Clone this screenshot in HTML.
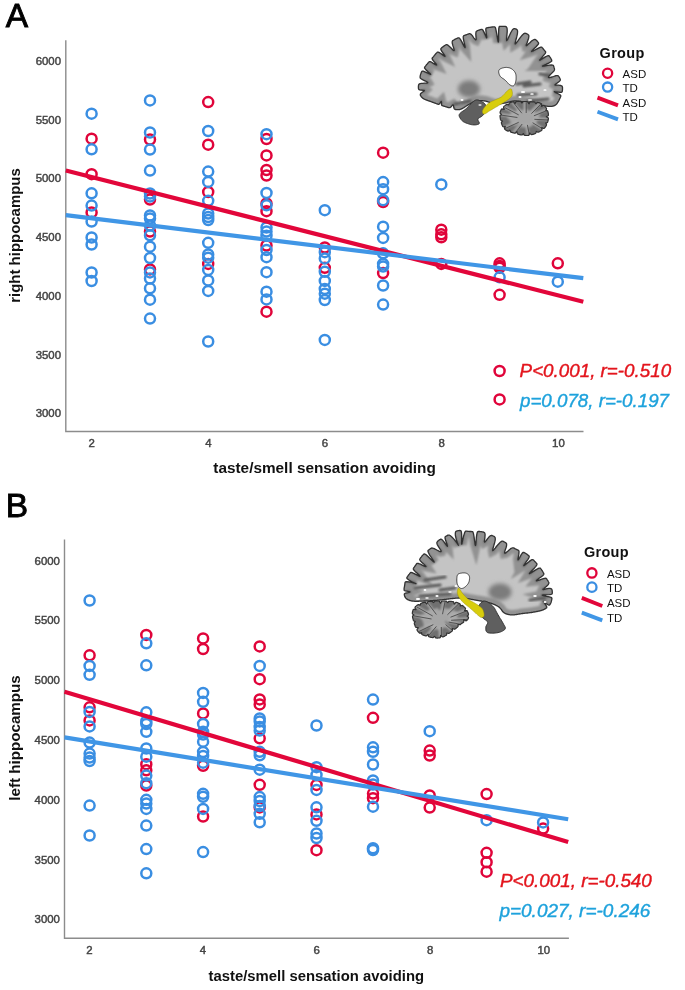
<!DOCTYPE html>
<html><head><meta charset="utf-8"><style>
html,body{margin:0;padding:0;background:#fff;}
svg{display:block;filter:blur(0.35px);}
text{font-family:"Liberation Sans",sans-serif;}
.tk{font-size:11.4px;fill:#444;stroke:#444;stroke-width:0.45px;}
.lab{font-size:15px;font-weight:bold;fill:#111;}
.st{font-size:19px;font-style:italic;stroke-width:0.4px;}
.lg{font-size:14px;font-weight:bold;fill:#111;letter-spacing:0.3px;}
.li{font-size:11.5px;fill:#111;}
.big{font-size:33.5px;fill:#000;stroke:#000;stroke-width:0.9px;}
</style></head><body>
<svg width="685" height="990" viewBox="0 0 685 990">
<text x="5.8" y="27.1" class="big">A</text>
<text x="5.8" y="516.6" class="big">B</text>
<defs><clipPath id="ccA"><path d="M422.1 97.6L421.8 97.3L421.6 97.0L421.3 96.7L421.1 96.4L420.8 96.0L420.6 95.7L420.4 95.4L420.3 95.0L420.3 94.6L420.4 94.1L420.7 93.5L421.4 92.9L422.3 92.2L423.3 91.5L424.1 90.9L424.4 90.6L424.0 90.4L423.0 90.3L421.8 90.2L420.6 90.1L419.7 89.9L419.1 89.6L418.7 89.2L418.6 88.9L418.5 88.5L418.4 88.1L418.4 87.7L418.4 87.3L418.4 86.9L418.4 86.5L418.4 86.1L418.5 85.7L418.5 85.3L418.6 84.9L418.8 84.5L419.0 84.2L419.5 83.8L420.2 83.6L421.3 83.4L422.8 83.3L424.4 83.2L426.0 83.2L427.2 83.0L427.7 82.7L427.4 82.2L426.4 81.5L424.9 80.8L423.4 80.1L422.1 79.4L421.1 78.8L420.5 78.3L420.2 77.9L420.1 77.4L420.1 77.0L420.1 76.6L420.2 76.2L420.2 75.8L420.3 75.4L420.4 75.1L420.5 74.7L420.6 74.3L420.7 73.9L420.9 73.5L421.0 73.1L421.2 72.8L421.3 72.4L421.5 72.0L421.7 71.7L421.9 71.4L422.3 71.1L423.3 71.2L424.9 71.8L427.3 72.9L429.6 74.0L430.7 74.4L429.9 73.5L428.0 71.8L426.1 70.0L425.0 68.7L424.5 67.9L424.6 67.4L424.7 67.0L425.0 66.7L425.2 66.4L425.5 66.1L425.7 65.7L426.0 65.4L426.2 65.1L426.5 64.8L426.7 64.5L427.0 64.2L427.3 63.9L427.5 63.6L427.8 63.3L428.0 63.0L428.3 62.7L428.6 62.4L428.8 62.1L429.1 61.8L429.5 61.6L430.2 61.7L431.5 62.2L433.4 63.4L435.5 64.6L436.6 65.0L436.1 64.0L434.5 62.1L433.0 60.4L432.3 59.2L432.1 58.5L432.2 58.1L432.4 57.8L432.7 57.5L433.0 57.2L433.2 56.9L433.5 56.6L433.7 56.3L434.0 55.9L434.2 55.6L434.5 55.3L434.7 55.0L435.0 54.7L435.3 54.4L435.5 54.1L435.8 53.8L436.1 53.5L436.3 53.2L436.6 52.9L436.9 52.6L437.1 52.3L437.5 52.1L438.0 52.1L438.9 52.4L440.4 53.3L442.4 54.6L444.2 55.9L445.0 56.3L444.6 55.4L443.4 53.6L442.0 51.7L441.1 50.2L440.8 49.3L440.9 48.7L441.1 48.4L441.4 48.1L441.7 47.8L442.0 47.6L442.3 47.3L442.6 47.1L442.9 46.8L443.3 46.6L443.6 46.3L443.9 46.1L444.2 45.9L444.5 45.6L444.9 45.4L445.2 45.2L445.5 45.0L445.9 44.8L446.3 44.7L446.8 44.7L447.4 44.9L448.2 45.4L449.2 46.2L450.3 47.3L451.6 48.5L452.7 49.7L453.6 50.4L454.1 50.6L454.2 50.1L453.9 48.9L453.5 47.4L452.9 45.7L452.5 44.2L452.2 43.0L452.2 42.1L452.3 41.4L452.5 41.0L452.7 40.6L453.1 40.4L453.4 40.2L453.7 40.0L454.1 39.8L454.4 39.6L454.8 39.4L455.2 39.2L455.5 39.0L455.9 38.9L456.2 38.7L456.6 38.5L457.0 38.3L457.3 38.2L457.7 38.0L458.1 37.9L458.5 37.8L458.9 37.8L459.5 38.2L460.4 39.4L461.6 41.4L463.0 44.1L464.3 46.6L465.1 47.5L465.0 46.3L464.4 43.6L463.7 40.6L463.3 38.3L463.2 36.9L463.4 36.1L463.7 35.8L464.0 35.6L464.4 35.4L464.8 35.3L465.2 35.2L465.5 35.0L465.9 34.9L466.3 34.8L466.7 34.6L467.0 34.5L467.4 34.3L467.8 34.2L468.2 34.1L468.6 33.9L468.9 33.8L469.3 33.7L469.7 33.7L470.2 33.8L470.7 34.1L471.4 34.6L472.1 35.4L472.9 36.5L473.8 37.8L474.7 38.9L475.4 39.6L475.9 39.8L476.1 39.4L476.1 38.3L476.0 36.9L475.9 35.4L475.8 34.1L475.9 33.0L476.0 32.1L476.2 31.6L476.5 31.2L476.8 31.0L477.2 30.8L477.6 30.6L477.9 30.5L478.3 30.3L478.7 30.2L479.1 30.1L479.5 30.0L479.8 29.8L480.2 29.7L480.6 29.6L481.0 29.5L481.4 29.4L481.8 29.3L482.2 29.4L482.8 29.9L483.6 31.4L484.8 33.9L486.0 36.6L486.7 37.8L486.6 36.4L486.2 33.5L485.9 30.7L485.8 29.1L486.1 28.3L486.4 28.0L486.8 27.9L487.2 27.8L487.6 27.7L488.0 27.6L488.3 27.6L488.7 27.5L489.1 27.4L489.5 27.4L489.9 27.3L490.3 27.3L490.7 27.2L491.1 27.1L491.5 27.1L491.9 27.0L492.3 27.0L492.7 26.9L493.1 26.9L493.5 26.9L493.9 26.8L494.3 26.8L494.7 26.9L495.2 27.3L495.7 28.6L496.3 31.5L497.1 35.9L497.8 40.2L498.3 42.0L498.5 40.1L498.5 35.8L498.6 31.3L498.8 28.4L499.1 27.0L499.5 26.5L499.9 26.4L500.3 26.3L500.7 26.3L501.1 26.3L501.5 26.3L501.9 26.3L502.3 26.3L502.7 26.3L503.1 26.3L503.5 26.3L503.9 26.3L504.3 26.3L504.7 26.4L505.1 26.4L505.5 26.5L505.9 26.6L506.2 26.8L506.6 27.2L506.9 27.8L507.1 28.7L507.2 30.1L507.2 31.9L507.0 34.1L506.8 36.4L506.6 38.5L506.6 40.0L506.7 40.5L507.1 40.1L507.9 38.8L508.8 36.9L509.8 34.8L510.7 32.8L511.6 31.2L512.3 30.0L513.0 29.3L513.5 28.9L514.0 28.7L514.4 28.7L514.8 28.7L515.2 28.8L515.6 28.9L516.0 29.0L516.3 29.2L516.7 29.4L517.0 29.7L517.3 30.1L517.5 30.7L517.6 31.6L517.5 32.8L517.3 34.3L516.9 36.2L516.4 38.3L515.8 40.3L515.4 42.1L515.2 43.3L515.2 43.9L515.7 43.6L516.5 42.6L517.7 41.2L518.9 39.4L520.2 37.7L521.4 36.2L522.4 35.0L523.3 34.1L524.0 33.6L524.5 33.3L525.0 33.2L525.5 33.3L525.8 33.4L526.2 33.5L526.6 33.7L526.9 33.8L527.3 34.0L527.6 34.2L528.0 34.5L528.3 34.7L528.6 35.1L528.8 35.5L528.9 36.2L528.8 37.0L528.6 38.2L528.2 39.6L527.6 41.2L527.1 42.8L526.5 44.3L526.2 45.3L526.3 45.7L526.7 45.6L527.5 44.9L528.6 43.8L529.9 42.7L531.1 41.5L532.2 40.6L533.2 40.0L534.0 39.6L534.6 39.5L535.1 39.5L535.5 39.6L535.9 39.9L536.2 40.1L536.5 40.4L536.8 40.7L537.0 41.0L537.3 41.3L537.6 41.6L537.8 41.9L538.1 42.2L538.3 42.5L538.5 42.8L538.6 43.3L538.4 44.0L537.6 45.0L536.1 46.7L534.0 48.7L532.2 50.6L531.6 51.5L532.6 51.2L534.9 50.0L537.5 48.6L539.5 47.6L540.8 47.1L541.5 47.1L541.9 47.3L542.2 47.6L542.4 47.9L542.7 48.2L542.9 48.5L543.2 48.8L543.4 49.2L543.7 49.5L543.9 49.8L544.2 50.1L544.5 50.4L544.7 50.7L545.0 51.0L545.2 51.3L545.5 51.6L545.7 52.0L545.6 52.6L545.1 53.6L543.8 55.2L542.0 57.3L540.3 59.3L539.7 60.2L540.7 59.8L542.9 58.4L545.3 56.9L547.1 56.0L548.2 55.6L548.7 55.7L549.1 55.9L549.4 56.2L549.6 56.5L549.8 56.8L550.1 57.2L550.3 57.5L550.5 57.9L550.7 58.2L550.9 58.5L551.1 58.9L551.3 59.2L551.5 59.6L551.6 60.0L551.7 60.4L551.8 60.8L551.5 61.3L550.6 62.0L548.7 63.1L546.0 64.4L543.5 65.5L542.5 66.1L543.7 66.1L546.4 65.7L549.4 65.2L551.5 65.0L552.7 65.1L553.2 65.3L553.5 65.7L553.6 66.1L553.7 66.4L553.8 66.8L554.0 67.2L554.1 67.6L554.2 68.0L554.3 68.3L554.4 68.7L554.5 69.1L554.5 69.6L554.4 70.0L554.1 70.6L553.6 71.4L552.7 72.3L551.6 73.4L550.4 74.6L549.3 75.8L548.6 76.8L548.5 77.4L549.1 77.6L550.3 77.4L551.8 77.0L553.5 76.5L554.9 76.0L556.1 75.7L557.0 75.6L557.7 75.7L558.1 75.8L558.5 76.1L558.8 76.4L559.0 76.7L559.2 77.1L559.4 77.4L559.6 77.8L559.8 78.1L560.0 78.5L560.1 78.8L560.3 79.2L560.3 79.6L560.3 80.1L560.1 80.6L559.6 81.1L558.9 81.8L557.9 82.5L556.9 83.3L555.9 84.0L555.2 84.5L555.0 84.9L555.3 85.1L556.2 85.1L557.4 85.2L558.7 85.2L559.9 85.3L560.8 85.5L561.5 85.8L562.0 86.1L562.2 86.5L562.4 86.9L562.5 87.3L562.5 87.7L562.5 88.1L562.5 88.5L562.5 88.9L562.5 89.3L562.5 89.7L562.4 90.1L562.4 90.5L562.3 90.9L562.3 91.2L562.2 91.6L562.0 92.0L561.5 92.3L560.3 92.4L558.0 92.1L555.5 91.8L554.3 91.7L555.3 92.3L557.6 93.5L559.6 94.5L560.6 95.3L560.8 95.8L560.8 96.2L560.6 96.6L560.5 97.0L560.3 97.3L560.2 97.7L560.0 98.1L559.9 98.4L559.7 98.8L559.5 99.2L559.3 99.5L559.2 99.9L559.0 100.2L558.8 100.6L558.6 101.0L558.4 101.3L558.2 101.7L558.0 102.0L557.8 102.3L557.6 102.7L557.4 103.0L557.2 103.3L556.9 103.7L556.7 104.0L556.4 104.3L556.1 104.5L555.8 104.8L555.5 105.0L555.1 105.3L554.8 105.4L554.4 105.6L554.1 105.8L553.7 105.9L553.3 106.0L552.9 106.1L552.5 106.2L552.1 106.3L551.7 106.3L551.3 106.3L550.9 106.4L550.5 106.4L550.1 106.4L549.7 106.4L549.3 106.4L548.9 106.3L548.5 106.3L548.1 106.3L547.7 106.3L547.3 106.2L546.9 106.2L546.5 106.2L546.1 106.1L545.7 106.1L545.3 106.0L544.9 106.0L544.5 105.9L544.1 105.9L543.7 105.8L543.3 105.8L543.0 105.7L542.6 105.6L542.2 105.6L541.8 105.5L541.4 105.4L541.0 105.3L540.6 105.3L540.2 105.2L539.8 105.1L539.4 105.0L539.0 104.9L538.6 104.8L538.2 104.7L537.9 104.7L537.5 104.6L537.1 104.5L536.7 104.4L536.3 104.3L535.9 104.2L535.5 104.1L535.1 104.0L534.7 103.9L534.3 103.9L533.9 103.8L533.6 103.7L533.2 103.6L532.8 103.5L532.4 103.4L532.0 103.4L531.6 103.3L531.2 103.2L530.8 103.1L530.4 103.1L530.0 103.0L529.6 102.9L529.2 102.9L528.8 102.8L528.4 102.7L528.0 102.7L527.7 102.6L527.3 102.5L526.9 102.5L526.5 102.4L526.1 102.3L525.7 102.3L525.3 102.2L524.9 102.1L524.5 102.1L524.1 102.0L523.7 101.9L523.3 101.9L522.9 101.8L522.5 101.7L522.1 101.7L521.7 101.6L521.3 101.6L520.9 101.5L520.5 101.5L520.1 101.4L519.7 101.4L519.3 101.3L518.9 101.3L518.6 101.2L518.2 101.2L517.8 101.1L517.4 101.1L517.0 101.1L516.6 101.1L516.2 101.0L515.8 101.0L515.4 101.0L515.0 101.0L514.6 101.0L514.2 101.0L513.8 101.0L513.4 101.1L513.0 101.1L512.6 101.2L512.2 101.2L511.8 101.3L511.4 101.4L511.0 101.5L510.6 101.6L510.2 101.7L509.8 101.8L509.4 101.9L509.1 102.0L508.7 102.1L508.3 102.2L507.9 102.3L507.5 102.4L507.1 102.5L506.7 102.6L506.4 102.7L506.0 102.8L505.6 102.9L505.2 103.0L504.8 103.0L504.4 103.1L504.0 103.2L503.6 103.2L503.2 103.3L502.8 103.4L502.4 103.4L502.0 103.5L501.6 103.6L501.2 103.6L500.8 103.7L500.4 103.7L500.0 103.8L499.6 103.9L499.2 103.9L498.8 103.9L498.4 104.0L498.0 104.0L497.6 104.0L497.2 104.1L496.8 104.1L496.4 104.1L496.0 104.1L495.6 104.0L495.2 104.0L494.8 104.0L494.5 103.9L494.1 103.9L493.7 103.8L493.3 103.7L492.9 103.6L492.5 103.5L492.1 103.3L491.7 103.2L491.4 103.1L491.0 103.0L490.6 102.8L490.2 102.7L489.9 102.5L489.5 102.4L489.1 102.2L488.7 102.1L488.4 102.0L488.0 101.8L487.6 101.7L487.2 101.6L486.9 101.4L486.5 101.3L486.1 101.2L485.7 101.1L485.3 101.1L484.9 101.0L484.5 100.9L484.1 100.9L483.7 100.8L483.3 100.8L482.9 100.7L482.5 100.7L482.1 100.7L481.7 100.6L481.3 100.6L480.9 100.6L480.5 100.6L480.1 100.6L479.7 100.6L479.3 100.6L478.9 100.6L478.5 100.6L478.1 100.7L477.7 100.7L477.3 100.8L476.9 100.8L476.5 100.9L476.1 101.0L475.8 101.1L475.4 101.2L475.0 101.3L474.6 101.4L474.2 101.6L473.9 101.7L473.5 101.9L473.1 102.1L472.8 102.2L472.4 102.4L472.1 102.6L471.7 102.8L471.4 103.0L471.0 103.2L470.7 103.4L470.4 103.6L470.0 103.8L469.7 104.0L469.3 104.2L469.0 104.4L468.6 104.6L468.2 104.8L467.9 105.0L467.5 105.2L467.2 105.4L466.9 105.6L466.5 105.8L466.2 106.0L465.9 106.2L465.5 106.5L465.2 106.7L464.9 106.9L464.5 107.1L464.2 107.4L463.9 107.6L463.5 107.8L463.2 108.0L462.8 108.2L462.5 108.4L462.1 108.6L461.8 108.8L461.4 108.9L461.0 109.1L460.7 109.2L460.3 109.3L459.9 109.5L459.5 109.6L459.1 109.6L458.7 109.7L458.3 109.7L457.9 109.7L457.5 109.7L457.1 109.7L456.7 109.7L456.3 109.6L455.9 109.6L455.5 109.5L455.1 109.4L454.8 109.2L454.4 109.0L454.1 108.5L453.9 107.8L453.7 106.9L453.6 106.0L453.4 105.3L453.1 104.9L452.7 105.1L452.1 105.6L451.5 106.3L450.9 107.0L450.3 107.4L449.8 107.7L449.4 107.7L449.0 107.7L448.6 107.6L448.2 107.5L447.8 107.4L447.4 107.3L447.1 107.1L446.7 107.0L446.3 106.9L445.9 106.8L445.5 106.7L445.1 106.5L444.8 106.4L444.4 106.3L444.0 106.2L443.6 106.1L443.2 106.0L442.8 105.8L442.5 105.7L442.1 105.6L441.8 105.3L441.5 104.8L441.5 103.6L441.5 102.3L441.3 101.5L440.8 102.0L440.0 103.1L439.3 104.0L438.7 104.3L438.3 104.3L437.9 104.2L437.5 104.1L437.2 103.9L436.8 103.8L436.4 103.7L436.0 103.5L435.7 103.4L435.3 103.2L434.9 103.1L434.5 103.0L434.2 102.8L433.8 102.7L433.4 102.5L433.0 102.4L432.7 102.3L432.3 102.1L431.9 102.0L431.5 101.8L431.2 101.7L430.8 101.5L430.4 101.4L430.0 101.3L429.6 101.2L429.3 101.0L428.9 100.9L428.5 100.8L428.1 100.6L427.7 100.5L427.4 100.4L427.0 100.2L426.6 100.1L426.2 100.0L425.9 99.8L425.5 99.7L425.1 99.5L424.8 99.3L424.4 99.2L424.1 99.0L423.7 98.8L423.4 98.6L423.0 98.4L422.7 98.1L422.4 97.9Z"/></clipPath><clipPath id="cbA"><path d="M501.4 114.3L501.1 113.9L500.5 113.5L500.1 113.1L500.1 112.7L500.1 112.3L500.2 111.9L500.3 111.5L500.4 111.2L500.6 110.8L500.8 110.4L500.9 110.1L501.2 109.7L501.4 109.4L501.6 109.1L502.1 108.9L502.9 109.1L503.8 109.4L504.2 109.3L504.0 108.5L503.6 107.7L503.6 107.1L503.7 106.7L504.0 106.4L504.3 106.1L504.6 105.9L504.9 105.6L505.2 105.4L505.6 105.1L505.9 104.9L506.2 104.7L506.5 104.4L506.9 104.3L507.4 104.3L508.0 104.6L508.6 104.9L508.9 104.7L509.0 104.0L509.1 103.4L509.4 103.0L509.7 102.8L510.1 102.6L510.5 102.5L510.8 102.3L511.2 102.2L511.6 102.1L512.0 102.0L512.4 101.9L512.8 101.8L513.2 101.7L513.6 101.8L514.1 102.2L514.5 103.0L515.0 103.6L515.3 103.3L515.6 102.4L516.0 101.7L516.4 101.4L516.7 101.3L517.1 101.3L517.5 101.3L517.9 101.3L518.3 101.3L518.7 101.3L519.1 101.3L519.5 101.3L519.9 101.3L520.3 101.4L520.7 101.5L521.1 101.9L521.5 102.6L521.9 102.9L522.3 102.5L522.7 101.9L523.1 101.6L523.6 101.5L524.0 101.5L524.4 101.5L524.8 101.5L525.2 101.5L525.6 101.5L526.0 101.5L526.4 101.5L526.8 101.6L527.2 101.6L527.6 101.7L527.9 102.0L528.3 102.7L528.7 103.6L529.1 103.8L529.5 103.1L529.9 102.2L530.3 101.8L530.8 101.7L531.2 101.7L531.6 101.8L532.0 101.8L532.4 101.8L532.8 101.8L533.2 101.9L533.6 101.9L534.0 101.9L534.3 102.0L534.7 102.1L535.1 102.4L535.4 103.0L535.8 103.6L536.1 103.6L536.6 103.0L537.1 102.6L537.5 102.4L537.9 102.5L538.3 102.5L538.7 102.6L539.1 102.7L539.5 102.8L539.9 103.0L540.2 103.1L540.6 103.2L541.0 103.4L541.3 103.6L541.6 103.9L541.7 104.5L541.6 105.5L541.5 106.2L542.0 106.1L542.8 105.5L543.5 105.3L544.0 105.4L544.3 105.6L544.6 105.9L544.9 106.1L545.1 106.4L545.4 106.8L545.6 107.1L545.9 107.4L546.1 107.7L546.3 108.1L546.5 108.4L546.5 108.8L546.4 109.4L546.0 110.0L545.9 110.4L546.4 110.6L547.1 110.7L547.6 111.0L547.8 111.3L547.9 111.7L548.0 112.1L548.1 112.5L548.2 112.9L548.3 113.3L548.3 113.7L548.4 114.1L548.4 114.5L548.5 114.9L548.4 115.3L548.1 115.7L547.4 116.1L546.6 116.5L546.4 116.8L547.2 117.2L548.0 117.6L548.3 118.0L548.4 118.5L548.4 118.9L548.3 119.3L548.2 119.6L548.2 120.0L548.1 120.4L548.0 120.8L547.9 121.2L547.8 121.6L547.7 122.0L547.5 122.3L547.1 122.6L546.4 122.8L545.8 123.0L545.8 123.4L546.2 123.9L546.5 124.5L546.5 125.0L546.4 125.3L546.2 125.7L546.0 126.0L545.8 126.4L545.6 126.7L545.3 127.0L545.1 127.4L544.8 127.7L544.6 128.0L544.3 128.2L543.9 128.4L543.2 128.3L542.4 127.8L541.8 127.6L541.7 128.1L542.0 129.1L542.0 129.8L541.8 130.2L541.5 130.5L541.1 130.7L540.8 130.9L540.5 131.1L540.1 131.3L539.8 131.5L539.4 131.7L539.0 131.9L538.7 132.0L538.3 132.2L537.9 132.2L537.3 132.0L536.7 131.6L536.3 131.5L536.1 132.1L536.0 132.8L535.7 133.2L535.4 133.5L535.0 133.6L534.6 133.8L534.3 133.9L533.9 134.1L533.5 134.2L533.1 134.3L532.7 134.4L532.4 134.5L532.0 134.6L531.6 134.7L531.1 134.4L530.5 133.8L530.0 133.1L529.6 133.1L529.4 133.9L529.2 134.8L528.8 135.2L528.5 135.4L528.1 135.4L527.7 135.5L527.3 135.5L526.9 135.5L526.5 135.5L526.1 135.5L525.7 135.5L525.3 135.5L524.9 135.4L524.5 135.3L524.1 135.0L523.8 134.4L523.5 133.8L523.1 133.9L522.6 134.5L522.1 134.9L521.7 135.0L521.3 135.0L520.9 134.9L520.5 134.8L520.1 134.7L519.7 134.6L519.3 134.6L518.9 134.5L518.6 134.4L518.2 134.3L517.8 134.1L517.5 133.8L517.2 133.2L517.1 132.2L516.9 131.6L516.4 131.9L515.7 132.7L515.2 133.1L514.7 133.2L514.3 133.1L513.9 133.0L513.6 132.9L513.2 132.8L512.8 132.7L512.4 132.6L512.0 132.5L511.6 132.4L511.3 132.2L510.9 132.1L510.5 131.8L510.3 131.3L510.1 130.6L509.8 130.2L509.3 130.5L508.7 131.0L508.3 131.1L507.8 131.1L507.5 130.9L507.1 130.8L506.8 130.6L506.4 130.4L506.1 130.2L505.7 129.9L505.4 129.7L505.1 129.5L504.8 129.2L504.6 128.9L504.5 128.3L504.9 127.5L505.3 126.8L505.2 126.5L504.3 126.7L503.5 126.8L502.9 126.6L502.7 126.3L502.5 126.0L502.3 125.6L502.2 125.2L502.0 124.8L501.9 124.5L501.7 124.1L501.6 123.7L501.5 123.3L501.4 123.0L501.4 122.5L501.6 122.1L502.0 121.5L502.4 121.1L502.1 120.7L501.4 120.5L500.9 120.2L500.6 119.8L500.5 119.5L500.4 119.1L500.4 118.7L500.3 118.3L500.2 117.9L500.2 117.5L500.1 117.1L500.1 116.7L500.0 116.3L500.0 115.9L500.1 115.5L500.5 115.1L501.1 114.7Z"/></clipPath><filter id="blA" x="-5%" y="-5%" width="110%" height="110%"><feGaussianBlur stdDeviation="0.6"/></filter><filter id="cxA" x="-5%" y="-5%" width="110%" height="110%"><feGaussianBlur stdDeviation="1.1"/></filter><filter id="bbA" x="-50%" y="-50%" width="200%" height="200%"><feGaussianBlur stdDeviation="2.2"/></filter></defs>
<g filter="url(#blA)">
<path d="M422.1 97.6L421.8 97.3L421.6 97.0L421.3 96.7L421.1 96.4L420.8 96.0L420.6 95.7L420.4 95.4L420.3 95.0L420.3 94.6L420.4 94.1L420.7 93.5L421.4 92.9L422.3 92.2L423.3 91.5L424.1 90.9L424.4 90.6L424.0 90.4L423.0 90.3L421.8 90.2L420.6 90.1L419.7 89.9L419.1 89.6L418.7 89.2L418.6 88.9L418.5 88.5L418.4 88.1L418.4 87.7L418.4 87.3L418.4 86.9L418.4 86.5L418.4 86.1L418.5 85.7L418.5 85.3L418.6 84.9L418.8 84.5L419.0 84.2L419.5 83.8L420.2 83.6L421.3 83.4L422.8 83.3L424.4 83.2L426.0 83.2L427.2 83.0L427.7 82.7L427.4 82.2L426.4 81.5L424.9 80.8L423.4 80.1L422.1 79.4L421.1 78.8L420.5 78.3L420.2 77.9L420.1 77.4L420.1 77.0L420.1 76.6L420.2 76.2L420.2 75.8L420.3 75.4L420.4 75.1L420.5 74.7L420.6 74.3L420.7 73.9L420.9 73.5L421.0 73.1L421.2 72.8L421.3 72.4L421.5 72.0L421.7 71.7L421.9 71.4L422.3 71.1L423.3 71.2L424.9 71.8L427.3 72.9L429.6 74.0L430.7 74.4L429.9 73.5L428.0 71.8L426.1 70.0L425.0 68.7L424.5 67.9L424.6 67.4L424.7 67.0L425.0 66.7L425.2 66.4L425.5 66.1L425.7 65.7L426.0 65.4L426.2 65.1L426.5 64.8L426.7 64.5L427.0 64.2L427.3 63.9L427.5 63.6L427.8 63.3L428.0 63.0L428.3 62.7L428.6 62.4L428.8 62.1L429.1 61.8L429.5 61.6L430.2 61.7L431.5 62.2L433.4 63.4L435.5 64.6L436.6 65.0L436.1 64.0L434.5 62.1L433.0 60.4L432.3 59.2L432.1 58.5L432.2 58.1L432.4 57.8L432.7 57.5L433.0 57.2L433.2 56.9L433.5 56.6L433.7 56.3L434.0 55.9L434.2 55.6L434.5 55.3L434.7 55.0L435.0 54.7L435.3 54.4L435.5 54.1L435.8 53.8L436.1 53.5L436.3 53.2L436.6 52.9L436.9 52.6L437.1 52.3L437.5 52.1L438.0 52.1L438.9 52.4L440.4 53.3L442.4 54.6L444.2 55.9L445.0 56.3L444.6 55.4L443.4 53.6L442.0 51.7L441.1 50.2L440.8 49.3L440.9 48.7L441.1 48.4L441.4 48.1L441.7 47.8L442.0 47.6L442.3 47.3L442.6 47.1L442.9 46.8L443.3 46.6L443.6 46.3L443.9 46.1L444.2 45.9L444.5 45.6L444.9 45.4L445.2 45.2L445.5 45.0L445.9 44.8L446.3 44.7L446.8 44.7L447.4 44.9L448.2 45.4L449.2 46.2L450.3 47.3L451.6 48.5L452.7 49.7L453.6 50.4L454.1 50.6L454.2 50.1L453.9 48.9L453.5 47.4L452.9 45.7L452.5 44.2L452.2 43.0L452.2 42.1L452.3 41.4L452.5 41.0L452.7 40.6L453.1 40.4L453.4 40.2L453.7 40.0L454.1 39.8L454.4 39.6L454.8 39.4L455.2 39.2L455.5 39.0L455.9 38.9L456.2 38.7L456.6 38.5L457.0 38.3L457.3 38.2L457.7 38.0L458.1 37.9L458.5 37.8L458.9 37.8L459.5 38.2L460.4 39.4L461.6 41.4L463.0 44.1L464.3 46.6L465.1 47.5L465.0 46.3L464.4 43.6L463.7 40.6L463.3 38.3L463.2 36.9L463.4 36.1L463.7 35.8L464.0 35.6L464.4 35.4L464.8 35.3L465.2 35.2L465.5 35.0L465.9 34.9L466.3 34.8L466.7 34.6L467.0 34.5L467.4 34.3L467.8 34.2L468.2 34.1L468.6 33.9L468.9 33.8L469.3 33.7L469.7 33.7L470.2 33.8L470.7 34.1L471.4 34.6L472.1 35.4L472.9 36.5L473.8 37.8L474.7 38.9L475.4 39.6L475.9 39.8L476.1 39.4L476.1 38.3L476.0 36.9L475.9 35.4L475.8 34.1L475.9 33.0L476.0 32.1L476.2 31.6L476.5 31.2L476.8 31.0L477.2 30.8L477.6 30.6L477.9 30.5L478.3 30.3L478.7 30.2L479.1 30.1L479.5 30.0L479.8 29.8L480.2 29.7L480.6 29.6L481.0 29.5L481.4 29.4L481.8 29.3L482.2 29.4L482.8 29.9L483.6 31.4L484.8 33.9L486.0 36.6L486.7 37.8L486.6 36.4L486.2 33.5L485.9 30.7L485.8 29.1L486.1 28.3L486.4 28.0L486.8 27.9L487.2 27.8L487.6 27.7L488.0 27.6L488.3 27.6L488.7 27.5L489.1 27.4L489.5 27.4L489.9 27.3L490.3 27.3L490.7 27.2L491.1 27.1L491.5 27.1L491.9 27.0L492.3 27.0L492.7 26.9L493.1 26.9L493.5 26.9L493.9 26.8L494.3 26.8L494.7 26.9L495.2 27.3L495.7 28.6L496.3 31.5L497.1 35.9L497.8 40.2L498.3 42.0L498.5 40.1L498.5 35.8L498.6 31.3L498.8 28.4L499.1 27.0L499.5 26.5L499.9 26.4L500.3 26.3L500.7 26.3L501.1 26.3L501.5 26.3L501.9 26.3L502.3 26.3L502.7 26.3L503.1 26.3L503.5 26.3L503.9 26.3L504.3 26.3L504.7 26.4L505.1 26.4L505.5 26.5L505.9 26.6L506.2 26.8L506.6 27.2L506.9 27.8L507.1 28.7L507.2 30.1L507.2 31.9L507.0 34.1L506.8 36.4L506.6 38.5L506.6 40.0L506.7 40.5L507.1 40.1L507.9 38.8L508.8 36.9L509.8 34.8L510.7 32.8L511.6 31.2L512.3 30.0L513.0 29.3L513.5 28.9L514.0 28.7L514.4 28.7L514.8 28.7L515.2 28.8L515.6 28.9L516.0 29.0L516.3 29.2L516.7 29.4L517.0 29.7L517.3 30.1L517.5 30.7L517.6 31.6L517.5 32.8L517.3 34.3L516.9 36.2L516.4 38.3L515.8 40.3L515.4 42.1L515.2 43.3L515.2 43.9L515.7 43.6L516.5 42.6L517.7 41.2L518.9 39.4L520.2 37.7L521.4 36.2L522.4 35.0L523.3 34.1L524.0 33.6L524.5 33.3L525.0 33.2L525.5 33.3L525.8 33.4L526.2 33.5L526.6 33.7L526.9 33.8L527.3 34.0L527.6 34.2L528.0 34.5L528.3 34.7L528.6 35.1L528.8 35.5L528.9 36.2L528.8 37.0L528.6 38.2L528.2 39.6L527.6 41.2L527.1 42.8L526.5 44.3L526.2 45.3L526.3 45.7L526.7 45.6L527.5 44.9L528.6 43.8L529.9 42.7L531.1 41.5L532.2 40.6L533.2 40.0L534.0 39.6L534.6 39.5L535.1 39.5L535.5 39.6L535.9 39.9L536.2 40.1L536.5 40.4L536.8 40.7L537.0 41.0L537.3 41.3L537.6 41.6L537.8 41.9L538.1 42.2L538.3 42.5L538.5 42.8L538.6 43.3L538.4 44.0L537.6 45.0L536.1 46.7L534.0 48.7L532.2 50.6L531.6 51.5L532.6 51.2L534.9 50.0L537.5 48.6L539.5 47.6L540.8 47.1L541.5 47.1L541.9 47.3L542.2 47.6L542.4 47.9L542.7 48.2L542.9 48.5L543.2 48.8L543.4 49.2L543.7 49.5L543.9 49.8L544.2 50.1L544.5 50.4L544.7 50.7L545.0 51.0L545.2 51.3L545.5 51.6L545.7 52.0L545.6 52.6L545.1 53.6L543.8 55.2L542.0 57.3L540.3 59.3L539.7 60.2L540.7 59.8L542.9 58.4L545.3 56.9L547.1 56.0L548.2 55.6L548.7 55.7L549.1 55.9L549.4 56.2L549.6 56.5L549.8 56.8L550.1 57.2L550.3 57.5L550.5 57.9L550.7 58.2L550.9 58.5L551.1 58.9L551.3 59.2L551.5 59.6L551.6 60.0L551.7 60.4L551.8 60.8L551.5 61.3L550.6 62.0L548.7 63.1L546.0 64.4L543.5 65.5L542.5 66.1L543.7 66.1L546.4 65.7L549.4 65.2L551.5 65.0L552.7 65.1L553.2 65.3L553.5 65.7L553.6 66.1L553.7 66.4L553.8 66.8L554.0 67.2L554.1 67.6L554.2 68.0L554.3 68.3L554.4 68.7L554.5 69.1L554.5 69.6L554.4 70.0L554.1 70.6L553.6 71.4L552.7 72.3L551.6 73.4L550.4 74.6L549.3 75.8L548.6 76.8L548.5 77.4L549.1 77.6L550.3 77.4L551.8 77.0L553.5 76.5L554.9 76.0L556.1 75.7L557.0 75.6L557.7 75.7L558.1 75.8L558.5 76.1L558.8 76.4L559.0 76.7L559.2 77.1L559.4 77.4L559.6 77.8L559.8 78.1L560.0 78.5L560.1 78.8L560.3 79.2L560.3 79.6L560.3 80.1L560.1 80.6L559.6 81.1L558.9 81.8L557.9 82.5L556.9 83.3L555.9 84.0L555.2 84.5L555.0 84.9L555.3 85.1L556.2 85.1L557.4 85.2L558.7 85.2L559.9 85.3L560.8 85.5L561.5 85.8L562.0 86.1L562.2 86.5L562.4 86.9L562.5 87.3L562.5 87.7L562.5 88.1L562.5 88.5L562.5 88.9L562.5 89.3L562.5 89.7L562.4 90.1L562.4 90.5L562.3 90.9L562.3 91.2L562.2 91.6L562.0 92.0L561.5 92.3L560.3 92.4L558.0 92.1L555.5 91.8L554.3 91.7L555.3 92.3L557.6 93.5L559.6 94.5L560.6 95.3L560.8 95.8L560.8 96.2L560.6 96.6L560.5 97.0L560.3 97.3L560.2 97.7L560.0 98.1L559.9 98.4L559.7 98.8L559.5 99.2L559.3 99.5L559.2 99.9L559.0 100.2L558.8 100.6L558.6 101.0L558.4 101.3L558.2 101.7L558.0 102.0L557.8 102.3L557.6 102.7L557.4 103.0L557.2 103.3L556.9 103.7L556.7 104.0L556.4 104.3L556.1 104.5L555.8 104.8L555.5 105.0L555.1 105.3L554.8 105.4L554.4 105.6L554.1 105.8L553.7 105.9L553.3 106.0L552.9 106.1L552.5 106.2L552.1 106.3L551.7 106.3L551.3 106.3L550.9 106.4L550.5 106.4L550.1 106.4L549.7 106.4L549.3 106.4L548.9 106.3L548.5 106.3L548.1 106.3L547.7 106.3L547.3 106.2L546.9 106.2L546.5 106.2L546.1 106.1L545.7 106.1L545.3 106.0L544.9 106.0L544.5 105.9L544.1 105.9L543.7 105.8L543.3 105.8L543.0 105.7L542.6 105.6L542.2 105.6L541.8 105.5L541.4 105.4L541.0 105.3L540.6 105.3L540.2 105.2L539.8 105.1L539.4 105.0L539.0 104.9L538.6 104.8L538.2 104.7L537.9 104.7L537.5 104.6L537.1 104.5L536.7 104.4L536.3 104.3L535.9 104.2L535.5 104.1L535.1 104.0L534.7 103.9L534.3 103.9L533.9 103.8L533.6 103.7L533.2 103.6L532.8 103.5L532.4 103.4L532.0 103.4L531.6 103.3L531.2 103.2L530.8 103.1L530.4 103.1L530.0 103.0L529.6 102.9L529.2 102.9L528.8 102.8L528.4 102.7L528.0 102.7L527.7 102.6L527.3 102.5L526.9 102.5L526.5 102.4L526.1 102.3L525.7 102.3L525.3 102.2L524.9 102.1L524.5 102.1L524.1 102.0L523.7 101.9L523.3 101.9L522.9 101.8L522.5 101.7L522.1 101.7L521.7 101.6L521.3 101.6L520.9 101.5L520.5 101.5L520.1 101.4L519.7 101.4L519.3 101.3L518.9 101.3L518.6 101.2L518.2 101.2L517.8 101.1L517.4 101.1L517.0 101.1L516.6 101.1L516.2 101.0L515.8 101.0L515.4 101.0L515.0 101.0L514.6 101.0L514.2 101.0L513.8 101.0L513.4 101.1L513.0 101.1L512.6 101.2L512.2 101.2L511.8 101.3L511.4 101.4L511.0 101.5L510.6 101.6L510.2 101.7L509.8 101.8L509.4 101.9L509.1 102.0L508.7 102.1L508.3 102.2L507.9 102.3L507.5 102.4L507.1 102.5L506.7 102.6L506.4 102.7L506.0 102.8L505.6 102.9L505.2 103.0L504.8 103.0L504.4 103.1L504.0 103.2L503.6 103.2L503.2 103.3L502.8 103.4L502.4 103.4L502.0 103.5L501.6 103.6L501.2 103.6L500.8 103.7L500.4 103.7L500.0 103.8L499.6 103.9L499.2 103.9L498.8 103.9L498.4 104.0L498.0 104.0L497.6 104.0L497.2 104.1L496.8 104.1L496.4 104.1L496.0 104.1L495.6 104.0L495.2 104.0L494.8 104.0L494.5 103.9L494.1 103.9L493.7 103.8L493.3 103.7L492.9 103.6L492.5 103.5L492.1 103.3L491.7 103.2L491.4 103.1L491.0 103.0L490.6 102.8L490.2 102.7L489.9 102.5L489.5 102.4L489.1 102.2L488.7 102.1L488.4 102.0L488.0 101.8L487.6 101.7L487.2 101.6L486.9 101.4L486.5 101.3L486.1 101.2L485.7 101.1L485.3 101.1L484.9 101.0L484.5 100.9L484.1 100.9L483.7 100.8L483.3 100.8L482.9 100.7L482.5 100.7L482.1 100.7L481.7 100.6L481.3 100.6L480.9 100.6L480.5 100.6L480.1 100.6L479.7 100.6L479.3 100.6L478.9 100.6L478.5 100.6L478.1 100.7L477.7 100.7L477.3 100.8L476.9 100.8L476.5 100.9L476.1 101.0L475.8 101.1L475.4 101.2L475.0 101.3L474.6 101.4L474.2 101.6L473.9 101.7L473.5 101.9L473.1 102.1L472.8 102.2L472.4 102.4L472.1 102.6L471.7 102.8L471.4 103.0L471.0 103.2L470.7 103.4L470.4 103.6L470.0 103.8L469.7 104.0L469.3 104.2L469.0 104.4L468.6 104.6L468.2 104.8L467.9 105.0L467.5 105.2L467.2 105.4L466.9 105.6L466.5 105.8L466.2 106.0L465.9 106.2L465.5 106.5L465.2 106.7L464.9 106.9L464.5 107.1L464.2 107.4L463.9 107.6L463.5 107.8L463.2 108.0L462.8 108.2L462.5 108.4L462.1 108.6L461.8 108.8L461.4 108.9L461.0 109.1L460.7 109.2L460.3 109.3L459.9 109.5L459.5 109.6L459.1 109.6L458.7 109.7L458.3 109.7L457.9 109.7L457.5 109.7L457.1 109.7L456.7 109.7L456.3 109.6L455.9 109.6L455.5 109.5L455.1 109.4L454.8 109.2L454.4 109.0L454.1 108.5L453.9 107.8L453.7 106.9L453.6 106.0L453.4 105.3L453.1 104.9L452.7 105.1L452.1 105.6L451.5 106.3L450.9 107.0L450.3 107.4L449.8 107.7L449.4 107.7L449.0 107.7L448.6 107.6L448.2 107.5L447.8 107.4L447.4 107.3L447.1 107.1L446.7 107.0L446.3 106.9L445.9 106.8L445.5 106.7L445.1 106.5L444.8 106.4L444.4 106.3L444.0 106.2L443.6 106.1L443.2 106.0L442.8 105.8L442.5 105.7L442.1 105.6L441.8 105.3L441.5 104.8L441.5 103.6L441.5 102.3L441.3 101.5L440.8 102.0L440.0 103.1L439.3 104.0L438.7 104.3L438.3 104.3L437.9 104.2L437.5 104.1L437.2 103.9L436.8 103.8L436.4 103.7L436.0 103.5L435.7 103.4L435.3 103.2L434.9 103.1L434.5 103.0L434.2 102.8L433.8 102.7L433.4 102.5L433.0 102.4L432.7 102.3L432.3 102.1L431.9 102.0L431.5 101.8L431.2 101.7L430.8 101.5L430.4 101.4L430.0 101.3L429.6 101.2L429.3 101.0L428.9 100.9L428.5 100.8L428.1 100.6L427.7 100.5L427.4 100.4L427.0 100.2L426.6 100.1L426.2 100.0L425.9 99.8L425.5 99.7L425.1 99.5L424.8 99.3L424.4 99.2L424.1 99.0L423.7 98.8L423.4 98.6L423.0 98.4L422.7 98.1L422.4 97.9Z" fill="#c4c4c4"/>
<g clip-path="url(#ccA)">
<g filter="url(#cxA)"><path d="M422.1 97.6L421.8 97.3L421.6 97.0L421.3 96.7L421.1 96.4L420.8 96.0L420.6 95.7L420.4 95.4L420.3 95.0L420.3 94.6L420.4 94.1L420.7 93.5L421.4 92.9L422.3 92.2L423.3 91.5L424.1 90.9L424.4 90.6L424.0 90.4L423.0 90.3L421.8 90.2L420.6 90.1L419.7 89.9L419.1 89.6L418.7 89.2L418.6 88.9L418.5 88.5L418.4 88.1L418.4 87.7L418.4 87.3L418.4 86.9L418.4 86.5L418.4 86.1L418.5 85.7L418.5 85.3L418.6 84.9L418.8 84.5L419.0 84.2L419.5 83.8L420.2 83.6L421.3 83.4L422.8 83.3L424.4 83.2L426.0 83.2L427.2 83.0L427.7 82.7L427.4 82.2L426.4 81.5L424.9 80.8L423.4 80.1L422.1 79.4L421.1 78.8L420.5 78.3L420.2 77.9L420.1 77.4L420.1 77.0L420.1 76.6L420.2 76.2L420.2 75.8L420.3 75.4L420.4 75.1L420.5 74.7L420.6 74.3L420.7 73.9L420.9 73.5L421.0 73.1L421.2 72.8L421.3 72.4L421.5 72.0L421.7 71.7L421.9 71.4L422.3 71.1L423.3 71.2L424.9 71.8L427.3 72.9L429.6 74.0L430.7 74.4L429.9 73.5L428.0 71.8L426.1 70.0L425.0 68.7L424.5 67.9L424.6 67.4L424.7 67.0L425.0 66.7L425.2 66.4L425.5 66.1L425.7 65.7L426.0 65.4L426.2 65.1L426.5 64.8L426.7 64.5L427.0 64.2L427.3 63.9L427.5 63.6L427.8 63.3L428.0 63.0L428.3 62.7L428.6 62.4L428.8 62.1L429.1 61.8L429.5 61.6L430.2 61.7L431.5 62.2L433.4 63.4L435.5 64.6L436.6 65.0L436.1 64.0L434.5 62.1L433.0 60.4L432.3 59.2L432.1 58.5L432.2 58.1L432.4 57.8L432.7 57.5L433.0 57.2L433.2 56.9L433.5 56.6L433.7 56.3L434.0 55.9L434.2 55.6L434.5 55.3L434.7 55.0L435.0 54.7L435.3 54.4L435.5 54.1L435.8 53.8L436.1 53.5L436.3 53.2L436.6 52.9L436.9 52.6L437.1 52.3L437.5 52.1L438.0 52.1L438.9 52.4L440.4 53.3L442.4 54.6L444.2 55.9L445.0 56.3L444.6 55.4L443.4 53.6L442.0 51.7L441.1 50.2L440.8 49.3L440.9 48.7L441.1 48.4L441.4 48.1L441.7 47.8L442.0 47.6L442.3 47.3L442.6 47.1L442.9 46.8L443.3 46.6L443.6 46.3L443.9 46.1L444.2 45.9L444.5 45.6L444.9 45.4L445.2 45.2L445.5 45.0L445.9 44.8L446.3 44.7L446.8 44.7L447.4 44.9L448.2 45.4L449.2 46.2L450.3 47.3L451.6 48.5L452.7 49.7L453.6 50.4L454.1 50.6L454.2 50.1L453.9 48.9L453.5 47.4L452.9 45.7L452.5 44.2L452.2 43.0L452.2 42.1L452.3 41.4L452.5 41.0L452.7 40.6L453.1 40.4L453.4 40.2L453.7 40.0L454.1 39.8L454.4 39.6L454.8 39.4L455.2 39.2L455.5 39.0L455.9 38.9L456.2 38.7L456.6 38.5L457.0 38.3L457.3 38.2L457.7 38.0L458.1 37.9L458.5 37.8L458.9 37.8L459.5 38.2L460.4 39.4L461.6 41.4L463.0 44.1L464.3 46.6L465.1 47.5L465.0 46.3L464.4 43.6L463.7 40.6L463.3 38.3L463.2 36.9L463.4 36.1L463.7 35.8L464.0 35.6L464.4 35.4L464.8 35.3L465.2 35.2L465.5 35.0L465.9 34.9L466.3 34.8L466.7 34.6L467.0 34.5L467.4 34.3L467.8 34.2L468.2 34.1L468.6 33.9L468.9 33.8L469.3 33.7L469.7 33.7L470.2 33.8L470.7 34.1L471.4 34.6L472.1 35.4L472.9 36.5L473.8 37.8L474.7 38.9L475.4 39.6L475.9 39.8L476.1 39.4L476.1 38.3L476.0 36.9L475.9 35.4L475.8 34.1L475.9 33.0L476.0 32.1L476.2 31.6L476.5 31.2L476.8 31.0L477.2 30.8L477.6 30.6L477.9 30.5L478.3 30.3L478.7 30.2L479.1 30.1L479.5 30.0L479.8 29.8L480.2 29.7L480.6 29.6L481.0 29.5L481.4 29.4L481.8 29.3L482.2 29.4L482.8 29.9L483.6 31.4L484.8 33.9L486.0 36.6L486.7 37.8L486.6 36.4L486.2 33.5L485.9 30.7L485.8 29.1L486.1 28.3L486.4 28.0L486.8 27.9L487.2 27.8L487.6 27.7L488.0 27.6L488.3 27.6L488.7 27.5L489.1 27.4L489.5 27.4L489.9 27.3L490.3 27.3L490.7 27.2L491.1 27.1L491.5 27.1L491.9 27.0L492.3 27.0L492.7 26.9L493.1 26.9L493.5 26.9L493.9 26.8L494.3 26.8L494.7 26.9L495.2 27.3L495.7 28.6L496.3 31.5L497.1 35.9L497.8 40.2L498.3 42.0L498.5 40.1L498.5 35.8L498.6 31.3L498.8 28.4L499.1 27.0L499.5 26.5L499.9 26.4L500.3 26.3L500.7 26.3L501.1 26.3L501.5 26.3L501.9 26.3L502.3 26.3L502.7 26.3L503.1 26.3L503.5 26.3L503.9 26.3L504.3 26.3L504.7 26.4L505.1 26.4L505.5 26.5L505.9 26.6L506.2 26.8L506.6 27.2L506.9 27.8L507.1 28.7L507.2 30.1L507.2 31.9L507.0 34.1L506.8 36.4L506.6 38.5L506.6 40.0L506.7 40.5L507.1 40.1L507.9 38.8L508.8 36.9L509.8 34.8L510.7 32.8L511.6 31.2L512.3 30.0L513.0 29.3L513.5 28.9L514.0 28.7L514.4 28.7L514.8 28.7L515.2 28.8L515.6 28.9L516.0 29.0L516.3 29.2L516.7 29.4L517.0 29.7L517.3 30.1L517.5 30.7L517.6 31.6L517.5 32.8L517.3 34.3L516.9 36.2L516.4 38.3L515.8 40.3L515.4 42.1L515.2 43.3L515.2 43.9L515.7 43.6L516.5 42.6L517.7 41.2L518.9 39.4L520.2 37.7L521.4 36.2L522.4 35.0L523.3 34.1L524.0 33.6L524.5 33.3L525.0 33.2L525.5 33.3L525.8 33.4L526.2 33.5L526.6 33.7L526.9 33.8L527.3 34.0L527.6 34.2L528.0 34.5L528.3 34.7L528.6 35.1L528.8 35.5L528.9 36.2L528.8 37.0L528.6 38.2L528.2 39.6L527.6 41.2L527.1 42.8L526.5 44.3L526.2 45.3L526.3 45.7L526.7 45.6L527.5 44.9L528.6 43.8L529.9 42.7L531.1 41.5L532.2 40.6L533.2 40.0L534.0 39.6L534.6 39.5L535.1 39.5L535.5 39.6L535.9 39.9L536.2 40.1L536.5 40.4L536.8 40.7L537.0 41.0L537.3 41.3L537.6 41.6L537.8 41.9L538.1 42.2L538.3 42.5L538.5 42.8L538.6 43.3L538.4 44.0L537.6 45.0L536.1 46.7L534.0 48.7L532.2 50.6L531.6 51.5L532.6 51.2L534.9 50.0L537.5 48.6L539.5 47.6L540.8 47.1L541.5 47.1L541.9 47.3L542.2 47.6L542.4 47.9L542.7 48.2L542.9 48.5L543.2 48.8L543.4 49.2L543.7 49.5L543.9 49.8L544.2 50.1L544.5 50.4L544.7 50.7L545.0 51.0L545.2 51.3L545.5 51.6L545.7 52.0L545.6 52.6L545.1 53.6L543.8 55.2L542.0 57.3L540.3 59.3L539.7 60.2L540.7 59.8L542.9 58.4L545.3 56.9L547.1 56.0L548.2 55.6L548.7 55.7L549.1 55.9L549.4 56.2L549.6 56.5L549.8 56.8L550.1 57.2L550.3 57.5L550.5 57.9L550.7 58.2L550.9 58.5L551.1 58.9L551.3 59.2L551.5 59.6L551.6 60.0L551.7 60.4L551.8 60.8L551.5 61.3L550.6 62.0L548.7 63.1L546.0 64.4L543.5 65.5L542.5 66.1L543.7 66.1L546.4 65.7L549.4 65.2L551.5 65.0L552.7 65.1L553.2 65.3L553.5 65.7L553.6 66.1L553.7 66.4L553.8 66.8L554.0 67.2L554.1 67.6L554.2 68.0L554.3 68.3L554.4 68.7L554.5 69.1L554.5 69.6L554.4 70.0L554.1 70.6L553.6 71.4L552.7 72.3L551.6 73.4L550.4 74.6L549.3 75.8L548.6 76.8L548.5 77.4L549.1 77.6L550.3 77.4L551.8 77.0L553.5 76.5L554.9 76.0L556.1 75.7L557.0 75.6L557.7 75.7L558.1 75.8L558.5 76.1L558.8 76.4L559.0 76.7L559.2 77.1L559.4 77.4L559.6 77.8L559.8 78.1L560.0 78.5L560.1 78.8L560.3 79.2L560.3 79.6L560.3 80.1L560.1 80.6L559.6 81.1L558.9 81.8L557.9 82.5L556.9 83.3L555.9 84.0L555.2 84.5L555.0 84.9L555.3 85.1L556.2 85.1L557.4 85.2L558.7 85.2L559.9 85.3L560.8 85.5L561.5 85.8L562.0 86.1L562.2 86.5L562.4 86.9L562.5 87.3L562.5 87.7L562.5 88.1L562.5 88.5L562.5 88.9L562.5 89.3L562.5 89.7L562.4 90.1L562.4 90.5L562.3 90.9L562.3 91.2L562.2 91.6L562.0 92.0L561.5 92.3L560.3 92.4L558.0 92.1L555.5 91.8L554.3 91.7L555.3 92.3L557.6 93.5L559.6 94.5L560.6 95.3L560.8 95.8L560.8 96.2L560.6 96.6L560.5 97.0L560.3 97.3L560.2 97.7L560.0 98.1L559.9 98.4L559.7 98.8L559.5 99.2L559.3 99.5L559.2 99.9L559.0 100.2L558.8 100.6L558.6 101.0L558.4 101.3L558.2 101.7L558.0 102.0L557.8 102.3L557.6 102.7L557.4 103.0L557.2 103.3L556.9 103.7L556.7 104.0L556.4 104.3L556.1 104.5L555.8 104.8L555.5 105.0L555.1 105.3L554.8 105.4L554.4 105.6L554.1 105.8L553.7 105.9L553.3 106.0L552.9 106.1L552.5 106.2L552.1 106.3L551.7 106.3L551.3 106.3L550.9 106.4L550.5 106.4L550.1 106.4L549.7 106.4L549.3 106.4L548.9 106.3L548.5 106.3L548.1 106.3L547.7 106.3L547.3 106.2L546.9 106.2L546.5 106.2L546.1 106.1L545.7 106.1L545.3 106.0L544.9 106.0L544.5 105.9L544.1 105.9L543.7 105.8L543.3 105.8L543.0 105.7L542.6 105.6L542.2 105.6L541.8 105.5L541.4 105.4L541.0 105.3L540.6 105.3L540.2 105.2L539.8 105.1L539.4 105.0L539.0 104.9L538.6 104.8L538.2 104.7L537.9 104.7L537.5 104.6L537.1 104.5L536.7 104.4L536.3 104.3L535.9 104.2L535.5 104.1L535.1 104.0L534.7 103.9L534.3 103.9L533.9 103.8L533.6 103.7L533.2 103.6L532.8 103.5L532.4 103.4L532.0 103.4L531.6 103.3L531.2 103.2L530.8 103.1L530.4 103.1L530.0 103.0L529.6 102.9L529.2 102.9L528.8 102.8L528.4 102.7L528.0 102.7L527.7 102.6L527.3 102.5L526.9 102.5L526.5 102.4L526.1 102.3L525.7 102.3L525.3 102.2L524.9 102.1L524.5 102.1L524.1 102.0L523.7 101.9L523.3 101.9L522.9 101.8L522.5 101.7L522.1 101.7L521.7 101.6L521.3 101.6L520.9 101.5L520.5 101.5L520.1 101.4L519.7 101.4L519.3 101.3L518.9 101.3L518.6 101.2L518.2 101.2L517.8 101.1L517.4 101.1L517.0 101.1L516.6 101.1L516.2 101.0L515.8 101.0L515.4 101.0L515.0 101.0L514.6 101.0L514.2 101.0L513.8 101.0L513.4 101.1L513.0 101.1L512.6 101.2L512.2 101.2L511.8 101.3L511.4 101.4L511.0 101.5L510.6 101.6L510.2 101.7L509.8 101.8L509.4 101.9L509.1 102.0L508.7 102.1L508.3 102.2L507.9 102.3L507.5 102.4L507.1 102.5L506.7 102.6L506.4 102.7L506.0 102.8L505.6 102.9L505.2 103.0L504.8 103.0L504.4 103.1L504.0 103.2L503.6 103.2L503.2 103.3L502.8 103.4L502.4 103.4L502.0 103.5L501.6 103.6L501.2 103.6L500.8 103.7L500.4 103.7L500.0 103.8L499.6 103.9L499.2 103.9L498.8 103.9L498.4 104.0L498.0 104.0L497.6 104.0L497.2 104.1L496.8 104.1L496.4 104.1L496.0 104.1L495.6 104.0L495.2 104.0L494.8 104.0L494.5 103.9L494.1 103.9L493.7 103.8L493.3 103.7L492.9 103.6L492.5 103.5L492.1 103.3L491.7 103.2L491.4 103.1L491.0 103.0L490.6 102.8L490.2 102.7L489.9 102.5L489.5 102.4L489.1 102.2L488.7 102.1L488.4 102.0L488.0 101.8L487.6 101.7L487.2 101.6L486.9 101.4L486.5 101.3L486.1 101.2L485.7 101.1L485.3 101.1L484.9 101.0L484.5 100.9L484.1 100.9L483.7 100.8L483.3 100.8L482.9 100.7L482.5 100.7L482.1 100.7L481.7 100.6L481.3 100.6L480.9 100.6L480.5 100.6L480.1 100.6L479.7 100.6L479.3 100.6L478.9 100.6L478.5 100.6L478.1 100.7L477.7 100.7L477.3 100.8L476.9 100.8L476.5 100.9L476.1 101.0L475.8 101.1L475.4 101.2L475.0 101.3L474.6 101.4L474.2 101.6L473.9 101.7L473.5 101.9L473.1 102.1L472.8 102.2L472.4 102.4L472.1 102.6L471.7 102.8L471.4 103.0L471.0 103.2L470.7 103.4L470.4 103.6L470.0 103.8L469.7 104.0L469.3 104.2L469.0 104.4L468.6 104.6L468.2 104.8L467.9 105.0L467.5 105.2L467.2 105.4L466.9 105.6L466.5 105.8L466.2 106.0L465.9 106.2L465.5 106.5L465.2 106.7L464.9 106.9L464.5 107.1L464.2 107.4L463.9 107.6L463.5 107.8L463.2 108.0L462.8 108.2L462.5 108.4L462.1 108.6L461.8 108.8L461.4 108.9L461.0 109.1L460.7 109.2L460.3 109.3L459.9 109.5L459.5 109.6L459.1 109.6L458.7 109.7L458.3 109.7L457.9 109.7L457.5 109.7L457.1 109.7L456.7 109.7L456.3 109.6L455.9 109.6L455.5 109.5L455.1 109.4L454.8 109.2L454.4 109.0L454.1 108.5L453.9 107.8L453.7 106.9L453.6 106.0L453.4 105.3L453.1 104.9L452.7 105.1L452.1 105.6L451.5 106.3L450.9 107.0L450.3 107.4L449.8 107.7L449.4 107.7L449.0 107.7L448.6 107.6L448.2 107.5L447.8 107.4L447.4 107.3L447.1 107.1L446.7 107.0L446.3 106.9L445.9 106.8L445.5 106.7L445.1 106.5L444.8 106.4L444.4 106.3L444.0 106.2L443.6 106.1L443.2 106.0L442.8 105.8L442.5 105.7L442.1 105.6L441.8 105.3L441.5 104.8L441.5 103.6L441.5 102.3L441.3 101.5L440.8 102.0L440.0 103.1L439.3 104.0L438.7 104.3L438.3 104.3L437.9 104.2L437.5 104.1L437.2 103.9L436.8 103.8L436.4 103.7L436.0 103.5L435.7 103.4L435.3 103.2L434.9 103.1L434.5 103.0L434.2 102.8L433.8 102.7L433.4 102.5L433.0 102.4L432.7 102.3L432.3 102.1L431.9 102.0L431.5 101.8L431.2 101.7L430.8 101.5L430.4 101.4L430.0 101.3L429.6 101.2L429.3 101.0L428.9 100.9L428.5 100.8L428.1 100.6L427.7 100.5L427.4 100.4L427.0 100.2L426.6 100.1L426.2 100.0L425.9 99.8L425.5 99.7L425.1 99.5L424.8 99.3L424.4 99.2L424.1 99.0L423.7 98.8L423.4 98.6L423.0 98.4L422.7 98.1L422.4 97.9Z" fill="none" stroke="#929292" stroke-width="10"/>
<path d="M419.1 92.0L424.4 90.6M419.3 81.0L427.7 82.7M423.1 69.3L430.7 74.4M430.6 59.9L436.6 65.0M439.0 50.3L445.0 56.3M449.2 42.5L454.1 50.6M461.0 36.7L465.1 47.5M473.0 32.2L475.9 39.8M484.1 28.6L486.7 37.8M497.1 26.5L498.3 42.0M510.2 27.4L506.7 40.5M521.2 31.0L515.2 43.9M532.2 36.8L526.3 45.7M540.3 45.0L531.6 51.5M547.4 53.7L539.7 60.2M552.7 63.0L542.5 66.1M556.4 72.7L548.5 77.4M561.7 82.9L555.0 84.9M561.6 94.0L554.3 91.7M440.2 105.0L441.3 101.5M452.0 108.7L453.1 104.9" fill="none" stroke="#555" stroke-width="2.4" stroke-linecap="round"/></g>
<ellipse cx="469" cy="89" rx="11" ry="8.5" fill="#7c7c7c" filter="url(#bbA)"/>
<path d="M517 84L530 82M524 86L540 84M518 95L536 94M528 101L548 99M470 101L455 104M540 74L552 76" stroke="#5a5a5a" stroke-width="3.2" fill="none" stroke-linecap="round" filter="url(#cxA)"/>
</g>
<path d="M422.1 97.6L421.8 97.3L421.6 97.0L421.3 96.7L421.1 96.4L420.8 96.0L420.6 95.7L420.4 95.4L420.3 95.0L420.3 94.6L420.4 94.1L420.7 93.5L421.4 92.9L422.3 92.2L423.3 91.5L424.1 90.9L424.4 90.6L424.0 90.4L423.0 90.3L421.8 90.2L420.6 90.1L419.7 89.9L419.1 89.6L418.7 89.2L418.6 88.9L418.5 88.5L418.4 88.1L418.4 87.7L418.4 87.3L418.4 86.9L418.4 86.5L418.4 86.1L418.5 85.7L418.5 85.3L418.6 84.9L418.8 84.5L419.0 84.2L419.5 83.8L420.2 83.6L421.3 83.4L422.8 83.3L424.4 83.2L426.0 83.2L427.2 83.0L427.7 82.7L427.4 82.2L426.4 81.5L424.9 80.8L423.4 80.1L422.1 79.4L421.1 78.8L420.5 78.3L420.2 77.9L420.1 77.4L420.1 77.0L420.1 76.6L420.2 76.2L420.2 75.8L420.3 75.4L420.4 75.1L420.5 74.7L420.6 74.3L420.7 73.9L420.9 73.5L421.0 73.1L421.2 72.8L421.3 72.4L421.5 72.0L421.7 71.7L421.9 71.4L422.3 71.1L423.3 71.2L424.9 71.8L427.3 72.9L429.6 74.0L430.7 74.4L429.9 73.5L428.0 71.8L426.1 70.0L425.0 68.7L424.5 67.9L424.6 67.4L424.7 67.0L425.0 66.7L425.2 66.4L425.5 66.1L425.7 65.7L426.0 65.4L426.2 65.1L426.5 64.8L426.7 64.5L427.0 64.2L427.3 63.9L427.5 63.6L427.8 63.3L428.0 63.0L428.3 62.7L428.6 62.4L428.8 62.1L429.1 61.8L429.5 61.6L430.2 61.7L431.5 62.2L433.4 63.4L435.5 64.6L436.6 65.0L436.1 64.0L434.5 62.1L433.0 60.4L432.3 59.2L432.1 58.5L432.2 58.1L432.4 57.8L432.7 57.5L433.0 57.2L433.2 56.9L433.5 56.6L433.7 56.3L434.0 55.9L434.2 55.6L434.5 55.3L434.7 55.0L435.0 54.7L435.3 54.4L435.5 54.1L435.8 53.8L436.1 53.5L436.3 53.2L436.6 52.9L436.9 52.6L437.1 52.3L437.5 52.1L438.0 52.1L438.9 52.4L440.4 53.3L442.4 54.6L444.2 55.9L445.0 56.3L444.6 55.4L443.4 53.6L442.0 51.7L441.1 50.2L440.8 49.3L440.9 48.7L441.1 48.4L441.4 48.1L441.7 47.8L442.0 47.6L442.3 47.3L442.6 47.1L442.9 46.8L443.3 46.6L443.6 46.3L443.9 46.1L444.2 45.9L444.5 45.6L444.9 45.4L445.2 45.2L445.5 45.0L445.9 44.8L446.3 44.7L446.8 44.7L447.4 44.9L448.2 45.4L449.2 46.2L450.3 47.3L451.6 48.5L452.7 49.7L453.6 50.4L454.1 50.6L454.2 50.1L453.9 48.9L453.5 47.4L452.9 45.7L452.5 44.2L452.2 43.0L452.2 42.1L452.3 41.4L452.5 41.0L452.7 40.6L453.1 40.4L453.4 40.2L453.7 40.0L454.1 39.8L454.4 39.6L454.8 39.4L455.2 39.2L455.5 39.0L455.9 38.9L456.2 38.7L456.6 38.5L457.0 38.3L457.3 38.2L457.7 38.0L458.1 37.9L458.5 37.8L458.9 37.8L459.5 38.2L460.4 39.4L461.6 41.4L463.0 44.1L464.3 46.6L465.1 47.5L465.0 46.3L464.4 43.6L463.7 40.6L463.3 38.3L463.2 36.9L463.4 36.1L463.7 35.8L464.0 35.6L464.4 35.4L464.8 35.3L465.2 35.2L465.5 35.0L465.9 34.9L466.3 34.8L466.7 34.6L467.0 34.5L467.4 34.3L467.8 34.2L468.2 34.1L468.6 33.9L468.9 33.8L469.3 33.7L469.7 33.7L470.2 33.8L470.7 34.1L471.4 34.6L472.1 35.4L472.9 36.5L473.8 37.8L474.7 38.9L475.4 39.6L475.9 39.8L476.1 39.4L476.1 38.3L476.0 36.9L475.9 35.4L475.8 34.1L475.9 33.0L476.0 32.1L476.2 31.6L476.5 31.2L476.8 31.0L477.2 30.8L477.6 30.6L477.9 30.5L478.3 30.3L478.7 30.2L479.1 30.1L479.5 30.0L479.8 29.8L480.2 29.7L480.6 29.6L481.0 29.5L481.4 29.4L481.8 29.3L482.2 29.4L482.8 29.9L483.6 31.4L484.8 33.9L486.0 36.6L486.7 37.8L486.6 36.4L486.2 33.5L485.9 30.7L485.8 29.1L486.1 28.3L486.4 28.0L486.8 27.9L487.2 27.8L487.6 27.7L488.0 27.6L488.3 27.6L488.7 27.5L489.1 27.4L489.5 27.4L489.9 27.3L490.3 27.3L490.7 27.2L491.1 27.1L491.5 27.1L491.9 27.0L492.3 27.0L492.7 26.9L493.1 26.9L493.5 26.9L493.9 26.8L494.3 26.8L494.7 26.9L495.2 27.3L495.7 28.6L496.3 31.5L497.1 35.9L497.8 40.2L498.3 42.0L498.5 40.1L498.5 35.8L498.6 31.3L498.8 28.4L499.1 27.0L499.5 26.5L499.9 26.4L500.3 26.3L500.7 26.3L501.1 26.3L501.5 26.3L501.9 26.3L502.3 26.3L502.7 26.3L503.1 26.3L503.5 26.3L503.9 26.3L504.3 26.3L504.7 26.4L505.1 26.4L505.5 26.5L505.9 26.6L506.2 26.8L506.6 27.2L506.9 27.8L507.1 28.7L507.2 30.1L507.2 31.9L507.0 34.1L506.8 36.4L506.6 38.5L506.6 40.0L506.7 40.5L507.1 40.1L507.9 38.8L508.8 36.9L509.8 34.8L510.7 32.8L511.6 31.2L512.3 30.0L513.0 29.3L513.5 28.9L514.0 28.7L514.4 28.7L514.8 28.7L515.2 28.8L515.6 28.9L516.0 29.0L516.3 29.2L516.7 29.4L517.0 29.7L517.3 30.1L517.5 30.7L517.6 31.6L517.5 32.8L517.3 34.3L516.9 36.2L516.4 38.3L515.8 40.3L515.4 42.1L515.2 43.3L515.2 43.9L515.7 43.6L516.5 42.6L517.7 41.2L518.9 39.4L520.2 37.7L521.4 36.2L522.4 35.0L523.3 34.1L524.0 33.6L524.5 33.3L525.0 33.2L525.5 33.3L525.8 33.4L526.2 33.5L526.6 33.7L526.9 33.8L527.3 34.0L527.6 34.2L528.0 34.5L528.3 34.7L528.6 35.1L528.8 35.5L528.9 36.2L528.8 37.0L528.6 38.2L528.2 39.6L527.6 41.2L527.1 42.8L526.5 44.3L526.2 45.3L526.3 45.7L526.7 45.6L527.5 44.9L528.6 43.8L529.9 42.7L531.1 41.5L532.2 40.6L533.2 40.0L534.0 39.6L534.6 39.5L535.1 39.5L535.5 39.6L535.9 39.9L536.2 40.1L536.5 40.4L536.8 40.7L537.0 41.0L537.3 41.3L537.6 41.6L537.8 41.9L538.1 42.2L538.3 42.5L538.5 42.8L538.6 43.3L538.4 44.0L537.6 45.0L536.1 46.7L534.0 48.7L532.2 50.6L531.6 51.5L532.6 51.2L534.9 50.0L537.5 48.6L539.5 47.6L540.8 47.1L541.5 47.1L541.9 47.3L542.2 47.6L542.4 47.9L542.7 48.2L542.9 48.5L543.2 48.8L543.4 49.2L543.7 49.5L543.9 49.8L544.2 50.1L544.5 50.4L544.7 50.7L545.0 51.0L545.2 51.3L545.5 51.6L545.7 52.0L545.6 52.6L545.1 53.6L543.8 55.2L542.0 57.3L540.3 59.3L539.7 60.2L540.7 59.8L542.9 58.4L545.3 56.9L547.1 56.0L548.2 55.6L548.7 55.7L549.1 55.9L549.4 56.2L549.6 56.5L549.8 56.8L550.1 57.2L550.3 57.5L550.5 57.9L550.7 58.2L550.9 58.5L551.1 58.9L551.3 59.2L551.5 59.6L551.6 60.0L551.7 60.4L551.8 60.8L551.5 61.3L550.6 62.0L548.7 63.1L546.0 64.4L543.5 65.5L542.5 66.1L543.7 66.1L546.4 65.7L549.4 65.2L551.5 65.0L552.7 65.1L553.2 65.3L553.5 65.7L553.6 66.1L553.7 66.4L553.8 66.8L554.0 67.2L554.1 67.6L554.2 68.0L554.3 68.3L554.4 68.7L554.5 69.1L554.5 69.6L554.4 70.0L554.1 70.6L553.6 71.4L552.7 72.3L551.6 73.4L550.4 74.6L549.3 75.8L548.6 76.8L548.5 77.4L549.1 77.6L550.3 77.4L551.8 77.0L553.5 76.5L554.9 76.0L556.1 75.7L557.0 75.6L557.7 75.7L558.1 75.8L558.5 76.1L558.8 76.4L559.0 76.7L559.2 77.1L559.4 77.4L559.6 77.8L559.8 78.1L560.0 78.5L560.1 78.8L560.3 79.2L560.3 79.6L560.3 80.1L560.1 80.6L559.6 81.1L558.9 81.8L557.9 82.5L556.9 83.3L555.9 84.0L555.2 84.5L555.0 84.9L555.3 85.1L556.2 85.1L557.4 85.2L558.7 85.2L559.9 85.3L560.8 85.5L561.5 85.8L562.0 86.1L562.2 86.5L562.4 86.9L562.5 87.3L562.5 87.7L562.5 88.1L562.5 88.5L562.5 88.9L562.5 89.3L562.5 89.7L562.4 90.1L562.4 90.5L562.3 90.9L562.3 91.2L562.2 91.6L562.0 92.0L561.5 92.3L560.3 92.4L558.0 92.1L555.5 91.8L554.3 91.7L555.3 92.3L557.6 93.5L559.6 94.5L560.6 95.3L560.8 95.8L560.8 96.2L560.6 96.6L560.5 97.0L560.3 97.3L560.2 97.7L560.0 98.1L559.9 98.4L559.7 98.8L559.5 99.2L559.3 99.5L559.2 99.9L559.0 100.2L558.8 100.6L558.6 101.0L558.4 101.3L558.2 101.7L558.0 102.0L557.8 102.3L557.6 102.7L557.4 103.0L557.2 103.3L556.9 103.7L556.7 104.0L556.4 104.3L556.1 104.5L555.8 104.8L555.5 105.0L555.1 105.3L554.8 105.4L554.4 105.6L554.1 105.8L553.7 105.9L553.3 106.0L552.9 106.1L552.5 106.2L552.1 106.3L551.7 106.3L551.3 106.3L550.9 106.4L550.5 106.4L550.1 106.4L549.7 106.4L549.3 106.4L548.9 106.3L548.5 106.3L548.1 106.3L547.7 106.3L547.3 106.2L546.9 106.2L546.5 106.2L546.1 106.1L545.7 106.1L545.3 106.0L544.9 106.0L544.5 105.9L544.1 105.9L543.7 105.8L543.3 105.8L543.0 105.7L542.6 105.6L542.2 105.6L541.8 105.5L541.4 105.4L541.0 105.3L540.6 105.3L540.2 105.2L539.8 105.1L539.4 105.0L539.0 104.9L538.6 104.8L538.2 104.7L537.9 104.7L537.5 104.6L537.1 104.5L536.7 104.4L536.3 104.3L535.9 104.2L535.5 104.1L535.1 104.0L534.7 103.9L534.3 103.9L533.9 103.8L533.6 103.7L533.2 103.6L532.8 103.5L532.4 103.4L532.0 103.4L531.6 103.3L531.2 103.2L530.8 103.1L530.4 103.1L530.0 103.0L529.6 102.9L529.2 102.9L528.8 102.8L528.4 102.7L528.0 102.7L527.7 102.6L527.3 102.5L526.9 102.5L526.5 102.4L526.1 102.3L525.7 102.3L525.3 102.2L524.9 102.1L524.5 102.1L524.1 102.0L523.7 101.9L523.3 101.9L522.9 101.8L522.5 101.7L522.1 101.7L521.7 101.6L521.3 101.6L520.9 101.5L520.5 101.5L520.1 101.4L519.7 101.4L519.3 101.3L518.9 101.3L518.6 101.2L518.2 101.2L517.8 101.1L517.4 101.1L517.0 101.1L516.6 101.1L516.2 101.0L515.8 101.0L515.4 101.0L515.0 101.0L514.6 101.0L514.2 101.0L513.8 101.0L513.4 101.1L513.0 101.1L512.6 101.2L512.2 101.2L511.8 101.3L511.4 101.4L511.0 101.5L510.6 101.6L510.2 101.7L509.8 101.8L509.4 101.9L509.1 102.0L508.7 102.1L508.3 102.2L507.9 102.3L507.5 102.4L507.1 102.5L506.7 102.6L506.4 102.7L506.0 102.8L505.6 102.9L505.2 103.0L504.8 103.0L504.4 103.1L504.0 103.2L503.6 103.2L503.2 103.3L502.8 103.4L502.4 103.4L502.0 103.5L501.6 103.6L501.2 103.6L500.8 103.7L500.4 103.7L500.0 103.8L499.6 103.9L499.2 103.9L498.8 103.9L498.4 104.0L498.0 104.0L497.6 104.0L497.2 104.1L496.8 104.1L496.4 104.1L496.0 104.1L495.6 104.0L495.2 104.0L494.8 104.0L494.5 103.9L494.1 103.9L493.7 103.8L493.3 103.7L492.9 103.6L492.5 103.5L492.1 103.3L491.7 103.2L491.4 103.1L491.0 103.0L490.6 102.8L490.2 102.7L489.9 102.5L489.5 102.4L489.1 102.2L488.7 102.1L488.4 102.0L488.0 101.8L487.6 101.7L487.2 101.6L486.9 101.4L486.5 101.3L486.1 101.2L485.7 101.1L485.3 101.1L484.9 101.0L484.5 100.9L484.1 100.9L483.7 100.8L483.3 100.8L482.9 100.7L482.5 100.7L482.1 100.7L481.7 100.6L481.3 100.6L480.9 100.6L480.5 100.6L480.1 100.6L479.7 100.6L479.3 100.6L478.9 100.6L478.5 100.6L478.1 100.7L477.7 100.7L477.3 100.8L476.9 100.8L476.5 100.9L476.1 101.0L475.8 101.1L475.4 101.2L475.0 101.3L474.6 101.4L474.2 101.6L473.9 101.7L473.5 101.9L473.1 102.1L472.8 102.2L472.4 102.4L472.1 102.6L471.7 102.8L471.4 103.0L471.0 103.2L470.7 103.4L470.4 103.6L470.0 103.8L469.7 104.0L469.3 104.2L469.0 104.4L468.6 104.6L468.2 104.8L467.9 105.0L467.5 105.2L467.2 105.4L466.9 105.6L466.5 105.8L466.2 106.0L465.9 106.2L465.5 106.5L465.2 106.7L464.9 106.9L464.5 107.1L464.2 107.4L463.9 107.6L463.5 107.8L463.2 108.0L462.8 108.2L462.5 108.4L462.1 108.6L461.8 108.8L461.4 108.9L461.0 109.1L460.7 109.2L460.3 109.3L459.9 109.5L459.5 109.6L459.1 109.6L458.7 109.7L458.3 109.7L457.9 109.7L457.5 109.7L457.1 109.7L456.7 109.7L456.3 109.6L455.9 109.6L455.5 109.5L455.1 109.4L454.8 109.2L454.4 109.0L454.1 108.5L453.9 107.8L453.7 106.9L453.6 106.0L453.4 105.3L453.1 104.9L452.7 105.1L452.1 105.6L451.5 106.3L450.9 107.0L450.3 107.4L449.8 107.7L449.4 107.7L449.0 107.7L448.6 107.6L448.2 107.5L447.8 107.4L447.4 107.3L447.1 107.1L446.7 107.0L446.3 106.9L445.9 106.8L445.5 106.7L445.1 106.5L444.8 106.4L444.4 106.3L444.0 106.2L443.6 106.1L443.2 106.0L442.8 105.8L442.5 105.7L442.1 105.6L441.8 105.3L441.5 104.8L441.5 103.6L441.5 102.3L441.3 101.5L440.8 102.0L440.0 103.1L439.3 104.0L438.7 104.3L438.3 104.3L437.9 104.2L437.5 104.1L437.2 103.9L436.8 103.8L436.4 103.7L436.0 103.5L435.7 103.4L435.3 103.2L434.9 103.1L434.5 103.0L434.2 102.8L433.8 102.7L433.4 102.5L433.0 102.4L432.7 102.3L432.3 102.1L431.9 102.0L431.5 101.8L431.2 101.7L430.8 101.5L430.4 101.4L430.0 101.3L429.6 101.2L429.3 101.0L428.9 100.9L428.5 100.8L428.1 100.6L427.7 100.5L427.4 100.4L427.0 100.2L426.6 100.1L426.2 100.0L425.9 99.8L425.5 99.7L425.1 99.5L424.8 99.3L424.4 99.2L424.1 99.0L423.7 98.8L423.4 98.6L423.0 98.4L422.7 98.1L422.4 97.9Z" fill="none" stroke="#333" stroke-width="1.3" stroke-linejoin="round"/>
<path d="M459.3 114.4L459.1 115.2L459.2 115.9L459.4 116.7L459.8 117.5L460.2 118.2L460.7 119.0L461.2 119.6L461.7 120.2L462.1 120.7L462.6 121.1L463.0 121.5L463.5 121.8L464.1 122.1L464.7 122.4L465.3 122.7L466.0 123.0L466.8 123.3L467.7 123.6L468.6 123.9L469.6 124.2L470.6 124.5L471.6 124.7L472.5 124.8L473.4 124.9L474.2 124.9L475.1 124.9L476.0 124.8L476.8 124.7L477.6 124.5L478.3 124.3L478.8 124.0L479.2 123.7L479.3 123.3L479.3 122.7L479.0 122.1L478.7 121.5L478.3 120.8L478.0 120.2L477.9 119.6L478.0 119.0L478.3 118.5L478.8 118.1L479.4 117.7L480.1 117.3L480.8 116.9L481.5 116.5L482.1 116.0L482.7 115.5L483.2 114.9L483.7 114.3L484.2 113.6L484.7 112.9L485.1 112.2L485.5 111.5L485.8 110.7L486.0 110.0L486.1 109.3L486.2 108.5L486.2 107.7L486.1 106.9L486.0 106.1L485.8 105.4L485.4 104.7L485.0 104.0L484.4 103.4L483.6 102.7L482.7 102.1L481.7 101.5L480.7 101.0L479.7 100.6L478.8 100.2L478.0 100.0L477.3 99.9L476.7 99.9L476.2 99.9L475.7 100.1L475.2 100.3L474.7 100.6L474.1 101.0L473.4 101.5L472.6 102.1L471.8 102.9L471.0 103.8L470.1 104.7L469.1 105.7L468.2 106.7L467.3 107.6L466.4 108.5L465.5 109.3L464.4 110.1L463.3 110.8L462.3 111.5L461.3 112.2L460.4 113.0L459.7 113.7Z" fill="#5e5e5e" stroke="#333" stroke-width="1"/>
<path d="M501.4 114.3L501.1 113.9L500.5 113.5L500.1 113.1L500.1 112.7L500.1 112.3L500.2 111.9L500.3 111.5L500.4 111.2L500.6 110.8L500.8 110.4L500.9 110.1L501.2 109.7L501.4 109.4L501.6 109.1L502.1 108.9L502.9 109.1L503.8 109.4L504.2 109.3L504.0 108.5L503.6 107.7L503.6 107.1L503.7 106.7L504.0 106.4L504.3 106.1L504.6 105.9L504.9 105.6L505.2 105.4L505.6 105.1L505.9 104.9L506.2 104.7L506.5 104.4L506.9 104.3L507.4 104.3L508.0 104.6L508.6 104.9L508.9 104.7L509.0 104.0L509.1 103.4L509.4 103.0L509.7 102.8L510.1 102.6L510.5 102.5L510.8 102.3L511.2 102.2L511.6 102.1L512.0 102.0L512.4 101.9L512.8 101.8L513.2 101.7L513.6 101.8L514.1 102.2L514.5 103.0L515.0 103.6L515.3 103.3L515.6 102.4L516.0 101.7L516.4 101.4L516.7 101.3L517.1 101.3L517.5 101.3L517.9 101.3L518.3 101.3L518.7 101.3L519.1 101.3L519.5 101.3L519.9 101.3L520.3 101.4L520.7 101.5L521.1 101.9L521.5 102.6L521.9 102.9L522.3 102.5L522.7 101.9L523.1 101.6L523.6 101.5L524.0 101.5L524.4 101.5L524.8 101.5L525.2 101.5L525.6 101.5L526.0 101.5L526.4 101.5L526.8 101.6L527.2 101.6L527.6 101.7L527.9 102.0L528.3 102.7L528.7 103.6L529.1 103.8L529.5 103.1L529.9 102.2L530.3 101.8L530.8 101.7L531.2 101.7L531.6 101.8L532.0 101.8L532.4 101.8L532.8 101.8L533.2 101.9L533.6 101.9L534.0 101.9L534.3 102.0L534.7 102.1L535.1 102.4L535.4 103.0L535.8 103.6L536.1 103.6L536.6 103.0L537.1 102.6L537.5 102.4L537.9 102.5L538.3 102.5L538.7 102.6L539.1 102.7L539.5 102.8L539.9 103.0L540.2 103.1L540.6 103.2L541.0 103.4L541.3 103.6L541.6 103.9L541.7 104.5L541.6 105.5L541.5 106.2L542.0 106.1L542.8 105.5L543.5 105.3L544.0 105.4L544.3 105.6L544.6 105.9L544.9 106.1L545.1 106.4L545.4 106.8L545.6 107.1L545.9 107.4L546.1 107.7L546.3 108.1L546.5 108.4L546.5 108.8L546.4 109.4L546.0 110.0L545.9 110.4L546.4 110.6L547.1 110.7L547.6 111.0L547.8 111.3L547.9 111.7L548.0 112.1L548.1 112.5L548.2 112.9L548.3 113.3L548.3 113.7L548.4 114.1L548.4 114.5L548.5 114.9L548.4 115.3L548.1 115.7L547.4 116.1L546.6 116.5L546.4 116.8L547.2 117.2L548.0 117.6L548.3 118.0L548.4 118.5L548.4 118.9L548.3 119.3L548.2 119.6L548.2 120.0L548.1 120.4L548.0 120.8L547.9 121.2L547.8 121.6L547.7 122.0L547.5 122.3L547.1 122.6L546.4 122.8L545.8 123.0L545.8 123.4L546.2 123.9L546.5 124.5L546.5 125.0L546.4 125.3L546.2 125.7L546.0 126.0L545.8 126.4L545.6 126.7L545.3 127.0L545.1 127.4L544.8 127.7L544.6 128.0L544.3 128.2L543.9 128.4L543.2 128.3L542.4 127.8L541.8 127.6L541.7 128.1L542.0 129.1L542.0 129.8L541.8 130.2L541.5 130.5L541.1 130.7L540.8 130.9L540.5 131.1L540.1 131.3L539.8 131.5L539.4 131.7L539.0 131.9L538.7 132.0L538.3 132.2L537.9 132.2L537.3 132.0L536.7 131.6L536.3 131.5L536.1 132.1L536.0 132.8L535.7 133.2L535.4 133.5L535.0 133.6L534.6 133.8L534.3 133.9L533.9 134.1L533.5 134.2L533.1 134.3L532.7 134.4L532.4 134.5L532.0 134.6L531.6 134.7L531.1 134.4L530.5 133.8L530.0 133.1L529.6 133.1L529.4 133.9L529.2 134.8L528.8 135.2L528.5 135.4L528.1 135.4L527.7 135.5L527.3 135.5L526.9 135.5L526.5 135.5L526.1 135.5L525.7 135.5L525.3 135.5L524.9 135.4L524.5 135.3L524.1 135.0L523.8 134.4L523.5 133.8L523.1 133.9L522.6 134.5L522.1 134.9L521.7 135.0L521.3 135.0L520.9 134.9L520.5 134.8L520.1 134.7L519.7 134.6L519.3 134.6L518.9 134.5L518.6 134.4L518.2 134.3L517.8 134.1L517.5 133.8L517.2 133.2L517.1 132.2L516.9 131.6L516.4 131.9L515.7 132.7L515.2 133.1L514.7 133.2L514.3 133.1L513.9 133.0L513.6 132.9L513.2 132.8L512.8 132.7L512.4 132.6L512.0 132.5L511.6 132.4L511.3 132.2L510.9 132.1L510.5 131.8L510.3 131.3L510.1 130.6L509.8 130.2L509.3 130.5L508.7 131.0L508.3 131.1L507.8 131.1L507.5 130.9L507.1 130.8L506.8 130.6L506.4 130.4L506.1 130.2L505.7 129.9L505.4 129.7L505.1 129.5L504.8 129.2L504.6 128.9L504.5 128.3L504.9 127.5L505.3 126.8L505.2 126.5L504.3 126.7L503.5 126.8L502.9 126.6L502.7 126.3L502.5 126.0L502.3 125.6L502.2 125.2L502.0 124.8L501.9 124.5L501.7 124.1L501.6 123.7L501.5 123.3L501.4 123.0L501.4 122.5L501.6 122.1L502.0 121.5L502.4 121.1L502.1 120.7L501.4 120.5L500.9 120.2L500.6 119.8L500.5 119.5L500.4 119.1L500.4 118.7L500.3 118.3L500.2 117.9L500.2 117.5L500.1 117.1L500.1 116.7L500.0 116.3L500.0 115.9L500.1 115.5L500.5 115.1L501.1 114.7Z" fill="#a6a6a6"/>
<g clip-path="url(#cbA)"><g filter="url(#cxA)"><path d="M501.4 114.3L501.1 113.9L500.5 113.5L500.1 113.1L500.1 112.7L500.1 112.3L500.2 111.9L500.3 111.5L500.4 111.2L500.6 110.8L500.8 110.4L500.9 110.1L501.2 109.7L501.4 109.4L501.6 109.1L502.1 108.9L502.9 109.1L503.8 109.4L504.2 109.3L504.0 108.5L503.6 107.7L503.6 107.1L503.7 106.7L504.0 106.4L504.3 106.1L504.6 105.9L504.9 105.6L505.2 105.4L505.6 105.1L505.9 104.9L506.2 104.7L506.5 104.4L506.9 104.3L507.4 104.3L508.0 104.6L508.6 104.9L508.9 104.7L509.0 104.0L509.1 103.4L509.4 103.0L509.7 102.8L510.1 102.6L510.5 102.5L510.8 102.3L511.2 102.2L511.6 102.1L512.0 102.0L512.4 101.9L512.8 101.8L513.2 101.7L513.6 101.8L514.1 102.2L514.5 103.0L515.0 103.6L515.3 103.3L515.6 102.4L516.0 101.7L516.4 101.4L516.7 101.3L517.1 101.3L517.5 101.3L517.9 101.3L518.3 101.3L518.7 101.3L519.1 101.3L519.5 101.3L519.9 101.3L520.3 101.4L520.7 101.5L521.1 101.9L521.5 102.6L521.9 102.9L522.3 102.5L522.7 101.9L523.1 101.6L523.6 101.5L524.0 101.5L524.4 101.5L524.8 101.5L525.2 101.5L525.6 101.5L526.0 101.5L526.4 101.5L526.8 101.6L527.2 101.6L527.6 101.7L527.9 102.0L528.3 102.7L528.7 103.6L529.1 103.8L529.5 103.1L529.9 102.2L530.3 101.8L530.8 101.7L531.2 101.7L531.6 101.8L532.0 101.8L532.4 101.8L532.8 101.8L533.2 101.9L533.6 101.9L534.0 101.9L534.3 102.0L534.7 102.1L535.1 102.4L535.4 103.0L535.8 103.6L536.1 103.6L536.6 103.0L537.1 102.6L537.5 102.4L537.9 102.5L538.3 102.5L538.7 102.6L539.1 102.7L539.5 102.8L539.9 103.0L540.2 103.1L540.6 103.2L541.0 103.4L541.3 103.6L541.6 103.9L541.7 104.5L541.6 105.5L541.5 106.2L542.0 106.1L542.8 105.5L543.5 105.3L544.0 105.4L544.3 105.6L544.6 105.9L544.9 106.1L545.1 106.4L545.4 106.8L545.6 107.1L545.9 107.4L546.1 107.7L546.3 108.1L546.5 108.4L546.5 108.8L546.4 109.4L546.0 110.0L545.9 110.4L546.4 110.6L547.1 110.7L547.6 111.0L547.8 111.3L547.9 111.7L548.0 112.1L548.1 112.5L548.2 112.9L548.3 113.3L548.3 113.7L548.4 114.1L548.4 114.5L548.5 114.9L548.4 115.3L548.1 115.7L547.4 116.1L546.6 116.5L546.4 116.8L547.2 117.2L548.0 117.6L548.3 118.0L548.4 118.5L548.4 118.9L548.3 119.3L548.2 119.6L548.2 120.0L548.1 120.4L548.0 120.8L547.9 121.2L547.8 121.6L547.7 122.0L547.5 122.3L547.1 122.6L546.4 122.8L545.8 123.0L545.8 123.4L546.2 123.9L546.5 124.5L546.5 125.0L546.4 125.3L546.2 125.7L546.0 126.0L545.8 126.4L545.6 126.7L545.3 127.0L545.1 127.4L544.8 127.7L544.6 128.0L544.3 128.2L543.9 128.4L543.2 128.3L542.4 127.8L541.8 127.6L541.7 128.1L542.0 129.1L542.0 129.8L541.8 130.2L541.5 130.5L541.1 130.7L540.8 130.9L540.5 131.1L540.1 131.3L539.8 131.5L539.4 131.7L539.0 131.9L538.7 132.0L538.3 132.2L537.9 132.2L537.3 132.0L536.7 131.6L536.3 131.5L536.1 132.1L536.0 132.8L535.7 133.2L535.4 133.5L535.0 133.6L534.6 133.8L534.3 133.9L533.9 134.1L533.5 134.2L533.1 134.3L532.7 134.4L532.4 134.5L532.0 134.6L531.6 134.7L531.1 134.4L530.5 133.8L530.0 133.1L529.6 133.1L529.4 133.9L529.2 134.8L528.8 135.2L528.5 135.4L528.1 135.4L527.7 135.5L527.3 135.5L526.9 135.5L526.5 135.5L526.1 135.5L525.7 135.5L525.3 135.5L524.9 135.4L524.5 135.3L524.1 135.0L523.8 134.4L523.5 133.8L523.1 133.9L522.6 134.5L522.1 134.9L521.7 135.0L521.3 135.0L520.9 134.9L520.5 134.8L520.1 134.7L519.7 134.6L519.3 134.6L518.9 134.5L518.6 134.4L518.2 134.3L517.8 134.1L517.5 133.8L517.2 133.2L517.1 132.2L516.9 131.6L516.4 131.9L515.7 132.7L515.2 133.1L514.7 133.2L514.3 133.1L513.9 133.0L513.6 132.9L513.2 132.8L512.8 132.7L512.4 132.6L512.0 132.5L511.6 132.4L511.3 132.2L510.9 132.1L510.5 131.8L510.3 131.3L510.1 130.6L509.8 130.2L509.3 130.5L508.7 131.0L508.3 131.1L507.8 131.1L507.5 130.9L507.1 130.8L506.8 130.6L506.4 130.4L506.1 130.2L505.7 129.9L505.4 129.7L505.1 129.5L504.8 129.2L504.6 128.9L504.5 128.3L504.9 127.5L505.3 126.8L505.2 126.5L504.3 126.7L503.5 126.8L502.9 126.6L502.7 126.3L502.5 126.0L502.3 125.6L502.2 125.2L502.0 124.8L501.9 124.5L501.7 124.1L501.6 123.7L501.5 123.3L501.4 123.0L501.4 122.5L501.6 122.1L502.0 121.5L502.4 121.1L502.1 120.7L501.4 120.5L500.9 120.2L500.6 119.8L500.5 119.5L500.4 119.1L500.4 118.7L500.3 118.3L500.2 117.9L500.2 117.5L500.1 117.1L500.1 116.7L500.0 116.3L500.0 115.9L500.1 115.5L500.5 115.1L501.1 114.7Z" fill="none" stroke="#707070" stroke-width="12"/><path d="M516.2 116.7L499.9 114.3M517.5 114.1L503.6 106.8M520.6 112.4L512.3 101.9M525.0 112.2L525.0 101.5M530.2 112.8L540.0 103.0M532.7 115.0L547.0 109.3M533.2 118.5L548.3 119.3M531.4 121.9L543.3 129.2M526.2 124.1L528.4 135.4M521.0 123.2L513.5 132.9M517.5 121.5L503.6 127.9" stroke="#b0b0b0" stroke-width="2.2" fill="none"/></g><path d="M516.2 116.7L499.9 114.3M517.5 114.1L503.6 106.8M520.6 112.4L512.3 101.9M525.0 112.2L525.0 101.5M530.2 112.8L540.0 103.0M532.7 115.0L547.0 109.3M533.2 118.5L548.3 119.3M531.4 121.9L543.3 129.2M526.2 124.1L528.4 135.4M521.0 123.2L513.5 132.9M517.5 121.5L503.6 127.9" stroke="#4a4a4a" stroke-width="0.9" fill="none" transform="translate(1.2,0.8)"/></g>
<path d="M501.4 114.3L501.1 113.9L500.5 113.5L500.1 113.1L500.1 112.7L500.1 112.3L500.2 111.9L500.3 111.5L500.4 111.2L500.6 110.8L500.8 110.4L500.9 110.1L501.2 109.7L501.4 109.4L501.6 109.1L502.1 108.9L502.9 109.1L503.8 109.4L504.2 109.3L504.0 108.5L503.6 107.7L503.6 107.1L503.7 106.7L504.0 106.4L504.3 106.1L504.6 105.9L504.9 105.6L505.2 105.4L505.6 105.1L505.9 104.9L506.2 104.7L506.5 104.4L506.9 104.3L507.4 104.3L508.0 104.6L508.6 104.9L508.9 104.7L509.0 104.0L509.1 103.4L509.4 103.0L509.7 102.8L510.1 102.6L510.5 102.5L510.8 102.3L511.2 102.2L511.6 102.1L512.0 102.0L512.4 101.9L512.8 101.8L513.2 101.7L513.6 101.8L514.1 102.2L514.5 103.0L515.0 103.6L515.3 103.3L515.6 102.4L516.0 101.7L516.4 101.4L516.7 101.3L517.1 101.3L517.5 101.3L517.9 101.3L518.3 101.3L518.7 101.3L519.1 101.3L519.5 101.3L519.9 101.3L520.3 101.4L520.7 101.5L521.1 101.9L521.5 102.6L521.9 102.9L522.3 102.5L522.7 101.9L523.1 101.6L523.6 101.5L524.0 101.5L524.4 101.5L524.8 101.5L525.2 101.5L525.6 101.5L526.0 101.5L526.4 101.5L526.8 101.6L527.2 101.6L527.6 101.7L527.9 102.0L528.3 102.7L528.7 103.6L529.1 103.8L529.5 103.1L529.9 102.2L530.3 101.8L530.8 101.7L531.2 101.7L531.6 101.8L532.0 101.8L532.4 101.8L532.8 101.8L533.2 101.9L533.6 101.9L534.0 101.9L534.3 102.0L534.7 102.1L535.1 102.4L535.4 103.0L535.8 103.6L536.1 103.6L536.6 103.0L537.1 102.6L537.5 102.4L537.9 102.5L538.3 102.5L538.7 102.6L539.1 102.7L539.5 102.8L539.9 103.0L540.2 103.1L540.6 103.2L541.0 103.4L541.3 103.6L541.6 103.9L541.7 104.5L541.6 105.5L541.5 106.2L542.0 106.1L542.8 105.5L543.5 105.3L544.0 105.4L544.3 105.6L544.6 105.9L544.9 106.1L545.1 106.4L545.4 106.8L545.6 107.1L545.9 107.4L546.1 107.7L546.3 108.1L546.5 108.4L546.5 108.8L546.4 109.4L546.0 110.0L545.9 110.4L546.4 110.6L547.1 110.7L547.6 111.0L547.8 111.3L547.9 111.7L548.0 112.1L548.1 112.5L548.2 112.9L548.3 113.3L548.3 113.7L548.4 114.1L548.4 114.5L548.5 114.9L548.4 115.3L548.1 115.7L547.4 116.1L546.6 116.5L546.4 116.8L547.2 117.2L548.0 117.6L548.3 118.0L548.4 118.5L548.4 118.9L548.3 119.3L548.2 119.6L548.2 120.0L548.1 120.4L548.0 120.8L547.9 121.2L547.8 121.6L547.7 122.0L547.5 122.3L547.1 122.6L546.4 122.8L545.8 123.0L545.8 123.4L546.2 123.9L546.5 124.5L546.5 125.0L546.4 125.3L546.2 125.7L546.0 126.0L545.8 126.4L545.6 126.7L545.3 127.0L545.1 127.4L544.8 127.7L544.6 128.0L544.3 128.2L543.9 128.4L543.2 128.3L542.4 127.8L541.8 127.6L541.7 128.1L542.0 129.1L542.0 129.8L541.8 130.2L541.5 130.5L541.1 130.7L540.8 130.9L540.5 131.1L540.1 131.3L539.8 131.5L539.4 131.7L539.0 131.9L538.7 132.0L538.3 132.2L537.9 132.2L537.3 132.0L536.7 131.6L536.3 131.5L536.1 132.1L536.0 132.8L535.7 133.2L535.4 133.5L535.0 133.6L534.6 133.8L534.3 133.9L533.9 134.1L533.5 134.2L533.1 134.3L532.7 134.4L532.4 134.5L532.0 134.6L531.6 134.7L531.1 134.4L530.5 133.8L530.0 133.1L529.6 133.1L529.4 133.9L529.2 134.8L528.8 135.2L528.5 135.4L528.1 135.4L527.7 135.5L527.3 135.5L526.9 135.5L526.5 135.5L526.1 135.5L525.7 135.5L525.3 135.5L524.9 135.4L524.5 135.3L524.1 135.0L523.8 134.4L523.5 133.8L523.1 133.9L522.6 134.5L522.1 134.9L521.7 135.0L521.3 135.0L520.9 134.9L520.5 134.8L520.1 134.7L519.7 134.6L519.3 134.6L518.9 134.5L518.6 134.4L518.2 134.3L517.8 134.1L517.5 133.8L517.2 133.2L517.1 132.2L516.9 131.6L516.4 131.9L515.7 132.7L515.2 133.1L514.7 133.2L514.3 133.1L513.9 133.0L513.6 132.9L513.2 132.8L512.8 132.7L512.4 132.6L512.0 132.5L511.6 132.4L511.3 132.2L510.9 132.1L510.5 131.8L510.3 131.3L510.1 130.6L509.8 130.2L509.3 130.5L508.7 131.0L508.3 131.1L507.8 131.1L507.5 130.9L507.1 130.8L506.8 130.6L506.4 130.4L506.1 130.2L505.7 129.9L505.4 129.7L505.1 129.5L504.8 129.2L504.6 128.9L504.5 128.3L504.9 127.5L505.3 126.8L505.2 126.5L504.3 126.7L503.5 126.8L502.9 126.6L502.7 126.3L502.5 126.0L502.3 125.6L502.2 125.2L502.0 124.8L501.9 124.5L501.7 124.1L501.6 123.7L501.5 123.3L501.4 123.0L501.4 122.5L501.6 122.1L502.0 121.5L502.4 121.1L502.1 120.7L501.4 120.5L500.9 120.2L500.6 119.8L500.5 119.5L500.4 119.1L500.4 118.7L500.3 118.3L500.2 117.9L500.2 117.5L500.1 117.1L500.1 116.7L500.0 116.3L500.0 115.9L500.1 115.5L500.5 115.1L501.1 114.7Z" fill="none" stroke="#333" stroke-width="1.2"/>
<path d="M499.0 70.0L499.4 69.5L500.0 69.0L500.7 68.7L501.6 68.3L502.4 68.0L503.3 67.8L504.2 67.6L505.0 67.5L505.8 67.4L506.5 67.4L507.3 67.5L508.1 67.6L508.9 67.7L509.6 67.9L510.3 68.2L511.0 68.5L511.7 68.9L512.3 69.3L512.9 69.8L513.5 70.4L514.1 71.0L514.6 71.6L515.0 72.3L515.4 73.0L515.7 73.8L515.9 74.6L516.0 75.5L516.1 76.4L516.1 77.4L516.1 78.3L516.1 79.2L516.0 80.0L515.9 80.8L515.7 81.6L515.5 82.4L515.3 83.2L515.0 83.9L514.7 84.6L514.4 85.1L514.0 85.5L513.6 85.8L513.2 85.9L512.7 85.9L512.2 85.9L511.7 85.8L511.1 85.6L510.6 85.3L510.0 85.0L509.4 84.6L508.8 84.0L508.2 83.4L507.6 82.7L506.9 82.0L506.3 81.3L505.6 80.6L505.0 80.0L504.3 79.5L503.7 79.0L502.9 78.5L502.2 78.1L501.6 77.6L501.0 77.1L500.4 76.6L500.0 76.0L499.6 75.3L499.3 74.6L499.0 73.7L498.8 72.9L498.7 72.1L498.7 71.3L498.8 70.6Z" fill="#fff" stroke="#333" stroke-width="0.9"/>
<ellipse cx="523" cy="92" rx="2.2" ry="1.0" fill="#fff"/>
<ellipse cx="532" cy="94" rx="1.8" ry="0.85" fill="#fff"/>
<ellipse cx="530" cy="100" rx="2.4" ry="0.8" fill="#fff"/>
<ellipse cx="520" cy="97" rx="1.6" ry="1.0" fill="#fff"/>
<ellipse cx="462" cy="100" rx="1.5" ry="1.0" fill="#fff"/>
<ellipse cx="480" cy="105" rx="1.7" ry="0.8" fill="#fff"/>
<ellipse cx="545" cy="90" rx="1.6" ry="0.85" fill="#fff"/>
<path d="M482.6 110.5L482.9 109.8L483.4 109.0L483.9 108.1L484.6 107.2L485.3 106.3L486.1 105.4L486.9 104.6L487.7 103.9L488.5 103.3L489.5 102.7L490.4 102.1L491.4 101.6L492.4 101.1L493.4 100.7L494.4 100.2L495.3 99.8L496.1 99.4L497.0 99.0L497.8 98.7L498.6 98.4L499.3 98.0L500.1 97.7L500.8 97.3L501.5 96.8L502.2 96.2L502.9 95.6L503.6 94.9L504.2 94.2L504.9 93.4L505.5 92.8L506.1 92.1L506.6 91.6L507.1 91.1L507.5 90.7L507.9 90.3L508.3 90.0L508.6 89.7L509.0 89.5L509.3 89.3L509.6 89.1L509.9 89.0L510.2 88.9L510.5 88.8L510.8 88.8L511.1 88.9L511.3 89.0L511.5 89.3L511.7 89.6L511.9 90.1L512.0 90.7L512.2 91.4L512.3 92.2L512.4 93.0L512.4 93.8L512.3 94.5L512.2 95.2L512.0 95.8L511.6 96.3L511.2 96.9L510.8 97.4L510.3 97.9L509.7 98.3L509.2 98.8L508.6 99.3L508.0 99.8L507.3 100.2L506.6 100.7L505.9 101.2L505.2 101.6L504.4 102.0L503.7 102.5L503.0 102.9L502.4 103.3L501.8 103.7L501.2 104.0L500.6 104.4L500.0 104.8L499.3 105.1L498.7 105.5L497.9 106.0L497.1 106.5L496.1 107.0L495.1 107.6L494.1 108.2L493.1 108.8L492.1 109.4L491.1 110.0L490.2 110.5L489.3 111.0L488.5 111.6L487.6 112.2L486.8 112.8L486.0 113.3L485.3 113.7L484.6 114.0L484.1 114.1L483.6 114.0L483.2 113.8L482.9 113.4L482.7 112.9L482.5 112.4L482.4 111.8L482.4 111.1Z" fill="#d8cd0c" stroke="#9a9010" stroke-width="0.5"/>
</g>
<defs><clipPath id="ccB"><path d="M405.3 597.5L405.1 597.2L404.9 596.8L404.8 596.4L404.6 596.1L404.5 595.7L404.4 595.3L404.4 594.9L404.3 594.5L404.3 594.1L404.5 593.7L405.2 593.2L406.9 592.8L409.0 592.3L410.0 591.9L409.0 591.6L406.8 591.2L405.2 590.9L404.4 590.5L404.1 590.1L404.1 589.7L404.1 589.3L404.1 588.9L404.1 588.5L404.2 588.1L404.2 587.7L404.3 587.3L404.4 586.9L404.5 586.5L404.5 586.1L404.6 585.7L404.7 585.3L404.7 584.9L404.8 584.6L404.8 584.2L404.9 583.8L404.9 583.4L405.0 583.0L405.0 582.6L405.2 582.2L405.6 581.8L406.6 581.7L408.6 581.8L411.7 582.4L414.6 583.2L415.9 583.7L414.6 583.2L411.9 581.9L409.2 580.3L407.6 579.1L406.9 578.3L406.8 577.8L407.0 577.4L407.2 577.0L407.4 576.7L407.6 576.4L407.8 576.0L408.1 575.7L408.3 575.4L408.5 575.1L408.8 574.8L409.0 574.4L409.3 574.1L409.5 573.8L409.7 573.5L410.0 573.1L410.2 572.8L410.5 572.6L411.0 572.4L412.0 572.6L413.7 573.3L416.3 574.6L418.8 575.9L420.0 576.3L419.3 575.3L417.2 573.3L415.1 571.4L413.8 570.0L413.3 569.1L413.3 568.6L413.5 568.3L413.7 567.9L413.9 567.6L414.1 567.3L414.4 566.9L414.6 566.6L414.8 566.3L415.1 566.0L415.3 565.6L415.5 565.3L415.7 565.0L416.0 564.7L416.2 564.3L416.5 564.0L416.7 563.7L417.0 563.4L417.6 563.3L418.6 563.5L420.4 564.2L422.7 565.3L424.9 566.3L426.0 566.5L425.4 565.6L423.6 563.9L421.7 562.2L420.4 560.9L419.8 560.0L419.7 559.4L419.8 559.0L420.0 558.7L420.3 558.4L420.5 558.0L420.7 557.7L420.9 557.4L421.2 557.1L421.4 556.7L421.7 556.4L421.9 556.1L422.2 555.8L422.4 555.5L422.7 555.2L423.0 554.9L423.3 554.6L423.5 554.3L423.9 554.1L424.3 553.9L424.9 554.1L426.1 554.8L428.0 556.5L430.6 558.9L433.0 561.2L434.1 562.1L433.5 560.8L431.7 558.0L429.7 555.1L428.5 552.8L428.0 551.5L427.9 550.9L428.1 550.5L428.4 550.2L428.7 550.0L429.0 549.7L429.4 549.5L429.7 549.2L430.0 549.0L430.3 548.7L430.6 548.5L431.0 548.3L431.4 548.1L431.9 548.0L432.5 548.1L433.3 548.3L434.3 548.7L435.5 549.3L436.8 550.0L438.2 550.7L439.5 551.3L440.5 551.6L441.0 551.5L441.1 551.0L440.7 550.1L439.9 548.9L439.1 547.6L438.3 546.3L437.6 545.2L437.1 544.2L436.9 543.4L436.9 542.8L436.9 542.4L437.1 542.0L437.4 541.6L437.6 541.3L437.9 541.1L438.2 540.8L438.5 540.6L438.9 540.3L439.2 540.1L439.5 539.8L439.8 539.6L440.2 539.4L440.5 539.2L440.9 539.1L441.5 539.3L442.3 539.9L443.6 541.4L445.2 543.5L446.7 545.5L447.4 546.2L447.3 545.2L446.5 542.8L445.6 540.3L445.1 538.5L445.0 537.4L445.2 536.8L445.4 536.5L445.8 536.3L446.1 536.1L446.5 535.9L446.8 535.8L447.2 535.6L447.5 535.4L447.9 535.2L448.3 535.1L448.8 535.1L449.3 535.2L450.1 535.5L451.0 536.2L452.1 537.2L453.5 538.6L454.9 540.3L456.3 542.1L457.5 543.7L458.2 544.8L458.5 545.2L458.2 544.8L457.6 543.6L457.0 541.7L456.3 539.6L455.8 537.4L455.4 535.5L455.3 534.0L455.4 532.9L455.5 532.1L455.8 531.6L456.1 531.3L456.5 531.1L456.9 531.0L457.2 530.9L457.6 530.8L458.0 530.7L458.4 530.7L458.8 530.6L459.2 530.6L459.6 530.5L460.0 530.5L460.4 530.6L460.8 530.7L461.2 531.3L461.5 532.8L461.7 535.5L461.7 539.2L461.6 542.7L461.7 544.2L462.1 542.8L462.8 539.4L463.7 535.7L464.5 533.1L465.1 531.7L465.6 531.2L466.0 531.1L466.4 531.1L466.8 531.2L467.2 531.2L467.6 531.3L468.0 531.3L468.4 531.4L468.8 531.4L469.2 531.4L469.6 531.5L470.0 531.5L470.4 531.5L470.8 531.5L471.2 531.5L471.6 531.6L472.0 531.6L472.4 531.7L472.8 531.9L473.2 532.7L473.6 534.3L474.1 537.2L474.6 540.9L475.1 544.2L475.5 545.5L475.8 544.1L476.1 540.8L476.4 537.1L476.8 534.3L477.2 532.6L477.6 531.8L478.0 531.6L478.4 531.5L478.8 531.5L479.2 531.5L479.6 531.5L480.0 531.6L480.4 531.6L480.8 531.6L481.2 531.7L481.5 531.7L481.9 531.8L482.3 531.9L482.7 531.9L483.1 532.0L483.5 532.1L483.9 532.3L484.2 532.5L484.6 532.8L484.8 533.3L485.0 533.9L485.1 534.9L485.0 536.2L484.9 537.6L484.7 539.2L484.5 540.6L484.4 541.6L484.6 542.1L485.0 541.9L485.7 541.1L486.6 540.0L487.6 538.7L488.5 537.6L489.3 536.6L490.1 536.0L490.7 535.6L491.2 535.5L491.6 535.4L492.0 535.5L492.4 535.7L492.8 535.8L493.1 536.0L493.5 536.2L493.9 536.3L494.2 536.6L494.5 536.8L494.8 537.1L495.1 537.5L495.2 538.1L495.3 539.0L495.2 540.1L494.9 541.6L494.5 543.3L493.9 545.2L493.4 547.1L492.9 548.8L492.7 550.0L492.8 550.5L493.2 550.3L494.1 549.4L495.2 548.1L496.4 546.5L497.7 545.0L498.9 543.7L499.9 542.6L500.8 541.9L501.5 541.4L502.1 541.2L502.6 541.2L503.0 541.3L503.4 541.4L503.7 541.6L504.1 541.8L504.4 542.0L504.8 542.2L505.1 542.4L505.5 542.6L505.8 542.8L506.1 543.1L506.4 543.5L506.6 543.9L506.6 544.5L506.6 545.3L506.4 546.3L506.1 547.5L505.6 549.0L505.1 550.4L504.7 551.7L504.6 552.7L504.7 553.2L505.3 553.1L506.1 552.6L507.1 551.7L508.3 550.7L509.4 549.7L510.4 548.9L511.3 548.3L512.0 548.0L512.6 547.8L513.1 547.8L513.5 547.9L513.9 548.0L514.2 548.2L514.6 548.4L514.9 548.6L515.3 548.8L515.6 549.0L516.0 549.2L516.3 549.4L516.7 549.5L517.1 549.7L517.4 549.9L517.8 550.0L518.2 550.2L518.5 550.4L518.8 550.7L519.0 551.3L519.0 552.5L518.8 554.4L518.4 556.8L518.0 559.0L518.1 559.9L518.7 559.2L519.8 557.3L520.9 555.2L522.0 553.5L522.7 552.7L523.3 552.4L523.7 552.4L524.1 552.5L524.5 552.7L524.8 552.9L525.2 553.1L525.5 553.3L525.8 553.5L526.2 553.7L526.5 554.0L526.8 554.2L527.2 554.4L527.5 554.7L527.8 554.9L528.1 555.2L528.4 555.4L528.7 555.7L529.0 555.9L529.2 556.3L529.2 556.9L528.8 558.0L527.7 559.8L525.9 562.2L524.4 564.5L523.8 565.6L524.8 565.0L527.0 563.2L529.3 561.4L531.1 560.1L532.1 559.6L532.7 559.6L533.1 559.8L533.4 560.0L533.7 560.3L534.0 560.6L534.3 560.9L534.5 561.2L534.8 561.5L535.1 561.8L535.4 562.1L535.6 562.3L535.9 562.6L536.2 562.9L536.4 563.2L536.7 563.5L536.9 563.9L537.0 564.3L536.7 565.1L535.9 566.3L534.3 568.2L532.0 570.5L530.0 572.6L529.4 573.6L530.5 573.2L532.9 571.6L535.7 569.9L537.8 568.7L539.2 568.1L540.0 568.1L540.4 568.2L540.7 568.5L540.9 568.8L541.2 569.2L541.4 569.5L541.6 569.8L541.8 570.2L542.1 570.5L542.3 570.8L542.5 571.2L542.7 571.5L542.9 571.9L543.1 572.2L543.3 572.6L543.5 572.9L543.6 573.3L543.8 573.7L543.9 574.1L543.7 574.6L542.9 575.5L541.4 576.7L539.1 578.3L537.0 579.9L536.3 580.8L537.4 580.7L539.9 579.8L542.5 578.9L544.4 578.3L545.6 578.2L546.1 578.3L546.4 578.6L546.7 578.9L546.9 579.3L547.1 579.6L547.3 579.9L547.5 580.3L547.8 580.6L548.0 580.9L548.2 581.3L548.4 581.6L548.6 582.0L548.8 582.3L548.9 582.7L548.9 583.2L548.6 583.8L548.2 584.6L547.4 585.5L546.3 586.5L545.1 587.5L544.0 588.4L543.1 589.1L542.9 589.5L543.3 589.5L544.4 589.3L545.8 588.9L547.3 588.6L548.8 588.4L550.0 588.4L550.8 588.6L551.4 588.9L551.7 589.2L551.9 589.6L552.0 589.9L552.1 590.3L552.2 590.7L552.2 591.1L552.2 591.5L552.3 591.9L552.3 592.3L552.3 592.7L552.3 593.1L552.2 593.5L552.0 593.9L551.3 594.3L549.5 594.6L546.6 594.8L543.6 594.9L542.2 595.2L543.5 595.6L546.5 596.3L549.4 596.9L551.0 597.4L551.7 597.9L551.9 598.3L551.9 598.7L551.8 599.1L551.8 599.5L551.7 599.9L551.6 600.3L551.5 600.7L551.4 601.1L551.3 601.5L551.2 601.8L551.1 602.2L551.0 602.6L550.8 603.0L550.6 603.3L550.5 603.7L550.3 604.0L550.0 604.4L549.8 604.7L549.5 605.0L549.1 605.1L548.1 604.8L546.4 603.7L544.4 602.2L543.4 601.4L544.1 602.5L545.5 604.6L546.6 606.3L546.8 607.3L546.7 607.7L546.4 608.0L546.0 608.2L545.7 608.5L545.4 608.7L545.0 608.9L544.7 609.1L544.3 609.2L544.0 609.4L543.6 609.6L543.2 609.8L542.9 609.9L542.5 610.1L542.1 610.2L541.7 610.3L541.3 610.4L541.0 610.6L540.6 610.7L540.2 610.8L539.8 610.9L539.4 611.0L539.0 611.1L538.6 611.1L538.2 611.2L537.9 611.3L537.5 611.4L537.1 611.5L536.7 611.5L536.3 611.6L535.9 611.7L535.5 611.8L535.1 611.8L534.7 611.9L534.3 612.0L533.9 612.0L533.5 612.1L533.1 612.2L532.7 612.3L532.3 612.3L532.0 612.4L531.6 612.5L531.2 612.5L530.8 612.6L530.4 612.6L530.0 612.7L529.6 612.7L529.2 612.8L528.8 612.8L528.4 612.9L528.0 612.9L527.6 613.0L527.2 613.0L526.8 613.0L526.4 613.1L526.0 613.1L525.6 613.2L525.2 613.2L524.8 613.2L524.4 613.3L524.0 613.3L523.6 613.4L523.2 613.4L522.8 613.5L522.4 613.5L522.0 613.6L521.6 613.6L521.2 613.7L520.8 613.8L520.4 613.8L520.0 613.9L519.7 614.0L519.3 614.0L518.9 614.1L518.5 614.2L518.1 614.2L517.7 614.3L517.3 614.4L516.9 614.4L516.5 614.5L516.1 614.6L515.7 614.6L515.3 614.7L514.9 614.7L514.5 614.8L514.1 614.8L513.7 614.8L513.3 614.9L512.9 614.9L512.5 614.9L512.1 614.9L511.7 614.9L511.3 614.9L510.9 614.8L510.5 614.8L510.1 614.8L509.7 614.7L509.3 614.7L508.9 614.6L508.5 614.5L508.2 614.4L507.8 614.4L507.4 614.2L507.0 614.1L506.6 614.0L506.2 613.9L505.9 613.7L505.5 613.6L505.1 613.4L504.8 613.2L504.4 613.0L504.1 612.8L503.8 612.6L503.5 612.3L503.2 612.1L502.9 611.8L502.6 611.5L502.4 611.1L502.1 610.8L501.9 610.5L501.7 610.2L501.5 609.8L501.2 609.5L501.0 609.2L500.8 608.9L500.5 608.6L500.3 608.2L500.0 608.0L499.7 607.7L499.4 607.4L499.1 607.2L498.8 606.9L498.4 606.7L498.1 606.5L497.8 606.3L497.4 606.0L497.1 605.9L496.7 605.7L496.4 605.5L496.0 605.3L495.7 605.1L495.3 604.9L494.9 604.8L494.6 604.6L494.2 604.4L493.8 604.3L493.5 604.2L493.1 604.0L492.7 603.9L492.3 603.7L492.0 603.6L491.6 603.5L491.2 603.4L490.8 603.2L490.4 603.1L490.0 603.0L489.7 602.9L489.3 602.8L488.9 602.7L488.5 602.6L488.1 602.5L487.7 602.4L487.3 602.3L486.9 602.2L486.6 602.1L486.2 602.0L485.8 602.0L485.4 601.9L485.0 601.8L484.6 601.7L484.2 601.6L483.8 601.6L483.4 601.5L483.0 601.4L482.6 601.3L482.2 601.3L481.8 601.2L481.5 601.1L481.1 601.0L480.7 601.0L480.3 600.9L479.9 600.8L479.5 600.8L479.1 600.7L478.7 600.6L478.3 600.6L477.9 600.5L477.5 600.4L477.1 600.4L476.7 600.3L476.3 600.2L475.9 600.2L475.5 600.1L475.1 600.0L474.7 600.0L474.4 599.9L474.0 599.8L473.6 599.7L473.2 599.7L472.8 599.6L472.4 599.5L472.0 599.5L471.6 599.4L471.2 599.3L470.8 599.2L470.4 599.2L470.0 599.1L469.6 599.0L469.2 598.9L468.8 598.9L468.5 598.8L468.1 598.7L467.7 598.7L467.3 598.6L466.9 598.5L466.5 598.5L466.1 598.4L465.7 598.4L465.3 598.3L464.9 598.3L464.5 598.2L464.1 598.2L463.7 598.2L463.3 598.1L462.9 598.1L462.5 598.1L462.1 598.1L461.7 598.0L461.3 598.0L460.9 598.0L460.5 598.0L460.1 598.0L459.7 598.0L459.3 598.0L458.9 598.0L458.5 598.0L458.1 598.0L457.7 598.1L457.3 598.1L456.9 598.1L456.5 598.1L456.1 598.2L455.7 598.2L455.3 598.2L454.9 598.3L454.5 598.3L454.1 598.3L453.7 598.4L453.3 598.4L452.9 598.5L452.5 598.5L452.1 598.6L451.7 598.6L451.3 598.7L450.9 598.7L450.5 598.7L450.1 598.8L449.7 598.8L449.3 598.9L448.9 598.9L448.5 599.0L448.1 599.0L447.8 599.1L447.4 599.1L447.0 599.2L446.6 599.2L446.2 599.3L445.8 599.4L445.4 599.4L445.0 599.4L444.6 599.5L444.2 599.5L443.8 599.6L443.4 599.6L443.0 599.7L442.6 599.7L442.2 599.8L441.8 599.8L441.4 599.9L441.0 599.9L440.6 599.9L440.2 600.0L439.8 600.0L439.4 600.1L439.0 600.1L438.6 600.1L438.2 600.2L437.8 600.2L437.4 600.2L437.0 600.3L436.6 600.3L436.2 600.3L435.8 600.3L435.4 600.4L435.0 600.4L434.6 600.4L434.2 600.5L433.8 600.5L433.4 600.5L433.0 600.6L432.6 600.6L432.2 600.6L431.8 600.6L431.4 600.7L431.0 600.7L430.6 600.7L430.2 600.7L429.8 600.8L429.4 600.8L429.0 600.8L428.6 600.8L428.2 600.9L427.8 600.9L427.4 600.9L427.0 600.9L426.6 600.9L426.2 601.0L425.8 601.0L425.4 601.0L425.0 601.0L424.6 601.0L424.2 601.0L423.8 601.0L423.4 601.1L423.0 601.1L422.6 601.1L422.2 601.1L421.8 601.1L421.4 601.2L421.0 601.2L420.6 601.2L420.2 601.2L419.8 601.2L419.4 601.2L419.0 601.2L418.6 601.3L418.2 601.3L417.8 601.3L417.4 601.3L417.0 601.3L416.6 601.3L416.2 601.3L415.8 601.3L415.4 601.3L415.0 601.3L414.6 601.3L414.2 601.2L413.8 601.2L413.4 601.2L413.0 601.1L412.6 601.1L412.2 601.0L411.9 601.0L411.5 600.9L411.1 600.8L410.7 600.7L410.3 600.6L409.9 600.5L409.5 600.4L409.2 600.2L408.8 600.1L408.4 599.9L408.0 599.8L407.7 599.6L407.4 599.4L407.0 599.2L406.7 598.9L406.4 598.7L406.1 598.4L405.8 598.1L405.6 597.8Z"/></clipPath><clipPath id="cbB"><path d="M413.8 614.9L413.5 614.5L412.8 614.2L412.4 613.8L412.3 613.4L412.3 613.0L412.4 612.6L412.4 612.2L412.5 611.8L412.6 611.4L412.7 611.0L412.8 610.7L412.9 610.3L413.1 609.9L413.3 609.6L413.7 609.3L414.5 609.4L415.4 609.6L415.9 609.5L415.5 608.8L415.1 608.0L415.0 607.4L415.2 607.0L415.4 606.7L415.7 606.4L416.0 606.1L416.3 605.9L416.6 605.6L416.9 605.4L417.3 605.1L417.6 604.9L417.9 604.7L418.3 604.6L418.8 604.6L419.4 604.9L420.0 605.2L420.3 605.1L420.4 604.5L420.6 603.8L420.9 603.4L421.2 603.2L421.6 603.1L422.0 603.0L422.4 602.8L422.7 602.7L423.1 602.6L423.5 602.5L423.9 602.4L424.3 602.3L424.7 602.3L425.1 602.3L425.6 602.7L426.1 603.4L426.6 604.0L427.0 603.7L427.2 602.8L427.5 602.1L427.8 601.7L428.2 601.6L428.6 601.6L429.0 601.5L429.4 601.5L429.8 601.4L430.2 601.4L430.6 601.3L431.0 601.3L431.4 601.3L431.8 601.3L432.2 601.4L432.6 601.7L433.1 602.3L433.5 602.6L433.9 602.3L434.2 601.7L434.6 601.2L435.0 601.1L435.4 601.0L435.8 601.0L436.2 601.0L436.6 601.0L437.0 601.0L437.4 601.0L437.8 601.0L438.2 601.0L438.6 601.0L439.0 601.0L439.4 601.3L439.8 601.9L440.2 602.8L440.6 603.1L441.0 602.5L441.4 601.6L441.8 601.1L442.2 601.0L442.6 601.0L443.0 601.0L443.4 601.0L443.8 601.0L444.2 601.0L444.6 601.0L445.0 601.0L445.4 601.1L445.8 601.1L446.2 601.1L446.6 601.4L447.0 601.9L447.4 602.5L447.8 602.6L448.2 602.1L448.6 601.5L449.0 601.3L449.4 601.3L449.8 601.3L450.2 601.3L450.6 601.3L451.0 601.4L451.4 601.4L451.8 601.5L452.2 601.5L452.6 601.6L453.0 601.6L453.4 601.8L453.7 602.3L453.9 603.2L454.2 604.0L454.6 603.9L455.1 603.1L455.7 602.5L456.1 602.3L456.5 602.4L456.9 602.5L457.3 602.6L457.7 602.8L458.0 602.9L458.4 603.1L458.8 603.2L459.1 603.4L459.5 603.6L459.8 603.8L460.1 604.1L460.3 604.6L460.3 605.3L460.4 605.8L460.9 605.8L461.5 605.5L462.1 605.4L462.5 605.6L462.8 605.8L463.1 606.0L463.5 606.3L463.8 606.6L464.0 606.8L464.3 607.1L464.6 607.4L464.9 607.7L465.2 608.0L465.4 608.3L465.5 608.8L465.2 609.5L464.7 610.3L464.6 610.8L465.3 610.7L466.3 610.6L466.9 610.6L467.2 610.9L467.4 611.3L467.6 611.6L467.7 612.0L467.9 612.4L468.0 612.7L468.1 613.1L468.3 613.5L468.4 613.9L468.4 614.3L468.5 614.7L468.3 615.1L467.8 615.6L467.3 615.9L467.2 616.3L467.7 616.6L468.3 617.0L468.5 617.5L468.5 617.9L468.4 618.3L468.2 618.6L468.0 619.0L467.8 619.3L467.6 619.6L467.3 619.9L467.0 620.2L466.7 620.4L466.4 620.7L466.0 620.8L465.4 620.7L464.7 620.1L463.9 619.7L463.7 620.0L463.7 620.9L463.8 621.8L463.6 622.2L463.3 622.5L462.9 622.7L462.6 622.9L462.2 623.1L461.9 623.4L461.6 623.6L461.3 623.8L460.9 624.1L460.6 624.3L460.3 624.6L459.9 624.7L459.4 624.7L458.7 624.5L458.1 624.5L458.0 624.9L458.1 625.7L458.1 626.3L457.9 626.6L457.6 626.9L457.3 627.2L457.0 627.4L456.7 627.7L456.4 628.0L456.1 628.2L455.7 628.5L455.4 628.7L455.1 629.0L454.8 629.2L454.3 629.2L453.6 629.0L452.8 628.5L452.2 628.4L452.3 629.1L452.4 630.0L452.4 630.7L452.2 631.1L451.9 631.3L451.5 631.5L451.2 631.8L450.9 632.0L450.6 632.2L450.2 632.5L449.9 632.7L449.6 632.9L449.2 633.2L448.9 633.3L448.4 633.4L447.8 633.2L447.2 633.0L446.8 633.1L446.7 633.7L446.7 634.4L446.5 634.9L446.2 635.2L445.9 635.4L445.6 635.6L445.2 635.8L444.9 636.0L444.5 636.2L444.2 636.4L443.8 636.5L443.4 636.7L443.1 636.9L442.7 636.9L442.2 636.7L441.5 636.1L441.0 635.5L440.6 635.6L440.5 636.5L440.3 637.4L440.0 637.8L439.6 637.9L439.2 638.0L438.8 638.0L438.4 638.0L438.0 638.0L437.6 638.1L437.2 638.1L436.8 638.1L436.4 638.0L436.0 638.0L435.7 637.9L435.3 637.5L435.0 636.9L434.6 636.4L434.2 636.6L433.7 637.1L433.3 637.5L432.9 637.6L432.5 637.6L432.1 637.5L431.7 637.5L431.3 637.4L430.9 637.3L430.5 637.2L430.1 637.1L429.7 637.0L429.3 636.9L429.0 636.8L428.6 636.5L428.4 635.8L428.3 634.8L428.0 634.3L427.5 634.7L426.9 635.5L426.3 635.9L425.9 635.9L425.5 635.8L425.1 635.7L424.7 635.6L424.3 635.5L424.0 635.4L423.6 635.2L423.2 635.1L422.8 635.0L422.4 634.8L422.1 634.6L421.8 634.3L421.7 633.7L421.7 633.0L421.4 632.7L420.9 632.9L420.2 633.2L419.7 633.2L419.4 633.0L419.1 632.7L418.8 632.4L418.5 632.1L418.3 631.8L418.0 631.5L417.8 631.2L417.5 630.9L417.3 630.5L417.1 630.2L417.0 629.8L417.1 629.3L417.7 628.5L418.2 627.9L418.1 627.5L417.1 627.5L416.3 627.5L415.8 627.3L415.6 626.9L415.4 626.6L415.2 626.2L415.1 625.8L415.0 625.5L414.8 625.1L414.7 624.7L414.5 624.3L414.4 623.9L414.3 623.6L414.3 623.2L414.4 622.7L414.9 622.1L415.2 621.6L414.9 621.3L414.2 621.1L413.7 620.8L413.4 620.5L413.3 620.1L413.2 619.7L413.1 619.3L413.0 618.9L412.9 618.6L412.8 618.2L412.7 617.8L412.6 617.4L412.6 617.0L412.5 616.6L412.6 616.2L412.9 615.7L413.5 615.3Z"/></clipPath><filter id="blB" x="-5%" y="-5%" width="110%" height="110%"><feGaussianBlur stdDeviation="0.6"/></filter><filter id="cxB" x="-5%" y="-5%" width="110%" height="110%"><feGaussianBlur stdDeviation="1.1"/></filter><filter id="bbB" x="-50%" y="-50%" width="200%" height="200%"><feGaussianBlur stdDeviation="2.2"/></filter></defs>
<g filter="url(#blB)">
<path d="M405.3 597.5L405.1 597.2L404.9 596.8L404.8 596.4L404.6 596.1L404.5 595.7L404.4 595.3L404.4 594.9L404.3 594.5L404.3 594.1L404.5 593.7L405.2 593.2L406.9 592.8L409.0 592.3L410.0 591.9L409.0 591.6L406.8 591.2L405.2 590.9L404.4 590.5L404.1 590.1L404.1 589.7L404.1 589.3L404.1 588.9L404.1 588.5L404.2 588.1L404.2 587.7L404.3 587.3L404.4 586.9L404.5 586.5L404.5 586.1L404.6 585.7L404.7 585.3L404.7 584.9L404.8 584.6L404.8 584.2L404.9 583.8L404.9 583.4L405.0 583.0L405.0 582.6L405.2 582.2L405.6 581.8L406.6 581.7L408.6 581.8L411.7 582.4L414.6 583.2L415.9 583.7L414.6 583.2L411.9 581.9L409.2 580.3L407.6 579.1L406.9 578.3L406.8 577.8L407.0 577.4L407.2 577.0L407.4 576.7L407.6 576.4L407.8 576.0L408.1 575.7L408.3 575.4L408.5 575.1L408.8 574.8L409.0 574.4L409.3 574.1L409.5 573.8L409.7 573.5L410.0 573.1L410.2 572.8L410.5 572.6L411.0 572.4L412.0 572.6L413.7 573.3L416.3 574.6L418.8 575.9L420.0 576.3L419.3 575.3L417.2 573.3L415.1 571.4L413.8 570.0L413.3 569.1L413.3 568.6L413.5 568.3L413.7 567.9L413.9 567.6L414.1 567.3L414.4 566.9L414.6 566.6L414.8 566.3L415.1 566.0L415.3 565.6L415.5 565.3L415.7 565.0L416.0 564.7L416.2 564.3L416.5 564.0L416.7 563.7L417.0 563.4L417.6 563.3L418.6 563.5L420.4 564.2L422.7 565.3L424.9 566.3L426.0 566.5L425.4 565.6L423.6 563.9L421.7 562.2L420.4 560.9L419.8 560.0L419.7 559.4L419.8 559.0L420.0 558.7L420.3 558.4L420.5 558.0L420.7 557.7L420.9 557.4L421.2 557.1L421.4 556.7L421.7 556.4L421.9 556.1L422.2 555.8L422.4 555.5L422.7 555.2L423.0 554.9L423.3 554.6L423.5 554.3L423.9 554.1L424.3 553.9L424.9 554.1L426.1 554.8L428.0 556.5L430.6 558.9L433.0 561.2L434.1 562.1L433.5 560.8L431.7 558.0L429.7 555.1L428.5 552.8L428.0 551.5L427.9 550.9L428.1 550.5L428.4 550.2L428.7 550.0L429.0 549.7L429.4 549.5L429.7 549.2L430.0 549.0L430.3 548.7L430.6 548.5L431.0 548.3L431.4 548.1L431.9 548.0L432.5 548.1L433.3 548.3L434.3 548.7L435.5 549.3L436.8 550.0L438.2 550.7L439.5 551.3L440.5 551.6L441.0 551.5L441.1 551.0L440.7 550.1L439.9 548.9L439.1 547.6L438.3 546.3L437.6 545.2L437.1 544.2L436.9 543.4L436.9 542.8L436.9 542.4L437.1 542.0L437.4 541.6L437.6 541.3L437.9 541.1L438.2 540.8L438.5 540.6L438.9 540.3L439.2 540.1L439.5 539.8L439.8 539.6L440.2 539.4L440.5 539.2L440.9 539.1L441.5 539.3L442.3 539.9L443.6 541.4L445.2 543.5L446.7 545.5L447.4 546.2L447.3 545.2L446.5 542.8L445.6 540.3L445.1 538.5L445.0 537.4L445.2 536.8L445.4 536.5L445.8 536.3L446.1 536.1L446.5 535.9L446.8 535.8L447.2 535.6L447.5 535.4L447.9 535.2L448.3 535.1L448.8 535.1L449.3 535.2L450.1 535.5L451.0 536.2L452.1 537.2L453.5 538.6L454.9 540.3L456.3 542.1L457.5 543.7L458.2 544.8L458.5 545.2L458.2 544.8L457.6 543.6L457.0 541.7L456.3 539.6L455.8 537.4L455.4 535.5L455.3 534.0L455.4 532.9L455.5 532.1L455.8 531.6L456.1 531.3L456.5 531.1L456.9 531.0L457.2 530.9L457.6 530.8L458.0 530.7L458.4 530.7L458.8 530.6L459.2 530.6L459.6 530.5L460.0 530.5L460.4 530.6L460.8 530.7L461.2 531.3L461.5 532.8L461.7 535.5L461.7 539.2L461.6 542.7L461.7 544.2L462.1 542.8L462.8 539.4L463.7 535.7L464.5 533.1L465.1 531.7L465.6 531.2L466.0 531.1L466.4 531.1L466.8 531.2L467.2 531.2L467.6 531.3L468.0 531.3L468.4 531.4L468.8 531.4L469.2 531.4L469.6 531.5L470.0 531.5L470.4 531.5L470.8 531.5L471.2 531.5L471.6 531.6L472.0 531.6L472.4 531.7L472.8 531.9L473.2 532.7L473.6 534.3L474.1 537.2L474.6 540.9L475.1 544.2L475.5 545.5L475.8 544.1L476.1 540.8L476.4 537.1L476.8 534.3L477.2 532.6L477.6 531.8L478.0 531.6L478.4 531.5L478.8 531.5L479.2 531.5L479.6 531.5L480.0 531.6L480.4 531.6L480.8 531.6L481.2 531.7L481.5 531.7L481.9 531.8L482.3 531.9L482.7 531.9L483.1 532.0L483.5 532.1L483.9 532.3L484.2 532.5L484.6 532.8L484.8 533.3L485.0 533.9L485.1 534.9L485.0 536.2L484.9 537.6L484.7 539.2L484.5 540.6L484.4 541.6L484.6 542.1L485.0 541.9L485.7 541.1L486.6 540.0L487.6 538.7L488.5 537.6L489.3 536.6L490.1 536.0L490.7 535.6L491.2 535.5L491.6 535.4L492.0 535.5L492.4 535.7L492.8 535.8L493.1 536.0L493.5 536.2L493.9 536.3L494.2 536.6L494.5 536.8L494.8 537.1L495.1 537.5L495.2 538.1L495.3 539.0L495.2 540.1L494.9 541.6L494.5 543.3L493.9 545.2L493.4 547.1L492.9 548.8L492.7 550.0L492.8 550.5L493.2 550.3L494.1 549.4L495.2 548.1L496.4 546.5L497.7 545.0L498.9 543.7L499.9 542.6L500.8 541.9L501.5 541.4L502.1 541.2L502.6 541.2L503.0 541.3L503.4 541.4L503.7 541.6L504.1 541.8L504.4 542.0L504.8 542.2L505.1 542.4L505.5 542.6L505.8 542.8L506.1 543.1L506.4 543.5L506.6 543.9L506.6 544.5L506.6 545.3L506.4 546.3L506.1 547.5L505.6 549.0L505.1 550.4L504.7 551.7L504.6 552.7L504.7 553.2L505.3 553.1L506.1 552.6L507.1 551.7L508.3 550.7L509.4 549.7L510.4 548.9L511.3 548.3L512.0 548.0L512.6 547.8L513.1 547.8L513.5 547.9L513.9 548.0L514.2 548.2L514.6 548.4L514.9 548.6L515.3 548.8L515.6 549.0L516.0 549.2L516.3 549.4L516.7 549.5L517.1 549.7L517.4 549.9L517.8 550.0L518.2 550.2L518.5 550.4L518.8 550.7L519.0 551.3L519.0 552.5L518.8 554.4L518.4 556.8L518.0 559.0L518.1 559.9L518.7 559.2L519.8 557.3L520.9 555.2L522.0 553.5L522.7 552.7L523.3 552.4L523.7 552.4L524.1 552.5L524.5 552.7L524.8 552.9L525.2 553.1L525.5 553.3L525.8 553.5L526.2 553.7L526.5 554.0L526.8 554.2L527.2 554.4L527.5 554.7L527.8 554.9L528.1 555.2L528.4 555.4L528.7 555.7L529.0 555.9L529.2 556.3L529.2 556.9L528.8 558.0L527.7 559.8L525.9 562.2L524.4 564.5L523.8 565.6L524.8 565.0L527.0 563.2L529.3 561.4L531.1 560.1L532.1 559.6L532.7 559.6L533.1 559.8L533.4 560.0L533.7 560.3L534.0 560.6L534.3 560.9L534.5 561.2L534.8 561.5L535.1 561.8L535.4 562.1L535.6 562.3L535.9 562.6L536.2 562.9L536.4 563.2L536.7 563.5L536.9 563.9L537.0 564.3L536.7 565.1L535.9 566.3L534.3 568.2L532.0 570.5L530.0 572.6L529.4 573.6L530.5 573.2L532.9 571.6L535.7 569.9L537.8 568.7L539.2 568.1L540.0 568.1L540.4 568.2L540.7 568.5L540.9 568.8L541.2 569.2L541.4 569.5L541.6 569.8L541.8 570.2L542.1 570.5L542.3 570.8L542.5 571.2L542.7 571.5L542.9 571.9L543.1 572.2L543.3 572.6L543.5 572.9L543.6 573.3L543.8 573.7L543.9 574.1L543.7 574.6L542.9 575.5L541.4 576.7L539.1 578.3L537.0 579.9L536.3 580.8L537.4 580.7L539.9 579.8L542.5 578.9L544.4 578.3L545.6 578.2L546.1 578.3L546.4 578.6L546.7 578.9L546.9 579.3L547.1 579.6L547.3 579.9L547.5 580.3L547.8 580.6L548.0 580.9L548.2 581.3L548.4 581.6L548.6 582.0L548.8 582.3L548.9 582.7L548.9 583.2L548.6 583.8L548.2 584.6L547.4 585.5L546.3 586.5L545.1 587.5L544.0 588.4L543.1 589.1L542.9 589.5L543.3 589.5L544.4 589.3L545.8 588.9L547.3 588.6L548.8 588.4L550.0 588.4L550.8 588.6L551.4 588.9L551.7 589.2L551.9 589.6L552.0 589.9L552.1 590.3L552.2 590.7L552.2 591.1L552.2 591.5L552.3 591.9L552.3 592.3L552.3 592.7L552.3 593.1L552.2 593.5L552.0 593.9L551.3 594.3L549.5 594.6L546.6 594.8L543.6 594.9L542.2 595.2L543.5 595.6L546.5 596.3L549.4 596.9L551.0 597.4L551.7 597.9L551.9 598.3L551.9 598.7L551.8 599.1L551.8 599.5L551.7 599.9L551.6 600.3L551.5 600.7L551.4 601.1L551.3 601.5L551.2 601.8L551.1 602.2L551.0 602.6L550.8 603.0L550.6 603.3L550.5 603.7L550.3 604.0L550.0 604.4L549.8 604.7L549.5 605.0L549.1 605.1L548.1 604.8L546.4 603.7L544.4 602.2L543.4 601.4L544.1 602.5L545.5 604.6L546.6 606.3L546.8 607.3L546.7 607.7L546.4 608.0L546.0 608.2L545.7 608.5L545.4 608.7L545.0 608.9L544.7 609.1L544.3 609.2L544.0 609.4L543.6 609.6L543.2 609.8L542.9 609.9L542.5 610.1L542.1 610.2L541.7 610.3L541.3 610.4L541.0 610.6L540.6 610.7L540.2 610.8L539.8 610.9L539.4 611.0L539.0 611.1L538.6 611.1L538.2 611.2L537.9 611.3L537.5 611.4L537.1 611.5L536.7 611.5L536.3 611.6L535.9 611.7L535.5 611.8L535.1 611.8L534.7 611.9L534.3 612.0L533.9 612.0L533.5 612.1L533.1 612.2L532.7 612.3L532.3 612.3L532.0 612.4L531.6 612.5L531.2 612.5L530.8 612.6L530.4 612.6L530.0 612.7L529.6 612.7L529.2 612.8L528.8 612.8L528.4 612.9L528.0 612.9L527.6 613.0L527.2 613.0L526.8 613.0L526.4 613.1L526.0 613.1L525.6 613.2L525.2 613.2L524.8 613.2L524.4 613.3L524.0 613.3L523.6 613.4L523.2 613.4L522.8 613.5L522.4 613.5L522.0 613.6L521.6 613.6L521.2 613.7L520.8 613.8L520.4 613.8L520.0 613.9L519.7 614.0L519.3 614.0L518.9 614.1L518.5 614.2L518.1 614.2L517.7 614.3L517.3 614.4L516.9 614.4L516.5 614.5L516.1 614.6L515.7 614.6L515.3 614.7L514.9 614.7L514.5 614.8L514.1 614.8L513.7 614.8L513.3 614.9L512.9 614.9L512.5 614.9L512.1 614.9L511.7 614.9L511.3 614.9L510.9 614.8L510.5 614.8L510.1 614.8L509.7 614.7L509.3 614.7L508.9 614.6L508.5 614.5L508.2 614.4L507.8 614.4L507.4 614.2L507.0 614.1L506.6 614.0L506.2 613.9L505.9 613.7L505.5 613.6L505.1 613.4L504.8 613.2L504.4 613.0L504.1 612.8L503.8 612.6L503.5 612.3L503.2 612.1L502.9 611.8L502.6 611.5L502.4 611.1L502.1 610.8L501.9 610.5L501.7 610.2L501.5 609.8L501.2 609.5L501.0 609.2L500.8 608.9L500.5 608.6L500.3 608.2L500.0 608.0L499.7 607.7L499.4 607.4L499.1 607.2L498.8 606.9L498.4 606.7L498.1 606.5L497.8 606.3L497.4 606.0L497.1 605.9L496.7 605.7L496.4 605.5L496.0 605.3L495.7 605.1L495.3 604.9L494.9 604.8L494.6 604.6L494.2 604.4L493.8 604.3L493.5 604.2L493.1 604.0L492.7 603.9L492.3 603.7L492.0 603.6L491.6 603.5L491.2 603.4L490.8 603.2L490.4 603.1L490.0 603.0L489.7 602.9L489.3 602.8L488.9 602.7L488.5 602.6L488.1 602.5L487.7 602.4L487.3 602.3L486.9 602.2L486.6 602.1L486.2 602.0L485.8 602.0L485.4 601.9L485.0 601.8L484.6 601.7L484.2 601.6L483.8 601.6L483.4 601.5L483.0 601.4L482.6 601.3L482.2 601.3L481.8 601.2L481.5 601.1L481.1 601.0L480.7 601.0L480.3 600.9L479.9 600.8L479.5 600.8L479.1 600.7L478.7 600.6L478.3 600.6L477.9 600.5L477.5 600.4L477.1 600.4L476.7 600.3L476.3 600.2L475.9 600.2L475.5 600.1L475.1 600.0L474.7 600.0L474.4 599.9L474.0 599.8L473.6 599.7L473.2 599.7L472.8 599.6L472.4 599.5L472.0 599.5L471.6 599.4L471.2 599.3L470.8 599.2L470.4 599.2L470.0 599.1L469.6 599.0L469.2 598.9L468.8 598.9L468.5 598.8L468.1 598.7L467.7 598.7L467.3 598.6L466.9 598.5L466.5 598.5L466.1 598.4L465.7 598.4L465.3 598.3L464.9 598.3L464.5 598.2L464.1 598.2L463.7 598.2L463.3 598.1L462.9 598.1L462.5 598.1L462.1 598.1L461.7 598.0L461.3 598.0L460.9 598.0L460.5 598.0L460.1 598.0L459.7 598.0L459.3 598.0L458.9 598.0L458.5 598.0L458.1 598.0L457.7 598.1L457.3 598.1L456.9 598.1L456.5 598.1L456.1 598.2L455.7 598.2L455.3 598.2L454.9 598.3L454.5 598.3L454.1 598.3L453.7 598.4L453.3 598.4L452.9 598.5L452.5 598.5L452.1 598.6L451.7 598.6L451.3 598.7L450.9 598.7L450.5 598.7L450.1 598.8L449.7 598.8L449.3 598.9L448.9 598.9L448.5 599.0L448.1 599.0L447.8 599.1L447.4 599.1L447.0 599.2L446.6 599.2L446.2 599.3L445.8 599.4L445.4 599.4L445.0 599.4L444.6 599.5L444.2 599.5L443.8 599.6L443.4 599.6L443.0 599.7L442.6 599.7L442.2 599.8L441.8 599.8L441.4 599.9L441.0 599.9L440.6 599.9L440.2 600.0L439.8 600.0L439.4 600.1L439.0 600.1L438.6 600.1L438.2 600.2L437.8 600.2L437.4 600.2L437.0 600.3L436.6 600.3L436.2 600.3L435.8 600.3L435.4 600.4L435.0 600.4L434.6 600.4L434.2 600.5L433.8 600.5L433.4 600.5L433.0 600.6L432.6 600.6L432.2 600.6L431.8 600.6L431.4 600.7L431.0 600.7L430.6 600.7L430.2 600.7L429.8 600.8L429.4 600.8L429.0 600.8L428.6 600.8L428.2 600.9L427.8 600.9L427.4 600.9L427.0 600.9L426.6 600.9L426.2 601.0L425.8 601.0L425.4 601.0L425.0 601.0L424.6 601.0L424.2 601.0L423.8 601.0L423.4 601.1L423.0 601.1L422.6 601.1L422.2 601.1L421.8 601.1L421.4 601.2L421.0 601.2L420.6 601.2L420.2 601.2L419.8 601.2L419.4 601.2L419.0 601.2L418.6 601.3L418.2 601.3L417.8 601.3L417.4 601.3L417.0 601.3L416.6 601.3L416.2 601.3L415.8 601.3L415.4 601.3L415.0 601.3L414.6 601.3L414.2 601.2L413.8 601.2L413.4 601.2L413.0 601.1L412.6 601.1L412.2 601.0L411.9 601.0L411.5 600.9L411.1 600.8L410.7 600.7L410.3 600.6L409.9 600.5L409.5 600.4L409.2 600.2L408.8 600.1L408.4 599.9L408.0 599.8L407.7 599.6L407.4 599.4L407.0 599.2L406.7 598.9L406.4 598.7L406.1 598.4L405.8 598.1L405.6 597.8Z" fill="#c4c4c4"/>
<g clip-path="url(#ccB)">
<g filter="url(#cxB)"><path d="M405.3 597.5L405.1 597.2L404.9 596.8L404.8 596.4L404.6 596.1L404.5 595.7L404.4 595.3L404.4 594.9L404.3 594.5L404.3 594.1L404.5 593.7L405.2 593.2L406.9 592.8L409.0 592.3L410.0 591.9L409.0 591.6L406.8 591.2L405.2 590.9L404.4 590.5L404.1 590.1L404.1 589.7L404.1 589.3L404.1 588.9L404.1 588.5L404.2 588.1L404.2 587.7L404.3 587.3L404.4 586.9L404.5 586.5L404.5 586.1L404.6 585.7L404.7 585.3L404.7 584.9L404.8 584.6L404.8 584.2L404.9 583.8L404.9 583.4L405.0 583.0L405.0 582.6L405.2 582.2L405.6 581.8L406.6 581.7L408.6 581.8L411.7 582.4L414.6 583.2L415.9 583.7L414.6 583.2L411.9 581.9L409.2 580.3L407.6 579.1L406.9 578.3L406.8 577.8L407.0 577.4L407.2 577.0L407.4 576.7L407.6 576.4L407.8 576.0L408.1 575.7L408.3 575.4L408.5 575.1L408.8 574.8L409.0 574.4L409.3 574.1L409.5 573.8L409.7 573.5L410.0 573.1L410.2 572.8L410.5 572.6L411.0 572.4L412.0 572.6L413.7 573.3L416.3 574.6L418.8 575.9L420.0 576.3L419.3 575.3L417.2 573.3L415.1 571.4L413.8 570.0L413.3 569.1L413.3 568.6L413.5 568.3L413.7 567.9L413.9 567.6L414.1 567.3L414.4 566.9L414.6 566.6L414.8 566.3L415.1 566.0L415.3 565.6L415.5 565.3L415.7 565.0L416.0 564.7L416.2 564.3L416.5 564.0L416.7 563.7L417.0 563.4L417.6 563.3L418.6 563.5L420.4 564.2L422.7 565.3L424.9 566.3L426.0 566.5L425.4 565.6L423.6 563.9L421.7 562.2L420.4 560.9L419.8 560.0L419.7 559.4L419.8 559.0L420.0 558.7L420.3 558.4L420.5 558.0L420.7 557.7L420.9 557.4L421.2 557.1L421.4 556.7L421.7 556.4L421.9 556.1L422.2 555.8L422.4 555.5L422.7 555.2L423.0 554.9L423.3 554.6L423.5 554.3L423.9 554.1L424.3 553.9L424.9 554.1L426.1 554.8L428.0 556.5L430.6 558.9L433.0 561.2L434.1 562.1L433.5 560.8L431.7 558.0L429.7 555.1L428.5 552.8L428.0 551.5L427.9 550.9L428.1 550.5L428.4 550.2L428.7 550.0L429.0 549.7L429.4 549.5L429.7 549.2L430.0 549.0L430.3 548.7L430.6 548.5L431.0 548.3L431.4 548.1L431.9 548.0L432.5 548.1L433.3 548.3L434.3 548.7L435.5 549.3L436.8 550.0L438.2 550.7L439.5 551.3L440.5 551.6L441.0 551.5L441.1 551.0L440.7 550.1L439.9 548.9L439.1 547.6L438.3 546.3L437.6 545.2L437.1 544.2L436.9 543.4L436.9 542.8L436.9 542.4L437.1 542.0L437.4 541.6L437.6 541.3L437.9 541.1L438.2 540.8L438.5 540.6L438.9 540.3L439.2 540.1L439.5 539.8L439.8 539.6L440.2 539.4L440.5 539.2L440.9 539.1L441.5 539.3L442.3 539.9L443.6 541.4L445.2 543.5L446.7 545.5L447.4 546.2L447.3 545.2L446.5 542.8L445.6 540.3L445.1 538.5L445.0 537.4L445.2 536.8L445.4 536.5L445.8 536.3L446.1 536.1L446.5 535.9L446.8 535.8L447.2 535.6L447.5 535.4L447.9 535.2L448.3 535.1L448.8 535.1L449.3 535.2L450.1 535.5L451.0 536.2L452.1 537.2L453.5 538.6L454.9 540.3L456.3 542.1L457.5 543.7L458.2 544.8L458.5 545.2L458.2 544.8L457.6 543.6L457.0 541.7L456.3 539.6L455.8 537.4L455.4 535.5L455.3 534.0L455.4 532.9L455.5 532.1L455.8 531.6L456.1 531.3L456.5 531.1L456.9 531.0L457.2 530.9L457.6 530.8L458.0 530.7L458.4 530.7L458.8 530.6L459.2 530.6L459.6 530.5L460.0 530.5L460.4 530.6L460.8 530.7L461.2 531.3L461.5 532.8L461.7 535.5L461.7 539.2L461.6 542.7L461.7 544.2L462.1 542.8L462.8 539.4L463.7 535.7L464.5 533.1L465.1 531.7L465.6 531.2L466.0 531.1L466.4 531.1L466.8 531.2L467.2 531.2L467.6 531.3L468.0 531.3L468.4 531.4L468.8 531.4L469.2 531.4L469.6 531.5L470.0 531.5L470.4 531.5L470.8 531.5L471.2 531.5L471.6 531.6L472.0 531.6L472.4 531.7L472.8 531.9L473.2 532.7L473.6 534.3L474.1 537.2L474.6 540.9L475.1 544.2L475.5 545.5L475.8 544.1L476.1 540.8L476.4 537.1L476.8 534.3L477.2 532.6L477.6 531.8L478.0 531.6L478.4 531.5L478.8 531.5L479.2 531.5L479.6 531.5L480.0 531.6L480.4 531.6L480.8 531.6L481.2 531.7L481.5 531.7L481.9 531.8L482.3 531.9L482.7 531.9L483.1 532.0L483.5 532.1L483.9 532.3L484.2 532.5L484.6 532.8L484.8 533.3L485.0 533.9L485.1 534.9L485.0 536.2L484.9 537.6L484.7 539.2L484.5 540.6L484.4 541.6L484.6 542.1L485.0 541.9L485.7 541.1L486.6 540.0L487.6 538.7L488.5 537.6L489.3 536.6L490.1 536.0L490.7 535.6L491.2 535.5L491.6 535.4L492.0 535.5L492.4 535.7L492.8 535.8L493.1 536.0L493.5 536.2L493.9 536.3L494.2 536.6L494.5 536.8L494.8 537.1L495.1 537.5L495.2 538.1L495.3 539.0L495.2 540.1L494.9 541.6L494.5 543.3L493.9 545.2L493.4 547.1L492.9 548.8L492.7 550.0L492.8 550.5L493.2 550.3L494.1 549.4L495.2 548.1L496.4 546.5L497.7 545.0L498.9 543.7L499.9 542.6L500.8 541.9L501.5 541.4L502.1 541.2L502.6 541.2L503.0 541.3L503.4 541.4L503.7 541.6L504.1 541.8L504.4 542.0L504.8 542.2L505.1 542.4L505.5 542.6L505.8 542.8L506.1 543.1L506.4 543.5L506.6 543.9L506.6 544.5L506.6 545.3L506.4 546.3L506.1 547.5L505.6 549.0L505.1 550.4L504.7 551.7L504.6 552.7L504.7 553.2L505.3 553.1L506.1 552.6L507.1 551.7L508.3 550.7L509.4 549.7L510.4 548.9L511.3 548.3L512.0 548.0L512.6 547.8L513.1 547.8L513.5 547.9L513.9 548.0L514.2 548.2L514.6 548.4L514.9 548.6L515.3 548.8L515.6 549.0L516.0 549.2L516.3 549.4L516.7 549.5L517.1 549.7L517.4 549.9L517.8 550.0L518.2 550.2L518.5 550.4L518.8 550.7L519.0 551.3L519.0 552.5L518.8 554.4L518.4 556.8L518.0 559.0L518.1 559.9L518.7 559.2L519.8 557.3L520.9 555.2L522.0 553.5L522.7 552.7L523.3 552.4L523.7 552.4L524.1 552.5L524.5 552.7L524.8 552.9L525.2 553.1L525.5 553.3L525.8 553.5L526.2 553.7L526.5 554.0L526.8 554.2L527.2 554.4L527.5 554.7L527.8 554.9L528.1 555.2L528.4 555.4L528.7 555.7L529.0 555.9L529.2 556.3L529.2 556.9L528.8 558.0L527.7 559.8L525.9 562.2L524.4 564.5L523.8 565.6L524.8 565.0L527.0 563.2L529.3 561.4L531.1 560.1L532.1 559.6L532.7 559.6L533.1 559.8L533.4 560.0L533.7 560.3L534.0 560.6L534.3 560.9L534.5 561.2L534.8 561.5L535.1 561.8L535.4 562.1L535.6 562.3L535.9 562.6L536.2 562.9L536.4 563.2L536.7 563.5L536.9 563.9L537.0 564.3L536.7 565.1L535.9 566.3L534.3 568.2L532.0 570.5L530.0 572.6L529.4 573.6L530.5 573.2L532.9 571.6L535.7 569.9L537.8 568.7L539.2 568.1L540.0 568.1L540.4 568.2L540.7 568.5L540.9 568.8L541.2 569.2L541.4 569.5L541.6 569.8L541.8 570.2L542.1 570.5L542.3 570.8L542.5 571.2L542.7 571.5L542.9 571.9L543.1 572.2L543.3 572.6L543.5 572.9L543.6 573.3L543.8 573.7L543.9 574.1L543.7 574.6L542.9 575.5L541.4 576.7L539.1 578.3L537.0 579.9L536.3 580.8L537.4 580.7L539.9 579.8L542.5 578.9L544.4 578.3L545.6 578.2L546.1 578.3L546.4 578.6L546.7 578.9L546.9 579.3L547.1 579.6L547.3 579.9L547.5 580.3L547.8 580.6L548.0 580.9L548.2 581.3L548.4 581.6L548.6 582.0L548.8 582.3L548.9 582.7L548.9 583.2L548.6 583.8L548.2 584.6L547.4 585.5L546.3 586.5L545.1 587.5L544.0 588.4L543.1 589.1L542.9 589.5L543.3 589.5L544.4 589.3L545.8 588.9L547.3 588.6L548.8 588.4L550.0 588.4L550.8 588.6L551.4 588.9L551.7 589.2L551.9 589.6L552.0 589.9L552.1 590.3L552.2 590.7L552.2 591.1L552.2 591.5L552.3 591.9L552.3 592.3L552.3 592.7L552.3 593.1L552.2 593.5L552.0 593.9L551.3 594.3L549.5 594.6L546.6 594.8L543.6 594.9L542.2 595.2L543.5 595.6L546.5 596.3L549.4 596.9L551.0 597.4L551.7 597.9L551.9 598.3L551.9 598.7L551.8 599.1L551.8 599.5L551.7 599.9L551.6 600.3L551.5 600.7L551.4 601.1L551.3 601.5L551.2 601.8L551.1 602.2L551.0 602.6L550.8 603.0L550.6 603.3L550.5 603.7L550.3 604.0L550.0 604.4L549.8 604.7L549.5 605.0L549.1 605.1L548.1 604.8L546.4 603.7L544.4 602.2L543.4 601.4L544.1 602.5L545.5 604.6L546.6 606.3L546.8 607.3L546.7 607.7L546.4 608.0L546.0 608.2L545.7 608.5L545.4 608.7L545.0 608.9L544.7 609.1L544.3 609.2L544.0 609.4L543.6 609.6L543.2 609.8L542.9 609.9L542.5 610.1L542.1 610.2L541.7 610.3L541.3 610.4L541.0 610.6L540.6 610.7L540.2 610.8L539.8 610.9L539.4 611.0L539.0 611.1L538.6 611.1L538.2 611.2L537.9 611.3L537.5 611.4L537.1 611.5L536.7 611.5L536.3 611.6L535.9 611.7L535.5 611.8L535.1 611.8L534.7 611.9L534.3 612.0L533.9 612.0L533.5 612.1L533.1 612.2L532.7 612.3L532.3 612.3L532.0 612.4L531.6 612.5L531.2 612.5L530.8 612.6L530.4 612.6L530.0 612.7L529.6 612.7L529.2 612.8L528.8 612.8L528.4 612.9L528.0 612.9L527.6 613.0L527.2 613.0L526.8 613.0L526.4 613.1L526.0 613.1L525.6 613.2L525.2 613.2L524.8 613.2L524.4 613.3L524.0 613.3L523.6 613.4L523.2 613.4L522.8 613.5L522.4 613.5L522.0 613.6L521.6 613.6L521.2 613.7L520.8 613.8L520.4 613.8L520.0 613.9L519.7 614.0L519.3 614.0L518.9 614.1L518.5 614.2L518.1 614.2L517.7 614.3L517.3 614.4L516.9 614.4L516.5 614.5L516.1 614.6L515.7 614.6L515.3 614.7L514.9 614.7L514.5 614.8L514.1 614.8L513.7 614.8L513.3 614.9L512.9 614.9L512.5 614.9L512.1 614.9L511.7 614.9L511.3 614.9L510.9 614.8L510.5 614.8L510.1 614.8L509.7 614.7L509.3 614.7L508.9 614.6L508.5 614.5L508.2 614.4L507.8 614.4L507.4 614.2L507.0 614.1L506.6 614.0L506.2 613.9L505.9 613.7L505.5 613.6L505.1 613.4L504.8 613.2L504.4 613.0L504.1 612.8L503.8 612.6L503.5 612.3L503.2 612.1L502.9 611.8L502.6 611.5L502.4 611.1L502.1 610.8L501.9 610.5L501.7 610.2L501.5 609.8L501.2 609.5L501.0 609.2L500.8 608.9L500.5 608.6L500.3 608.2L500.0 608.0L499.7 607.7L499.4 607.4L499.1 607.2L498.8 606.9L498.4 606.7L498.1 606.5L497.8 606.3L497.4 606.0L497.1 605.9L496.7 605.7L496.4 605.5L496.0 605.3L495.7 605.1L495.3 604.9L494.9 604.8L494.6 604.6L494.2 604.4L493.8 604.3L493.5 604.2L493.1 604.0L492.7 603.9L492.3 603.7L492.0 603.6L491.6 603.5L491.2 603.4L490.8 603.2L490.4 603.1L490.0 603.0L489.7 602.9L489.3 602.8L488.9 602.7L488.5 602.6L488.1 602.5L487.7 602.4L487.3 602.3L486.9 602.2L486.6 602.1L486.2 602.0L485.8 602.0L485.4 601.9L485.0 601.8L484.6 601.7L484.2 601.6L483.8 601.6L483.4 601.5L483.0 601.4L482.6 601.3L482.2 601.3L481.8 601.2L481.5 601.1L481.1 601.0L480.7 601.0L480.3 600.9L479.9 600.8L479.5 600.8L479.1 600.7L478.7 600.6L478.3 600.6L477.9 600.5L477.5 600.4L477.1 600.4L476.7 600.3L476.3 600.2L475.9 600.2L475.5 600.1L475.1 600.0L474.7 600.0L474.4 599.9L474.0 599.8L473.6 599.7L473.2 599.7L472.8 599.6L472.4 599.5L472.0 599.5L471.6 599.4L471.2 599.3L470.8 599.2L470.4 599.2L470.0 599.1L469.6 599.0L469.2 598.9L468.8 598.9L468.5 598.8L468.1 598.7L467.7 598.7L467.3 598.6L466.9 598.5L466.5 598.5L466.1 598.4L465.7 598.4L465.3 598.3L464.9 598.3L464.5 598.2L464.1 598.2L463.7 598.2L463.3 598.1L462.9 598.1L462.5 598.1L462.1 598.1L461.7 598.0L461.3 598.0L460.9 598.0L460.5 598.0L460.1 598.0L459.7 598.0L459.3 598.0L458.9 598.0L458.5 598.0L458.1 598.0L457.7 598.1L457.3 598.1L456.9 598.1L456.5 598.1L456.1 598.2L455.7 598.2L455.3 598.2L454.9 598.3L454.5 598.3L454.1 598.3L453.7 598.4L453.3 598.4L452.9 598.5L452.5 598.5L452.1 598.6L451.7 598.6L451.3 598.7L450.9 598.7L450.5 598.7L450.1 598.8L449.7 598.8L449.3 598.9L448.9 598.9L448.5 599.0L448.1 599.0L447.8 599.1L447.4 599.1L447.0 599.2L446.6 599.2L446.2 599.3L445.8 599.4L445.4 599.4L445.0 599.4L444.6 599.5L444.2 599.5L443.8 599.6L443.4 599.6L443.0 599.7L442.6 599.7L442.2 599.8L441.8 599.8L441.4 599.9L441.0 599.9L440.6 599.9L440.2 600.0L439.8 600.0L439.4 600.1L439.0 600.1L438.6 600.1L438.2 600.2L437.8 600.2L437.4 600.2L437.0 600.3L436.6 600.3L436.2 600.3L435.8 600.3L435.4 600.4L435.0 600.4L434.6 600.4L434.2 600.5L433.8 600.5L433.4 600.5L433.0 600.6L432.6 600.6L432.2 600.6L431.8 600.6L431.4 600.7L431.0 600.7L430.6 600.7L430.2 600.7L429.8 600.8L429.4 600.8L429.0 600.8L428.6 600.8L428.2 600.9L427.8 600.9L427.4 600.9L427.0 600.9L426.6 600.9L426.2 601.0L425.8 601.0L425.4 601.0L425.0 601.0L424.6 601.0L424.2 601.0L423.8 601.0L423.4 601.1L423.0 601.1L422.6 601.1L422.2 601.1L421.8 601.1L421.4 601.2L421.0 601.2L420.6 601.2L420.2 601.2L419.8 601.2L419.4 601.2L419.0 601.2L418.6 601.3L418.2 601.3L417.8 601.3L417.4 601.3L417.0 601.3L416.6 601.3L416.2 601.3L415.8 601.3L415.4 601.3L415.0 601.3L414.6 601.3L414.2 601.2L413.8 601.2L413.4 601.2L413.0 601.1L412.6 601.1L412.2 601.0L411.9 601.0L411.5 600.9L411.1 600.8L410.7 600.7L410.3 600.6L409.9 600.5L409.5 600.4L409.2 600.2L408.8 600.1L408.4 599.9L408.0 599.8L407.7 599.6L407.4 599.4L407.0 599.2L406.7 598.9L406.4 598.7L406.1 598.4L405.8 598.1L405.6 597.8Z" fill="none" stroke="#929292" stroke-width="10"/>
<path d="M404.1 592.1L410.0 591.9M405.6 579.8L415.9 583.7M411.8 570.5L420.0 576.3M418.3 561.4L426.0 566.5M425.9 552.2L434.1 562.1M434.0 545.0L441.0 551.5M442.9 537.8L447.4 546.2M451.9 532.6L458.5 545.2M463.2 530.6L461.7 544.2M475.2 531.5L475.5 545.5M488.1 533.7L484.6 542.1M498.9 538.8L492.8 550.5M509.9 545.4L504.7 553.2M521.2 551.3L518.1 559.9M531.1 557.8L523.8 565.6M538.8 566.0L529.4 573.6M545.1 576.1L536.3 580.8M550.9 585.7L542.9 589.5M552.1 595.9L542.2 595.2M548.2 606.5L543.4 601.4" fill="none" stroke="#555" stroke-width="2.4" stroke-linecap="round"/></g>
<ellipse cx="500" cy="592" rx="11.5" ry="8.5" fill="#7c7c7c" filter="url(#bbB)"/>
<path d="M415 588L440 585M420 596L450 594M530 600L545 598M425 580L445 577M440 590L455 588" stroke="#5a5a5a" stroke-width="3.2" fill="none" stroke-linecap="round" filter="url(#cxB)"/>
</g>
<path d="M405.3 597.5L405.1 597.2L404.9 596.8L404.8 596.4L404.6 596.1L404.5 595.7L404.4 595.3L404.4 594.9L404.3 594.5L404.3 594.1L404.5 593.7L405.2 593.2L406.9 592.8L409.0 592.3L410.0 591.9L409.0 591.6L406.8 591.2L405.2 590.9L404.4 590.5L404.1 590.1L404.1 589.7L404.1 589.3L404.1 588.9L404.1 588.5L404.2 588.1L404.2 587.7L404.3 587.3L404.4 586.9L404.5 586.5L404.5 586.1L404.6 585.7L404.7 585.3L404.7 584.9L404.8 584.6L404.8 584.2L404.9 583.8L404.9 583.4L405.0 583.0L405.0 582.6L405.2 582.2L405.6 581.8L406.6 581.7L408.6 581.8L411.7 582.4L414.6 583.2L415.9 583.7L414.6 583.2L411.9 581.9L409.2 580.3L407.6 579.1L406.9 578.3L406.8 577.8L407.0 577.4L407.2 577.0L407.4 576.7L407.6 576.4L407.8 576.0L408.1 575.7L408.3 575.4L408.5 575.1L408.8 574.8L409.0 574.4L409.3 574.1L409.5 573.8L409.7 573.5L410.0 573.1L410.2 572.8L410.5 572.6L411.0 572.4L412.0 572.6L413.7 573.3L416.3 574.6L418.8 575.9L420.0 576.3L419.3 575.3L417.2 573.3L415.1 571.4L413.8 570.0L413.3 569.1L413.3 568.6L413.5 568.3L413.7 567.9L413.9 567.6L414.1 567.3L414.4 566.9L414.6 566.6L414.8 566.3L415.1 566.0L415.3 565.6L415.5 565.3L415.7 565.0L416.0 564.7L416.2 564.3L416.5 564.0L416.7 563.7L417.0 563.4L417.6 563.3L418.6 563.5L420.4 564.2L422.7 565.3L424.9 566.3L426.0 566.5L425.4 565.6L423.6 563.9L421.7 562.2L420.4 560.9L419.8 560.0L419.7 559.4L419.8 559.0L420.0 558.7L420.3 558.4L420.5 558.0L420.7 557.7L420.9 557.4L421.2 557.1L421.4 556.7L421.7 556.4L421.9 556.1L422.2 555.8L422.4 555.5L422.7 555.2L423.0 554.9L423.3 554.6L423.5 554.3L423.9 554.1L424.3 553.9L424.9 554.1L426.1 554.8L428.0 556.5L430.6 558.9L433.0 561.2L434.1 562.1L433.5 560.8L431.7 558.0L429.7 555.1L428.5 552.8L428.0 551.5L427.9 550.9L428.1 550.5L428.4 550.2L428.7 550.0L429.0 549.7L429.4 549.5L429.7 549.2L430.0 549.0L430.3 548.7L430.6 548.5L431.0 548.3L431.4 548.1L431.9 548.0L432.5 548.1L433.3 548.3L434.3 548.7L435.5 549.3L436.8 550.0L438.2 550.7L439.5 551.3L440.5 551.6L441.0 551.5L441.1 551.0L440.7 550.1L439.9 548.9L439.1 547.6L438.3 546.3L437.6 545.2L437.1 544.2L436.9 543.4L436.9 542.8L436.9 542.4L437.1 542.0L437.4 541.6L437.6 541.3L437.9 541.1L438.2 540.8L438.5 540.6L438.9 540.3L439.2 540.1L439.5 539.8L439.8 539.6L440.2 539.4L440.5 539.2L440.9 539.1L441.5 539.3L442.3 539.9L443.6 541.4L445.2 543.5L446.7 545.5L447.4 546.2L447.3 545.2L446.5 542.8L445.6 540.3L445.1 538.5L445.0 537.4L445.2 536.8L445.4 536.5L445.8 536.3L446.1 536.1L446.5 535.9L446.8 535.8L447.2 535.6L447.5 535.4L447.9 535.2L448.3 535.1L448.8 535.1L449.3 535.2L450.1 535.5L451.0 536.2L452.1 537.2L453.5 538.6L454.9 540.3L456.3 542.1L457.5 543.7L458.2 544.8L458.5 545.2L458.2 544.8L457.6 543.6L457.0 541.7L456.3 539.6L455.8 537.4L455.4 535.5L455.3 534.0L455.4 532.9L455.5 532.1L455.8 531.6L456.1 531.3L456.5 531.1L456.9 531.0L457.2 530.9L457.6 530.8L458.0 530.7L458.4 530.7L458.8 530.6L459.2 530.6L459.6 530.5L460.0 530.5L460.4 530.6L460.8 530.7L461.2 531.3L461.5 532.8L461.7 535.5L461.7 539.2L461.6 542.7L461.7 544.2L462.1 542.8L462.8 539.4L463.7 535.7L464.5 533.1L465.1 531.7L465.6 531.2L466.0 531.1L466.4 531.1L466.8 531.2L467.2 531.2L467.6 531.3L468.0 531.3L468.4 531.4L468.8 531.4L469.2 531.4L469.6 531.5L470.0 531.5L470.4 531.5L470.8 531.5L471.2 531.5L471.6 531.6L472.0 531.6L472.4 531.7L472.8 531.9L473.2 532.7L473.6 534.3L474.1 537.2L474.6 540.9L475.1 544.2L475.5 545.5L475.8 544.1L476.1 540.8L476.4 537.1L476.8 534.3L477.2 532.6L477.6 531.8L478.0 531.6L478.4 531.5L478.8 531.5L479.2 531.5L479.6 531.5L480.0 531.6L480.4 531.6L480.8 531.6L481.2 531.7L481.5 531.7L481.9 531.8L482.3 531.9L482.7 531.9L483.1 532.0L483.5 532.1L483.9 532.3L484.2 532.5L484.6 532.8L484.8 533.3L485.0 533.9L485.1 534.9L485.0 536.2L484.9 537.6L484.7 539.2L484.5 540.6L484.4 541.6L484.6 542.1L485.0 541.9L485.7 541.1L486.6 540.0L487.6 538.7L488.5 537.6L489.3 536.6L490.1 536.0L490.7 535.6L491.2 535.5L491.6 535.4L492.0 535.5L492.4 535.7L492.8 535.8L493.1 536.0L493.5 536.2L493.9 536.3L494.2 536.6L494.5 536.8L494.8 537.1L495.1 537.5L495.2 538.1L495.3 539.0L495.2 540.1L494.9 541.6L494.5 543.3L493.9 545.2L493.4 547.1L492.9 548.8L492.7 550.0L492.8 550.5L493.2 550.3L494.1 549.4L495.2 548.1L496.4 546.5L497.7 545.0L498.9 543.7L499.9 542.6L500.8 541.9L501.5 541.4L502.1 541.2L502.6 541.2L503.0 541.3L503.4 541.4L503.7 541.6L504.1 541.8L504.4 542.0L504.8 542.2L505.1 542.4L505.5 542.6L505.8 542.8L506.1 543.1L506.4 543.5L506.6 543.9L506.6 544.5L506.6 545.3L506.4 546.3L506.1 547.5L505.6 549.0L505.1 550.4L504.7 551.7L504.6 552.7L504.7 553.2L505.3 553.1L506.1 552.6L507.1 551.7L508.3 550.7L509.4 549.7L510.4 548.9L511.3 548.3L512.0 548.0L512.6 547.8L513.1 547.8L513.5 547.9L513.9 548.0L514.2 548.2L514.6 548.4L514.9 548.6L515.3 548.8L515.6 549.0L516.0 549.2L516.3 549.4L516.7 549.5L517.1 549.7L517.4 549.9L517.8 550.0L518.2 550.2L518.5 550.4L518.8 550.7L519.0 551.3L519.0 552.5L518.8 554.4L518.4 556.8L518.0 559.0L518.1 559.9L518.7 559.2L519.8 557.3L520.9 555.2L522.0 553.5L522.7 552.7L523.3 552.4L523.7 552.4L524.1 552.5L524.5 552.7L524.8 552.9L525.2 553.1L525.5 553.3L525.8 553.5L526.2 553.7L526.5 554.0L526.8 554.2L527.2 554.4L527.5 554.7L527.8 554.9L528.1 555.2L528.4 555.4L528.7 555.7L529.0 555.9L529.2 556.3L529.2 556.9L528.8 558.0L527.7 559.8L525.9 562.2L524.4 564.5L523.8 565.6L524.8 565.0L527.0 563.2L529.3 561.4L531.1 560.1L532.1 559.6L532.7 559.6L533.1 559.8L533.4 560.0L533.7 560.3L534.0 560.6L534.3 560.9L534.5 561.2L534.8 561.5L535.1 561.8L535.4 562.1L535.6 562.3L535.9 562.6L536.2 562.9L536.4 563.2L536.7 563.5L536.9 563.9L537.0 564.3L536.7 565.1L535.9 566.3L534.3 568.2L532.0 570.5L530.0 572.6L529.4 573.6L530.5 573.2L532.9 571.6L535.7 569.9L537.8 568.7L539.2 568.1L540.0 568.1L540.4 568.2L540.7 568.5L540.9 568.8L541.2 569.2L541.4 569.5L541.6 569.8L541.8 570.2L542.1 570.5L542.3 570.8L542.5 571.2L542.7 571.5L542.9 571.9L543.1 572.2L543.3 572.6L543.5 572.9L543.6 573.3L543.8 573.7L543.9 574.1L543.7 574.6L542.9 575.5L541.4 576.7L539.1 578.3L537.0 579.9L536.3 580.8L537.4 580.7L539.9 579.8L542.5 578.9L544.4 578.3L545.6 578.2L546.1 578.3L546.4 578.6L546.7 578.9L546.9 579.3L547.1 579.6L547.3 579.9L547.5 580.3L547.8 580.6L548.0 580.9L548.2 581.3L548.4 581.6L548.6 582.0L548.8 582.3L548.9 582.7L548.9 583.2L548.6 583.8L548.2 584.6L547.4 585.5L546.3 586.5L545.1 587.5L544.0 588.4L543.1 589.1L542.9 589.5L543.3 589.5L544.4 589.3L545.8 588.9L547.3 588.6L548.8 588.4L550.0 588.4L550.8 588.6L551.4 588.9L551.7 589.2L551.9 589.6L552.0 589.9L552.1 590.3L552.2 590.7L552.2 591.1L552.2 591.5L552.3 591.9L552.3 592.3L552.3 592.7L552.3 593.1L552.2 593.5L552.0 593.9L551.3 594.3L549.5 594.6L546.6 594.8L543.6 594.9L542.2 595.2L543.5 595.6L546.5 596.3L549.4 596.9L551.0 597.4L551.7 597.9L551.9 598.3L551.9 598.7L551.8 599.1L551.8 599.5L551.7 599.9L551.6 600.3L551.5 600.7L551.4 601.1L551.3 601.5L551.2 601.8L551.1 602.2L551.0 602.6L550.8 603.0L550.6 603.3L550.5 603.7L550.3 604.0L550.0 604.4L549.8 604.7L549.5 605.0L549.1 605.1L548.1 604.8L546.4 603.7L544.4 602.2L543.4 601.4L544.1 602.5L545.5 604.6L546.6 606.3L546.8 607.3L546.7 607.7L546.4 608.0L546.0 608.2L545.7 608.5L545.4 608.7L545.0 608.9L544.7 609.1L544.3 609.2L544.0 609.4L543.6 609.6L543.2 609.8L542.9 609.9L542.5 610.1L542.1 610.2L541.7 610.3L541.3 610.4L541.0 610.6L540.6 610.7L540.2 610.8L539.8 610.9L539.4 611.0L539.0 611.1L538.6 611.1L538.2 611.2L537.9 611.3L537.5 611.4L537.1 611.5L536.7 611.5L536.3 611.6L535.9 611.7L535.5 611.8L535.1 611.8L534.7 611.9L534.3 612.0L533.9 612.0L533.5 612.1L533.1 612.2L532.7 612.3L532.3 612.3L532.0 612.4L531.6 612.5L531.2 612.5L530.8 612.6L530.4 612.6L530.0 612.7L529.6 612.7L529.2 612.8L528.8 612.8L528.4 612.9L528.0 612.9L527.6 613.0L527.2 613.0L526.8 613.0L526.4 613.1L526.0 613.1L525.6 613.2L525.2 613.2L524.8 613.2L524.4 613.3L524.0 613.3L523.6 613.4L523.2 613.4L522.8 613.5L522.4 613.5L522.0 613.6L521.6 613.6L521.2 613.7L520.8 613.8L520.4 613.8L520.0 613.9L519.7 614.0L519.3 614.0L518.9 614.1L518.5 614.2L518.1 614.2L517.7 614.3L517.3 614.4L516.9 614.4L516.5 614.5L516.1 614.6L515.7 614.6L515.3 614.7L514.9 614.7L514.5 614.8L514.1 614.8L513.7 614.8L513.3 614.9L512.9 614.9L512.5 614.9L512.1 614.9L511.7 614.9L511.3 614.9L510.9 614.8L510.5 614.8L510.1 614.8L509.7 614.7L509.3 614.7L508.9 614.6L508.5 614.5L508.2 614.4L507.8 614.4L507.4 614.2L507.0 614.1L506.6 614.0L506.2 613.9L505.9 613.7L505.5 613.6L505.1 613.4L504.8 613.2L504.4 613.0L504.1 612.8L503.8 612.6L503.5 612.3L503.2 612.1L502.9 611.8L502.6 611.5L502.4 611.1L502.1 610.8L501.9 610.5L501.7 610.2L501.5 609.8L501.2 609.5L501.0 609.2L500.8 608.9L500.5 608.6L500.3 608.2L500.0 608.0L499.7 607.7L499.4 607.4L499.1 607.2L498.8 606.9L498.4 606.7L498.1 606.5L497.8 606.3L497.4 606.0L497.1 605.9L496.7 605.7L496.4 605.5L496.0 605.3L495.7 605.1L495.3 604.9L494.9 604.8L494.6 604.6L494.2 604.4L493.8 604.3L493.5 604.2L493.1 604.0L492.7 603.9L492.3 603.7L492.0 603.6L491.6 603.5L491.2 603.4L490.8 603.2L490.4 603.1L490.0 603.0L489.7 602.9L489.3 602.8L488.9 602.7L488.5 602.6L488.1 602.5L487.7 602.4L487.3 602.3L486.9 602.2L486.6 602.1L486.2 602.0L485.8 602.0L485.4 601.9L485.0 601.8L484.6 601.7L484.2 601.6L483.8 601.6L483.4 601.5L483.0 601.4L482.6 601.3L482.2 601.3L481.8 601.2L481.5 601.1L481.1 601.0L480.7 601.0L480.3 600.9L479.9 600.8L479.5 600.8L479.1 600.7L478.7 600.6L478.3 600.6L477.9 600.5L477.5 600.4L477.1 600.4L476.7 600.3L476.3 600.2L475.9 600.2L475.5 600.1L475.1 600.0L474.7 600.0L474.4 599.9L474.0 599.8L473.6 599.7L473.2 599.7L472.8 599.6L472.4 599.5L472.0 599.5L471.6 599.4L471.2 599.3L470.8 599.2L470.4 599.2L470.0 599.1L469.6 599.0L469.2 598.9L468.8 598.9L468.5 598.8L468.1 598.7L467.7 598.7L467.3 598.6L466.9 598.5L466.5 598.5L466.1 598.4L465.7 598.4L465.3 598.3L464.9 598.3L464.5 598.2L464.1 598.2L463.7 598.2L463.3 598.1L462.9 598.1L462.5 598.1L462.1 598.1L461.7 598.0L461.3 598.0L460.9 598.0L460.5 598.0L460.1 598.0L459.7 598.0L459.3 598.0L458.9 598.0L458.5 598.0L458.1 598.0L457.7 598.1L457.3 598.1L456.9 598.1L456.5 598.1L456.1 598.2L455.7 598.2L455.3 598.2L454.9 598.3L454.5 598.3L454.1 598.3L453.7 598.4L453.3 598.4L452.9 598.5L452.5 598.5L452.1 598.6L451.7 598.6L451.3 598.7L450.9 598.7L450.5 598.7L450.1 598.8L449.7 598.8L449.3 598.9L448.9 598.9L448.5 599.0L448.1 599.0L447.8 599.1L447.4 599.1L447.0 599.2L446.6 599.2L446.2 599.3L445.8 599.4L445.4 599.4L445.0 599.4L444.6 599.5L444.2 599.5L443.8 599.6L443.4 599.6L443.0 599.7L442.6 599.7L442.2 599.8L441.8 599.8L441.4 599.9L441.0 599.9L440.6 599.9L440.2 600.0L439.8 600.0L439.4 600.1L439.0 600.1L438.6 600.1L438.2 600.2L437.8 600.2L437.4 600.2L437.0 600.3L436.6 600.3L436.2 600.3L435.8 600.3L435.4 600.4L435.0 600.4L434.6 600.4L434.2 600.5L433.8 600.5L433.4 600.5L433.0 600.6L432.6 600.6L432.2 600.6L431.8 600.6L431.4 600.7L431.0 600.7L430.6 600.7L430.2 600.7L429.8 600.8L429.4 600.8L429.0 600.8L428.6 600.8L428.2 600.9L427.8 600.9L427.4 600.9L427.0 600.9L426.6 600.9L426.2 601.0L425.8 601.0L425.4 601.0L425.0 601.0L424.6 601.0L424.2 601.0L423.8 601.0L423.4 601.1L423.0 601.1L422.6 601.1L422.2 601.1L421.8 601.1L421.4 601.2L421.0 601.2L420.6 601.2L420.2 601.2L419.8 601.2L419.4 601.2L419.0 601.2L418.6 601.3L418.2 601.3L417.8 601.3L417.4 601.3L417.0 601.3L416.6 601.3L416.2 601.3L415.8 601.3L415.4 601.3L415.0 601.3L414.6 601.3L414.2 601.2L413.8 601.2L413.4 601.2L413.0 601.1L412.6 601.1L412.2 601.0L411.9 601.0L411.5 600.9L411.1 600.8L410.7 600.7L410.3 600.6L409.9 600.5L409.5 600.4L409.2 600.2L408.8 600.1L408.4 599.9L408.0 599.8L407.7 599.6L407.4 599.4L407.0 599.2L406.7 598.9L406.4 598.7L406.1 598.4L405.8 598.1L405.6 597.8Z" fill="none" stroke="#333" stroke-width="1.3" stroke-linejoin="round"/>
<path d="M484.1 601.0L485.1 601.1L486.2 601.4L487.4 601.9L488.6 602.7L489.7 603.5L490.9 604.4L492.0 605.4L492.9 606.3L493.7 607.2L494.5 608.2L495.1 609.3L495.7 610.4L496.3 611.6L496.9 612.7L497.5 613.9L498.1 615.0L498.8 616.1L499.5 617.3L500.2 618.5L501.0 619.6L501.7 620.8L502.3 621.9L502.9 622.9L503.4 623.8L503.8 624.6L504.3 625.4L504.7 626.1L505.0 626.7L505.3 627.3L505.4 627.9L505.3 628.5L505.1 629.0L504.7 629.6L504.0 630.1L503.3 630.6L502.4 631.1L501.4 631.6L500.3 632.0L499.2 632.3L498.1 632.6L496.9 632.8L495.5 633.0L494.0 633.1L492.5 633.2L491.1 633.1L489.7 633.1L488.5 632.9L487.6 632.6L486.9 632.2L486.5 631.6L486.1 631.0L485.9 630.3L485.8 629.5L485.8 628.7L485.8 628.0L485.8 627.3L485.9 626.6L486.2 626.0L486.5 625.3L486.9 624.6L487.3 624.0L487.6 623.3L487.7 622.6L487.6 622.0L487.2 621.4L486.7 620.8L486.0 620.3L485.2 619.7L484.3 619.2L483.5 618.5L482.7 617.8L482.0 617.0L481.4 616.1L480.7 615.0L479.9 613.8L479.3 612.6L478.7 611.4L478.3 610.2L478.0 609.1L478.0 608.0L478.3 606.9L478.8 605.8L479.4 604.7L480.2 603.6L481.2 602.6L482.1 601.8L483.1 601.3Z" fill="#5e5e5e" stroke="#333" stroke-width="1"/>
<path d="M413.8 614.9L413.5 614.5L412.8 614.2L412.4 613.8L412.3 613.4L412.3 613.0L412.4 612.6L412.4 612.2L412.5 611.8L412.6 611.4L412.7 611.0L412.8 610.7L412.9 610.3L413.1 609.9L413.3 609.6L413.7 609.3L414.5 609.4L415.4 609.6L415.9 609.5L415.5 608.8L415.1 608.0L415.0 607.4L415.2 607.0L415.4 606.7L415.7 606.4L416.0 606.1L416.3 605.9L416.6 605.6L416.9 605.4L417.3 605.1L417.6 604.9L417.9 604.7L418.3 604.6L418.8 604.6L419.4 604.9L420.0 605.2L420.3 605.1L420.4 604.5L420.6 603.8L420.9 603.4L421.2 603.2L421.6 603.1L422.0 603.0L422.4 602.8L422.7 602.7L423.1 602.6L423.5 602.5L423.9 602.4L424.3 602.3L424.7 602.3L425.1 602.3L425.6 602.7L426.1 603.4L426.6 604.0L427.0 603.7L427.2 602.8L427.5 602.1L427.8 601.7L428.2 601.6L428.6 601.6L429.0 601.5L429.4 601.5L429.8 601.4L430.2 601.4L430.6 601.3L431.0 601.3L431.4 601.3L431.8 601.3L432.2 601.4L432.6 601.7L433.1 602.3L433.5 602.6L433.9 602.3L434.2 601.7L434.6 601.2L435.0 601.1L435.4 601.0L435.8 601.0L436.2 601.0L436.6 601.0L437.0 601.0L437.4 601.0L437.8 601.0L438.2 601.0L438.6 601.0L439.0 601.0L439.4 601.3L439.8 601.9L440.2 602.8L440.6 603.1L441.0 602.5L441.4 601.6L441.8 601.1L442.2 601.0L442.6 601.0L443.0 601.0L443.4 601.0L443.8 601.0L444.2 601.0L444.6 601.0L445.0 601.0L445.4 601.1L445.8 601.1L446.2 601.1L446.6 601.4L447.0 601.9L447.4 602.5L447.8 602.6L448.2 602.1L448.6 601.5L449.0 601.3L449.4 601.3L449.8 601.3L450.2 601.3L450.6 601.3L451.0 601.4L451.4 601.4L451.8 601.5L452.2 601.5L452.6 601.6L453.0 601.6L453.4 601.8L453.7 602.3L453.9 603.2L454.2 604.0L454.6 603.9L455.1 603.1L455.7 602.5L456.1 602.3L456.5 602.4L456.9 602.5L457.3 602.6L457.7 602.8L458.0 602.9L458.4 603.1L458.8 603.2L459.1 603.4L459.5 603.6L459.8 603.8L460.1 604.1L460.3 604.6L460.3 605.3L460.4 605.8L460.9 605.8L461.5 605.5L462.1 605.4L462.5 605.6L462.8 605.8L463.1 606.0L463.5 606.3L463.8 606.6L464.0 606.8L464.3 607.1L464.6 607.4L464.9 607.7L465.2 608.0L465.4 608.3L465.5 608.8L465.2 609.5L464.7 610.3L464.6 610.8L465.3 610.7L466.3 610.6L466.9 610.6L467.2 610.9L467.4 611.3L467.6 611.6L467.7 612.0L467.9 612.4L468.0 612.7L468.1 613.1L468.3 613.5L468.4 613.9L468.4 614.3L468.5 614.7L468.3 615.1L467.8 615.6L467.3 615.9L467.2 616.3L467.7 616.6L468.3 617.0L468.5 617.5L468.5 617.9L468.4 618.3L468.2 618.6L468.0 619.0L467.8 619.3L467.6 619.6L467.3 619.9L467.0 620.2L466.7 620.4L466.4 620.7L466.0 620.8L465.4 620.7L464.7 620.1L463.9 619.7L463.7 620.0L463.7 620.9L463.8 621.8L463.6 622.2L463.3 622.5L462.9 622.7L462.6 622.9L462.2 623.1L461.9 623.4L461.6 623.6L461.3 623.8L460.9 624.1L460.6 624.3L460.3 624.6L459.9 624.7L459.4 624.7L458.7 624.5L458.1 624.5L458.0 624.9L458.1 625.7L458.1 626.3L457.9 626.6L457.6 626.9L457.3 627.2L457.0 627.4L456.7 627.7L456.4 628.0L456.1 628.2L455.7 628.5L455.4 628.7L455.1 629.0L454.8 629.2L454.3 629.2L453.6 629.0L452.8 628.5L452.2 628.4L452.3 629.1L452.4 630.0L452.4 630.7L452.2 631.1L451.9 631.3L451.5 631.5L451.2 631.8L450.9 632.0L450.6 632.2L450.2 632.5L449.9 632.7L449.6 632.9L449.2 633.2L448.9 633.3L448.4 633.4L447.8 633.2L447.2 633.0L446.8 633.1L446.7 633.7L446.7 634.4L446.5 634.9L446.2 635.2L445.9 635.4L445.6 635.6L445.2 635.8L444.9 636.0L444.5 636.2L444.2 636.4L443.8 636.5L443.4 636.7L443.1 636.9L442.7 636.9L442.2 636.7L441.5 636.1L441.0 635.5L440.6 635.6L440.5 636.5L440.3 637.4L440.0 637.8L439.6 637.9L439.2 638.0L438.8 638.0L438.4 638.0L438.0 638.0L437.6 638.1L437.2 638.1L436.8 638.1L436.4 638.0L436.0 638.0L435.7 637.9L435.3 637.5L435.0 636.9L434.6 636.4L434.2 636.6L433.7 637.1L433.3 637.5L432.9 637.6L432.5 637.6L432.1 637.5L431.7 637.5L431.3 637.4L430.9 637.3L430.5 637.2L430.1 637.1L429.7 637.0L429.3 636.9L429.0 636.8L428.6 636.5L428.4 635.8L428.3 634.8L428.0 634.3L427.5 634.7L426.9 635.5L426.3 635.9L425.9 635.9L425.5 635.8L425.1 635.7L424.7 635.6L424.3 635.5L424.0 635.4L423.6 635.2L423.2 635.1L422.8 635.0L422.4 634.8L422.1 634.6L421.8 634.3L421.7 633.7L421.7 633.0L421.4 632.7L420.9 632.9L420.2 633.2L419.7 633.2L419.4 633.0L419.1 632.7L418.8 632.4L418.5 632.1L418.3 631.8L418.0 631.5L417.8 631.2L417.5 630.9L417.3 630.5L417.1 630.2L417.0 629.8L417.1 629.3L417.7 628.5L418.2 627.9L418.1 627.5L417.1 627.5L416.3 627.5L415.8 627.3L415.6 626.9L415.4 626.6L415.2 626.2L415.1 625.8L415.0 625.5L414.8 625.1L414.7 624.7L414.5 624.3L414.4 623.9L414.3 623.6L414.3 623.2L414.4 622.7L414.9 622.1L415.2 621.6L414.9 621.3L414.2 621.1L413.7 620.8L413.4 620.5L413.3 620.1L413.2 619.7L413.1 619.3L413.0 618.9L412.9 618.6L412.8 618.2L412.7 617.8L412.6 617.4L412.6 617.0L412.5 616.6L412.6 616.2L412.9 615.7L413.5 615.3Z" fill="#a6a6a6"/>
<g clip-path="url(#cbB)"><g filter="url(#cxB)"><path d="M413.8 614.9L413.5 614.5L412.8 614.2L412.4 613.8L412.3 613.4L412.3 613.0L412.4 612.6L412.4 612.2L412.5 611.8L412.6 611.4L412.7 611.0L412.8 610.7L412.9 610.3L413.1 609.9L413.3 609.6L413.7 609.3L414.5 609.4L415.4 609.6L415.9 609.5L415.5 608.8L415.1 608.0L415.0 607.4L415.2 607.0L415.4 606.7L415.7 606.4L416.0 606.1L416.3 605.9L416.6 605.6L416.9 605.4L417.3 605.1L417.6 604.9L417.9 604.7L418.3 604.6L418.8 604.6L419.4 604.9L420.0 605.2L420.3 605.1L420.4 604.5L420.6 603.8L420.9 603.4L421.2 603.2L421.6 603.1L422.0 603.0L422.4 602.8L422.7 602.7L423.1 602.6L423.5 602.5L423.9 602.4L424.3 602.3L424.7 602.3L425.1 602.3L425.6 602.7L426.1 603.4L426.6 604.0L427.0 603.7L427.2 602.8L427.5 602.1L427.8 601.7L428.2 601.6L428.6 601.6L429.0 601.5L429.4 601.5L429.8 601.4L430.2 601.4L430.6 601.3L431.0 601.3L431.4 601.3L431.8 601.3L432.2 601.4L432.6 601.7L433.1 602.3L433.5 602.6L433.9 602.3L434.2 601.7L434.6 601.2L435.0 601.1L435.4 601.0L435.8 601.0L436.2 601.0L436.6 601.0L437.0 601.0L437.4 601.0L437.8 601.0L438.2 601.0L438.6 601.0L439.0 601.0L439.4 601.3L439.8 601.9L440.2 602.8L440.6 603.1L441.0 602.5L441.4 601.6L441.8 601.1L442.2 601.0L442.6 601.0L443.0 601.0L443.4 601.0L443.8 601.0L444.2 601.0L444.6 601.0L445.0 601.0L445.4 601.1L445.8 601.1L446.2 601.1L446.6 601.4L447.0 601.9L447.4 602.5L447.8 602.6L448.2 602.1L448.6 601.5L449.0 601.3L449.4 601.3L449.8 601.3L450.2 601.3L450.6 601.3L451.0 601.4L451.4 601.4L451.8 601.5L452.2 601.5L452.6 601.6L453.0 601.6L453.4 601.8L453.7 602.3L453.9 603.2L454.2 604.0L454.6 603.9L455.1 603.1L455.7 602.5L456.1 602.3L456.5 602.4L456.9 602.5L457.3 602.6L457.7 602.8L458.0 602.9L458.4 603.1L458.8 603.2L459.1 603.4L459.5 603.6L459.8 603.8L460.1 604.1L460.3 604.6L460.3 605.3L460.4 605.8L460.9 605.8L461.5 605.5L462.1 605.4L462.5 605.6L462.8 605.8L463.1 606.0L463.5 606.3L463.8 606.6L464.0 606.8L464.3 607.1L464.6 607.4L464.9 607.7L465.2 608.0L465.4 608.3L465.5 608.8L465.2 609.5L464.7 610.3L464.6 610.8L465.3 610.7L466.3 610.6L466.9 610.6L467.2 610.9L467.4 611.3L467.6 611.6L467.7 612.0L467.9 612.4L468.0 612.7L468.1 613.1L468.3 613.5L468.4 613.9L468.4 614.3L468.5 614.7L468.3 615.1L467.8 615.6L467.3 615.9L467.2 616.3L467.7 616.6L468.3 617.0L468.5 617.5L468.5 617.9L468.4 618.3L468.2 618.6L468.0 619.0L467.8 619.3L467.6 619.6L467.3 619.9L467.0 620.2L466.7 620.4L466.4 620.7L466.0 620.8L465.4 620.7L464.7 620.1L463.9 619.7L463.7 620.0L463.7 620.9L463.8 621.8L463.6 622.2L463.3 622.5L462.9 622.7L462.6 622.9L462.2 623.1L461.9 623.4L461.6 623.6L461.3 623.8L460.9 624.1L460.6 624.3L460.3 624.6L459.9 624.7L459.4 624.7L458.7 624.5L458.1 624.5L458.0 624.9L458.1 625.7L458.1 626.3L457.9 626.6L457.6 626.9L457.3 627.2L457.0 627.4L456.7 627.7L456.4 628.0L456.1 628.2L455.7 628.5L455.4 628.7L455.1 629.0L454.8 629.2L454.3 629.2L453.6 629.0L452.8 628.5L452.2 628.4L452.3 629.1L452.4 630.0L452.4 630.7L452.2 631.1L451.9 631.3L451.5 631.5L451.2 631.8L450.9 632.0L450.6 632.2L450.2 632.5L449.9 632.7L449.6 632.9L449.2 633.2L448.9 633.3L448.4 633.4L447.8 633.2L447.2 633.0L446.8 633.1L446.7 633.7L446.7 634.4L446.5 634.9L446.2 635.2L445.9 635.4L445.6 635.6L445.2 635.8L444.9 636.0L444.5 636.2L444.2 636.4L443.8 636.5L443.4 636.7L443.1 636.9L442.7 636.9L442.2 636.7L441.5 636.1L441.0 635.5L440.6 635.6L440.5 636.5L440.3 637.4L440.0 637.8L439.6 637.9L439.2 638.0L438.8 638.0L438.4 638.0L438.0 638.0L437.6 638.1L437.2 638.1L436.8 638.1L436.4 638.0L436.0 638.0L435.7 637.9L435.3 637.5L435.0 636.9L434.6 636.4L434.2 636.6L433.7 637.1L433.3 637.5L432.9 637.6L432.5 637.6L432.1 637.5L431.7 637.5L431.3 637.4L430.9 637.3L430.5 637.2L430.1 637.1L429.7 637.0L429.3 636.9L429.0 636.8L428.6 636.5L428.4 635.8L428.3 634.8L428.0 634.3L427.5 634.7L426.9 635.5L426.3 635.9L425.9 635.9L425.5 635.8L425.1 635.7L424.7 635.6L424.3 635.5L424.0 635.4L423.6 635.2L423.2 635.1L422.8 635.0L422.4 634.8L422.1 634.6L421.8 634.3L421.7 633.7L421.7 633.0L421.4 632.7L420.9 632.9L420.2 633.2L419.7 633.2L419.4 633.0L419.1 632.7L418.8 632.4L418.5 632.1L418.3 631.8L418.0 631.5L417.8 631.2L417.5 630.9L417.3 630.5L417.1 630.2L417.0 629.8L417.1 629.3L417.7 628.5L418.2 627.9L418.1 627.5L417.1 627.5L416.3 627.5L415.8 627.3L415.6 626.9L415.4 626.6L415.2 626.2L415.1 625.8L415.0 625.5L414.8 625.1L414.7 624.7L414.5 624.3L414.4 623.9L414.3 623.6L414.3 623.2L414.4 622.7L414.9 622.1L415.2 621.6L414.9 621.3L414.2 621.1L413.7 620.8L413.4 620.5L413.3 620.1L413.2 619.7L413.1 619.3L413.0 618.9L412.9 618.6L412.8 618.2L412.7 617.8L412.6 617.4L412.6 617.0L412.5 616.6L412.6 616.2L412.9 615.7L413.5 615.3Z" fill="none" stroke="#707070" stroke-width="12"/><path d="M430.3 618.2L412.3 615.0M431.5 615.2L415.8 606.3M435.2 613.7L426.3 601.9M441.3 613.4L443.8 601.0M446.2 614.0L457.8 602.8M449.3 616.4L466.6 609.8M449.9 619.5L468.3 618.5M447.5 621.3L461.3 623.8M444.4 623.8L452.6 630.8M440.1 626.2L440.3 637.8M435.2 625.6L426.3 636.1M432.1 623.8L417.5 630.8" stroke="#b0b0b0" stroke-width="2.2" fill="none"/></g><path d="M430.3 618.2L412.3 615.0M431.5 615.2L415.8 606.3M435.2 613.7L426.3 601.9M441.3 613.4L443.8 601.0M446.2 614.0L457.8 602.8M449.3 616.4L466.6 609.8M449.9 619.5L468.3 618.5M447.5 621.3L461.3 623.8M444.4 623.8L452.6 630.8M440.1 626.2L440.3 637.8M435.2 625.6L426.3 636.1M432.1 623.8L417.5 630.8" stroke="#4a4a4a" stroke-width="0.9" fill="none" transform="translate(1.2,0.8)"/></g>
<path d="M413.8 614.9L413.5 614.5L412.8 614.2L412.4 613.8L412.3 613.4L412.3 613.0L412.4 612.6L412.4 612.2L412.5 611.8L412.6 611.4L412.7 611.0L412.8 610.7L412.9 610.3L413.1 609.9L413.3 609.6L413.7 609.3L414.5 609.4L415.4 609.6L415.9 609.5L415.5 608.8L415.1 608.0L415.0 607.4L415.2 607.0L415.4 606.7L415.7 606.4L416.0 606.1L416.3 605.9L416.6 605.6L416.9 605.4L417.3 605.1L417.6 604.9L417.9 604.7L418.3 604.6L418.8 604.6L419.4 604.9L420.0 605.2L420.3 605.1L420.4 604.5L420.6 603.8L420.9 603.4L421.2 603.2L421.6 603.1L422.0 603.0L422.4 602.8L422.7 602.7L423.1 602.6L423.5 602.5L423.9 602.4L424.3 602.3L424.7 602.3L425.1 602.3L425.6 602.7L426.1 603.4L426.6 604.0L427.0 603.7L427.2 602.8L427.5 602.1L427.8 601.7L428.2 601.6L428.6 601.6L429.0 601.5L429.4 601.5L429.8 601.4L430.2 601.4L430.6 601.3L431.0 601.3L431.4 601.3L431.8 601.3L432.2 601.4L432.6 601.7L433.1 602.3L433.5 602.6L433.9 602.3L434.2 601.7L434.6 601.2L435.0 601.1L435.4 601.0L435.8 601.0L436.2 601.0L436.6 601.0L437.0 601.0L437.4 601.0L437.8 601.0L438.2 601.0L438.6 601.0L439.0 601.0L439.4 601.3L439.8 601.9L440.2 602.8L440.6 603.1L441.0 602.5L441.4 601.6L441.8 601.1L442.2 601.0L442.6 601.0L443.0 601.0L443.4 601.0L443.8 601.0L444.2 601.0L444.6 601.0L445.0 601.0L445.4 601.1L445.8 601.1L446.2 601.1L446.6 601.4L447.0 601.9L447.4 602.5L447.8 602.6L448.2 602.1L448.6 601.5L449.0 601.3L449.4 601.3L449.8 601.3L450.2 601.3L450.6 601.3L451.0 601.4L451.4 601.4L451.8 601.5L452.2 601.5L452.6 601.6L453.0 601.6L453.4 601.8L453.7 602.3L453.9 603.2L454.2 604.0L454.6 603.9L455.1 603.1L455.7 602.5L456.1 602.3L456.5 602.4L456.9 602.5L457.3 602.6L457.7 602.8L458.0 602.9L458.4 603.1L458.8 603.2L459.1 603.4L459.5 603.6L459.8 603.8L460.1 604.1L460.3 604.6L460.3 605.3L460.4 605.8L460.9 605.8L461.5 605.5L462.1 605.4L462.5 605.6L462.8 605.8L463.1 606.0L463.5 606.3L463.8 606.6L464.0 606.8L464.3 607.1L464.6 607.4L464.9 607.7L465.2 608.0L465.4 608.3L465.5 608.8L465.2 609.5L464.7 610.3L464.6 610.8L465.3 610.7L466.3 610.6L466.9 610.6L467.2 610.9L467.4 611.3L467.6 611.6L467.7 612.0L467.9 612.4L468.0 612.7L468.1 613.1L468.3 613.5L468.4 613.9L468.4 614.3L468.5 614.7L468.3 615.1L467.8 615.6L467.3 615.9L467.2 616.3L467.7 616.6L468.3 617.0L468.5 617.5L468.5 617.9L468.4 618.3L468.2 618.6L468.0 619.0L467.8 619.3L467.6 619.6L467.3 619.9L467.0 620.2L466.7 620.4L466.4 620.7L466.0 620.8L465.4 620.7L464.7 620.1L463.9 619.7L463.7 620.0L463.7 620.9L463.8 621.8L463.6 622.2L463.3 622.5L462.9 622.7L462.6 622.9L462.2 623.1L461.9 623.4L461.6 623.6L461.3 623.8L460.9 624.1L460.6 624.3L460.3 624.6L459.9 624.7L459.4 624.7L458.7 624.5L458.1 624.5L458.0 624.9L458.1 625.7L458.1 626.3L457.9 626.6L457.6 626.9L457.3 627.2L457.0 627.4L456.7 627.7L456.4 628.0L456.1 628.2L455.7 628.5L455.4 628.7L455.1 629.0L454.8 629.2L454.3 629.2L453.6 629.0L452.8 628.5L452.2 628.4L452.3 629.1L452.4 630.0L452.4 630.7L452.2 631.1L451.9 631.3L451.5 631.5L451.2 631.8L450.9 632.0L450.6 632.2L450.2 632.5L449.9 632.7L449.6 632.9L449.2 633.2L448.9 633.3L448.4 633.4L447.8 633.2L447.2 633.0L446.8 633.1L446.7 633.7L446.7 634.4L446.5 634.9L446.2 635.2L445.9 635.4L445.6 635.6L445.2 635.8L444.9 636.0L444.5 636.2L444.2 636.4L443.8 636.5L443.4 636.7L443.1 636.9L442.7 636.9L442.2 636.7L441.5 636.1L441.0 635.5L440.6 635.6L440.5 636.5L440.3 637.4L440.0 637.8L439.6 637.9L439.2 638.0L438.8 638.0L438.4 638.0L438.0 638.0L437.6 638.1L437.2 638.1L436.8 638.1L436.4 638.0L436.0 638.0L435.7 637.9L435.3 637.5L435.0 636.9L434.6 636.4L434.2 636.6L433.7 637.1L433.3 637.5L432.9 637.6L432.5 637.6L432.1 637.5L431.7 637.5L431.3 637.4L430.9 637.3L430.5 637.2L430.1 637.1L429.7 637.0L429.3 636.9L429.0 636.8L428.6 636.5L428.4 635.8L428.3 634.8L428.0 634.3L427.5 634.7L426.9 635.5L426.3 635.9L425.9 635.9L425.5 635.8L425.1 635.7L424.7 635.6L424.3 635.5L424.0 635.4L423.6 635.2L423.2 635.1L422.8 635.0L422.4 634.8L422.1 634.6L421.8 634.3L421.7 633.7L421.7 633.0L421.4 632.7L420.9 632.9L420.2 633.2L419.7 633.2L419.4 633.0L419.1 632.7L418.8 632.4L418.5 632.1L418.3 631.8L418.0 631.5L417.8 631.2L417.5 630.9L417.3 630.5L417.1 630.2L417.0 629.8L417.1 629.3L417.7 628.5L418.2 627.9L418.1 627.5L417.1 627.5L416.3 627.5L415.8 627.3L415.6 626.9L415.4 626.6L415.2 626.2L415.1 625.8L415.0 625.5L414.8 625.1L414.7 624.7L414.5 624.3L414.4 623.9L414.3 623.6L414.3 623.2L414.4 622.7L414.9 622.1L415.2 621.6L414.9 621.3L414.2 621.1L413.7 620.8L413.4 620.5L413.3 620.1L413.2 619.7L413.1 619.3L413.0 618.9L412.9 618.6L412.8 618.2L412.7 617.8L412.6 617.4L412.6 617.0L412.5 616.6L412.6 616.2L412.9 615.7L413.5 615.3Z" fill="none" stroke="#333" stroke-width="1.2"/>
<path d="M457.5 575.0L457.9 574.4L458.3 574.0L458.9 573.7L459.5 573.5L460.1 573.3L460.7 573.2L461.4 573.1L462.0 573.0L462.6 572.9L463.3 572.9L463.9 572.9L464.6 572.9L465.3 573.0L465.9 573.1L466.5 573.3L467.0 573.5L467.5 573.8L467.9 574.1L468.3 574.5L468.6 574.9L468.9 575.4L469.2 575.9L469.4 576.4L469.5 577.0L469.6 577.6L469.6 578.4L469.5 579.1L469.4 579.9L469.3 580.7L469.1 581.5L468.8 582.3L468.5 583.0L468.1 583.7L467.6 584.4L467.0 585.1L466.4 585.7L465.8 586.3L465.2 586.9L464.6 587.3L464.0 587.7L463.5 588.0L462.9 588.2L462.4 588.4L461.9 588.5L461.4 588.5L460.9 588.4L460.4 588.2L460.0 588.0L459.6 587.6L459.1 587.2L458.6 586.6L458.2 586.0L457.8 585.3L457.5 584.6L457.2 583.8L457.0 583.0L456.9 582.1L456.8 581.1L456.8 580.0L456.8 578.8L456.9 577.7L457.0 576.6L457.2 575.7Z" fill="#fff" stroke="#333" stroke-width="0.9"/>
<ellipse cx="418" cy="599" rx="2.2" ry="0.9" fill="#fff"/>
<ellipse cx="427" cy="598" rx="1.8" ry="0.8" fill="#fff"/>
<ellipse cx="437" cy="596" rx="1.6" ry="1.0" fill="#fff"/>
<ellipse cx="450" cy="592" rx="1.8" ry="0.8" fill="#fff"/>
<ellipse cx="456" cy="586" rx="1.5" ry="1.0" fill="#fff"/>
<ellipse cx="425" cy="590" rx="1.4" ry="1.0" fill="#fff"/>
<ellipse cx="535" cy="596" rx="1.8" ry="0.9" fill="#fff"/>
<ellipse cx="545" cy="602" rx="1.5" ry="1.0" fill="#fff"/>
<path d="M459.2 588.4L459.5 588.8L459.9 589.4L460.4 590.1L460.9 590.9L461.4 591.7L461.9 592.5L462.5 593.3L463.1 594.0L463.7 594.7L464.3 595.4L465.0 596.1L465.7 596.9L466.4 597.6L467.1 598.2L467.8 598.9L468.6 599.5L469.4 600.1L470.2 600.6L471.1 601.1L471.9 601.5L472.8 602.0L473.6 602.4L474.5 602.9L475.3 603.4L476.1 603.9L477.0 604.5L477.8 605.0L478.6 605.6L479.4 606.2L480.2 606.7L480.8 607.3L481.4 607.8L481.9 608.3L482.3 608.8L482.6 609.3L482.9 609.7L483.1 610.2L483.3 610.7L483.4 611.2L483.6 611.7L483.8 612.3L483.9 612.9L484.0 613.5L484.1 614.1L484.1 614.7L484.1 615.3L484.0 615.8L483.9 616.2L483.7 616.5L483.4 616.8L483.1 617.1L482.7 617.3L482.3 617.4L481.8 617.5L481.3 617.5L480.8 617.3L480.2 617.0L479.6 616.6L478.9 616.0L478.2 615.4L477.5 614.8L476.7 614.1L476.0 613.4L475.3 612.8L474.6 612.2L473.9 611.6L473.3 611.0L472.6 610.4L471.9 609.7L471.2 609.1L470.4 608.5L469.7 607.8L468.9 607.1L468.1 606.5L467.2 605.8L466.3 605.1L465.5 604.4L464.6 603.7L463.8 603.0L463.1 602.3L462.4 601.6L461.8 600.9L461.2 600.2L460.6 599.5L460.0 598.8L459.5 598.1L459.1 597.4L458.7 596.8L458.4 596.2L458.1 595.6L457.9 595.0L457.7 594.4L457.5 593.9L457.4 593.4L457.3 592.8L457.3 592.3L457.3 591.8L457.3 591.2L457.4 590.6L457.5 590.1L457.7 589.6L457.8 589.1L458.0 588.7L458.1 588.4L458.2 588.2L458.3 588.0L458.4 587.9L458.5 587.8L458.6 587.8L458.7 587.9L458.9 588.1Z" fill="#d8cd0c" stroke="#9a9010" stroke-width="0.5"/>
</g>
<path d="M65.8 40.3V431.5H583.5" fill="none" stroke="#8c8c8c" stroke-width="1.4"/>
<text x="61.0" y="65.0" text-anchor="end" class="tk">6000</text>
<text x="61.0" y="123.73" text-anchor="end" class="tk">5500</text>
<text x="61.0" y="182.46" text-anchor="end" class="tk">5000</text>
<text x="61.0" y="241.19" text-anchor="end" class="tk">4500</text>
<text x="61.0" y="299.92" text-anchor="end" class="tk">4000</text>
<text x="61.0" y="358.65" text-anchor="end" class="tk">3500</text>
<text x="61.0" y="417.38" text-anchor="end" class="tk">3000</text>
<text x="91.6" y="446.7" text-anchor="middle" class="tk">2</text>
<text x="208.3" y="446.7" text-anchor="middle" class="tk">4</text>
<text x="325.0" y="446.7" text-anchor="middle" class="tk">6</text>
<text x="441.70000000000005" y="446.7" text-anchor="middle" class="tk">8</text>
<text x="558.4" y="446.7" text-anchor="middle" class="tk">10</text>
<g fill="none" stroke="#e0043a" stroke-width="2.5"><circle cx="91.6" cy="138.7" r="5.0"/>
<circle cx="91.6" cy="174.2" r="5.0"/>
<circle cx="91.6" cy="212.4" r="5.0"/>
<circle cx="150.0" cy="139.5" r="5.0"/>
<circle cx="150.0" cy="199.5" r="5.0"/>
<circle cx="150.0" cy="231.5" r="5.0"/>
<circle cx="150.0" cy="269.4" r="5.0"/>
<circle cx="208.2" cy="102.1" r="5.0"/>
<circle cx="208.2" cy="144.7" r="5.0"/>
<circle cx="208.2" cy="192.0" r="5.0"/>
<circle cx="208.2" cy="263.9" r="5.0"/>
<circle cx="266.5" cy="139.0" r="5.0"/>
<circle cx="266.5" cy="155.4" r="5.0"/>
<circle cx="266.5" cy="170.0" r="5.0"/>
<circle cx="266.5" cy="175.5" r="5.0"/>
<circle cx="266.5" cy="203.4" r="5.0"/>
<circle cx="266.5" cy="211.2" r="5.0"/>
<circle cx="266.5" cy="245.5" r="5.0"/>
<circle cx="266.5" cy="311.7" r="5.0"/>
<circle cx="324.8" cy="247.5" r="5.0"/>
<circle cx="324.8" cy="267.8" r="5.0"/>
<circle cx="383.1" cy="152.7" r="5.0"/>
<circle cx="383.1" cy="202.0" r="5.0"/>
<circle cx="383.1" cy="273.1" r="5.0"/>
<circle cx="441.3" cy="229.7" r="5.0"/>
<circle cx="441.3" cy="234.3" r="5.0"/>
<circle cx="441.3" cy="237.3" r="5.0"/>
<circle cx="441.3" cy="263.9" r="5.0"/>
<circle cx="499.6" cy="263.3" r="5.0"/>
<circle cx="499.6" cy="265.9" r="5.0"/>
<circle cx="499.6" cy="267.7" r="5.0"/>
<circle cx="499.6" cy="294.8" r="5.0"/>
<circle cx="499.6" cy="371.0" r="5.0"/>
<circle cx="499.6" cy="399.4" r="5.0"/>
<circle cx="557.8" cy="263.3" r="5.0"/></g>
<g fill="none" stroke="#3a8ee2" stroke-width="2.5"><circle cx="91.6" cy="113.7" r="5.0"/>
<circle cx="91.6" cy="149.3" r="5.0"/>
<circle cx="91.6" cy="193.3" r="5.0"/>
<circle cx="91.6" cy="205.6" r="5.0"/>
<circle cx="91.6" cy="221.5" r="5.0"/>
<circle cx="91.6" cy="237.5" r="5.0"/>
<circle cx="91.6" cy="244.5" r="5.0"/>
<circle cx="91.6" cy="272.5" r="5.0"/>
<circle cx="91.6" cy="281.0" r="5.0"/>
<circle cx="150.0" cy="100.4" r="5.0"/>
<circle cx="150.0" cy="132.5" r="5.0"/>
<circle cx="150.0" cy="149.6" r="5.0"/>
<circle cx="150.0" cy="170.6" r="5.0"/>
<circle cx="150.0" cy="193.5" r="5.0"/>
<circle cx="150.0" cy="196.5" r="5.0"/>
<circle cx="150.0" cy="215.5" r="5.0"/>
<circle cx="150.0" cy="218.5" r="5.0"/>
<circle cx="150.0" cy="225.5" r="5.0"/>
<circle cx="150.0" cy="235.3" r="5.0"/>
<circle cx="150.0" cy="246.7" r="5.0"/>
<circle cx="150.0" cy="258.0" r="5.0"/>
<circle cx="150.0" cy="272.4" r="5.0"/>
<circle cx="150.0" cy="278.5" r="5.0"/>
<circle cx="150.0" cy="288.3" r="5.0"/>
<circle cx="150.0" cy="299.7" r="5.0"/>
<circle cx="150.0" cy="318.6" r="5.0"/>
<circle cx="208.2" cy="131.0" r="5.0"/>
<circle cx="208.2" cy="171.6" r="5.0"/>
<circle cx="208.2" cy="181.9" r="5.0"/>
<circle cx="208.2" cy="200.8" r="5.0"/>
<circle cx="208.2" cy="213.5" r="5.0"/>
<circle cx="208.2" cy="217.0" r="5.0"/>
<circle cx="208.2" cy="220.0" r="5.0"/>
<circle cx="208.2" cy="242.8" r="5.0"/>
<circle cx="208.2" cy="254.5" r="5.0"/>
<circle cx="208.2" cy="257.7" r="5.0"/>
<circle cx="208.2" cy="269.9" r="5.0"/>
<circle cx="208.2" cy="280.4" r="5.0"/>
<circle cx="208.2" cy="290.9" r="5.0"/>
<circle cx="208.2" cy="341.5" r="5.0"/>
<circle cx="266.5" cy="134.2" r="5.0"/>
<circle cx="266.5" cy="192.9" r="5.0"/>
<circle cx="266.5" cy="205.3" r="5.0"/>
<circle cx="266.5" cy="227.5" r="5.0"/>
<circle cx="266.5" cy="231.6" r="5.0"/>
<circle cx="266.5" cy="235.8" r="5.0"/>
<circle cx="266.5" cy="250.0" r="5.0"/>
<circle cx="266.5" cy="257.2" r="5.0"/>
<circle cx="266.5" cy="272.2" r="5.0"/>
<circle cx="266.5" cy="291.7" r="5.0"/>
<circle cx="266.5" cy="299.4" r="5.0"/>
<circle cx="324.8" cy="210.2" r="5.0"/>
<circle cx="324.8" cy="252.2" r="5.0"/>
<circle cx="324.8" cy="258.4" r="5.0"/>
<circle cx="324.8" cy="271.8" r="5.0"/>
<circle cx="324.8" cy="280.9" r="5.0"/>
<circle cx="324.8" cy="289.0" r="5.0"/>
<circle cx="324.8" cy="293.7" r="5.0"/>
<circle cx="324.8" cy="300.0" r="5.0"/>
<circle cx="324.8" cy="339.9" r="5.0"/>
<circle cx="383.1" cy="182.1" r="5.0"/>
<circle cx="383.1" cy="189.2" r="5.0"/>
<circle cx="383.1" cy="200.2" r="5.0"/>
<circle cx="383.1" cy="226.7" r="5.0"/>
<circle cx="383.1" cy="237.9" r="5.0"/>
<circle cx="383.1" cy="253.3" r="5.0"/>
<circle cx="383.1" cy="263.9" r="5.0"/>
<circle cx="383.1" cy="266.5" r="5.0"/>
<circle cx="383.1" cy="285.5" r="5.0"/>
<circle cx="383.1" cy="304.6" r="5.0"/>
<circle cx="441.3" cy="184.4" r="5.0"/>
<circle cx="499.6" cy="277.3" r="5.0"/>
<circle cx="557.8" cy="281.7" r="5.0"/></g>
<line x1="65.8" y1="170.5" x2="583.3" y2="301.8" stroke="#e2063a" stroke-width="4.2"/>
<line x1="65.8" y1="215.1" x2="583.3" y2="278.2" stroke="#4096e6" stroke-width="4.2"/>
<text class="lab" transform="translate(19.5,235.5) rotate(-90)" text-anchor="middle" textLength="134.5" lengthAdjust="spacingAndGlyphs">right hippocampus</text>
<text class="lab" x="324.6" y="472.6" text-anchor="middle" textLength="222.5" lengthAdjust="spacingAndGlyphs">taste/smell sensation avoiding</text>
<text class="st" x="519.6" y="376.6" fill="#e3151d" stroke="#e3151d" textLength="151.5" lengthAdjust="spacingAndGlyphs">P&lt;0.001, r=-0.510</text>
<text class="st" x="520.0" y="406.9" fill="#1ea2dc" stroke="#1ea2dc" textLength="149.0" lengthAdjust="spacingAndGlyphs">p=0.078, r=-0.197</text>
<path d="M64.5 539.6V938.3H568.9" fill="none" stroke="#8c8c8c" stroke-width="1.4"/>
<text x="59.9" y="564.5999999999999" text-anchor="end" class="tk">6000</text>
<text x="59.9" y="624.3799999999999" text-anchor="end" class="tk">5500</text>
<text x="59.9" y="684.1599999999999" text-anchor="end" class="tk">5000</text>
<text x="59.9" y="743.9399999999999" text-anchor="end" class="tk">4500</text>
<text x="59.9" y="803.7199999999999" text-anchor="end" class="tk">4000</text>
<text x="59.9" y="863.4999999999999" text-anchor="end" class="tk">3500</text>
<text x="59.9" y="923.28" text-anchor="end" class="tk">3000</text>
<text x="89.4" y="953.5" text-anchor="middle" class="tk">2</text>
<text x="203.0" y="953.5" text-anchor="middle" class="tk">4</text>
<text x="316.6" y="953.5" text-anchor="middle" class="tk">6</text>
<text x="430.19999999999993" y="953.5" text-anchor="middle" class="tk">8</text>
<text x="543.8" y="953.5" text-anchor="middle" class="tk">10</text>
<g fill="none" stroke="#e0043a" stroke-width="2.5"><circle cx="89.6" cy="655.3" r="5.0"/>
<circle cx="89.6" cy="707.3" r="5.0"/>
<circle cx="89.6" cy="720.4" r="5.0"/>
<circle cx="146.3" cy="634.9" r="5.0"/>
<circle cx="146.3" cy="764.2" r="5.0"/>
<circle cx="146.3" cy="770.3" r="5.0"/>
<circle cx="146.3" cy="785.5" r="5.0"/>
<circle cx="203.1" cy="638.4" r="5.0"/>
<circle cx="203.1" cy="649.0" r="5.0"/>
<circle cx="203.1" cy="713.4" r="5.0"/>
<circle cx="203.1" cy="765.8" r="5.0"/>
<circle cx="203.1" cy="816.5" r="5.0"/>
<circle cx="259.7" cy="646.4" r="5.0"/>
<circle cx="259.7" cy="679.2" r="5.0"/>
<circle cx="259.7" cy="699.4" r="5.0"/>
<circle cx="259.7" cy="704.4" r="5.0"/>
<circle cx="259.7" cy="738.3" r="5.0"/>
<circle cx="259.7" cy="784.8" r="5.0"/>
<circle cx="259.7" cy="807.4" r="5.0"/>
<circle cx="316.5" cy="784.9" r="5.0"/>
<circle cx="316.5" cy="814.4" r="5.0"/>
<circle cx="316.5" cy="850.2" r="5.0"/>
<circle cx="373.0" cy="717.8" r="5.0"/>
<circle cx="373.0" cy="793.6" r="5.0"/>
<circle cx="373.0" cy="798.2" r="5.0"/>
<circle cx="429.7" cy="750.6" r="5.0"/>
<circle cx="429.7" cy="755.5" r="5.0"/>
<circle cx="429.7" cy="795.5" r="5.0"/>
<circle cx="429.7" cy="807.6" r="5.0"/>
<circle cx="486.6" cy="794.1" r="5.0"/>
<circle cx="486.6" cy="852.8" r="5.0"/>
<circle cx="486.6" cy="862.2" r="5.0"/>
<circle cx="486.6" cy="871.7" r="5.0"/>
<circle cx="543.1" cy="828.6" r="5.0"/></g>
<g fill="none" stroke="#3a8ee2" stroke-width="2.5"><circle cx="89.6" cy="600.5" r="5.0"/>
<circle cx="89.6" cy="665.9" r="5.0"/>
<circle cx="89.6" cy="674.8" r="5.0"/>
<circle cx="89.6" cy="711.9" r="5.0"/>
<circle cx="89.6" cy="726.4" r="5.0"/>
<circle cx="89.6" cy="742.6" r="5.0"/>
<circle cx="89.6" cy="753.6" r="5.0"/>
<circle cx="89.6" cy="757.6" r="5.0"/>
<circle cx="89.6" cy="761.0" r="5.0"/>
<circle cx="89.6" cy="805.6" r="5.0"/>
<circle cx="89.6" cy="835.5" r="5.0"/>
<circle cx="146.3" cy="643.3" r="5.0"/>
<circle cx="146.3" cy="665.3" r="5.0"/>
<circle cx="146.3" cy="712.3" r="5.0"/>
<circle cx="146.3" cy="721.2" r="5.0"/>
<circle cx="146.3" cy="724.0" r="5.0"/>
<circle cx="146.3" cy="731.8" r="5.0"/>
<circle cx="146.3" cy="748.5" r="5.0"/>
<circle cx="146.3" cy="756.7" r="5.0"/>
<circle cx="146.3" cy="775.6" r="5.0"/>
<circle cx="146.3" cy="783.2" r="5.0"/>
<circle cx="146.3" cy="799.8" r="5.0"/>
<circle cx="146.3" cy="803.6" r="5.0"/>
<circle cx="146.3" cy="808.9" r="5.0"/>
<circle cx="146.3" cy="825.6" r="5.0"/>
<circle cx="146.3" cy="849.1" r="5.0"/>
<circle cx="146.3" cy="873.3" r="5.0"/>
<circle cx="203.1" cy="692.9" r="5.0"/>
<circle cx="203.1" cy="701.8" r="5.0"/>
<circle cx="203.1" cy="724.0" r="5.0"/>
<circle cx="203.1" cy="731.8" r="5.0"/>
<circle cx="203.1" cy="734.6" r="5.0"/>
<circle cx="203.1" cy="741.7" r="5.0"/>
<circle cx="203.1" cy="752.0" r="5.0"/>
<circle cx="203.1" cy="755.9" r="5.0"/>
<circle cx="203.1" cy="762.7" r="5.0"/>
<circle cx="203.1" cy="793.8" r="5.0"/>
<circle cx="203.1" cy="796.8" r="5.0"/>
<circle cx="203.1" cy="808.9" r="5.0"/>
<circle cx="203.1" cy="852.1" r="5.0"/>
<circle cx="259.7" cy="665.9" r="5.0"/>
<circle cx="259.7" cy="718.5" r="5.0"/>
<circle cx="259.7" cy="721.4" r="5.0"/>
<circle cx="259.7" cy="727.0" r="5.0"/>
<circle cx="259.7" cy="730.6" r="5.0"/>
<circle cx="259.7" cy="751.8" r="5.0"/>
<circle cx="259.7" cy="755.3" r="5.0"/>
<circle cx="259.7" cy="769.7" r="5.0"/>
<circle cx="259.7" cy="797.1" r="5.0"/>
<circle cx="259.7" cy="801.0" r="5.0"/>
<circle cx="259.7" cy="806.0" r="5.0"/>
<circle cx="259.7" cy="813.8" r="5.0"/>
<circle cx="259.7" cy="822.3" r="5.0"/>
<circle cx="316.5" cy="725.5" r="5.0"/>
<circle cx="316.5" cy="767.2" r="5.0"/>
<circle cx="316.5" cy="775.0" r="5.0"/>
<circle cx="316.5" cy="789.9" r="5.0"/>
<circle cx="316.5" cy="807.3" r="5.0"/>
<circle cx="316.5" cy="820.8" r="5.0"/>
<circle cx="316.5" cy="833.5" r="5.0"/>
<circle cx="316.5" cy="838.0" r="5.0"/>
<circle cx="373.0" cy="699.6" r="5.0"/>
<circle cx="373.0" cy="747.3" r="5.0"/>
<circle cx="373.0" cy="751.8" r="5.0"/>
<circle cx="373.0" cy="764.5" r="5.0"/>
<circle cx="373.0" cy="780.5" r="5.0"/>
<circle cx="373.0" cy="784.5" r="5.0"/>
<circle cx="373.0" cy="806.7" r="5.0"/>
<circle cx="373.0" cy="848.2" r="5.0"/>
<circle cx="373.0" cy="850.0" r="5.0"/>
<circle cx="429.7" cy="731.2" r="5.0"/>
<circle cx="486.6" cy="820.2" r="5.0"/>
<circle cx="543.1" cy="822.4" r="5.0"/></g>
<line x1="64.5" y1="691.8" x2="568.2" y2="842.1" stroke="#e2063a" stroke-width="4.2"/>
<line x1="64.5" y1="737.4" x2="568.2" y2="819.2" stroke="#4096e6" stroke-width="4.2"/>
<text class="lab" transform="translate(19.5,738.0) rotate(-90)" text-anchor="middle" textLength="125.5" lengthAdjust="spacingAndGlyphs">left hippocampus</text>
<text class="lab" x="316.3" y="981.3" text-anchor="middle" textLength="215.5" lengthAdjust="spacingAndGlyphs">taste/smell sensation avoiding</text>
<text class="st" x="500.0" y="887.3" fill="#e3151d" stroke="#e3151d" textLength="151.8" lengthAdjust="spacingAndGlyphs">P&lt;0.001, r=-0.540</text>
<text class="st" x="499.4" y="916.5" fill="#1ea2dc" stroke="#1ea2dc" textLength="151.0" lengthAdjust="spacingAndGlyphs">p=0.027, r=-0.246</text>
<g transform="translate(0,58) scale(1,1.0) translate(0,-58)">
<text x="599.6" y="58" class="lg" textLength="45" lengthAdjust="spacingAndGlyphs">Group</text>
<circle cx="607.6" cy="73.3" r="4.6" fill="none" stroke="#e0043a" stroke-width="2.3"/>
<circle cx="607.6" cy="87.1" r="4.6" fill="none" stroke="#3a8ee2" stroke-width="2.3"/>
<line x1="597.5" y1="97.6" x2="618" y2="105.4" stroke="#e2063a" stroke-width="3.8"/>
<line x1="597.5" y1="111.8" x2="618" y2="119.4" stroke="#4096e6" stroke-width="3.8"/>
<text x="622.6" y="77.9" class="li">ASD</text>
<text x="622.6" y="92.2" class="li">TD</text>
<text x="622.6" y="106.7" class="li">ASD</text>
<text x="622.6" y="120.8" class="li">TD</text>
</g>
<g transform="translate(-15.7,557.2) scale(1,1.029) translate(0,-58)">
<text x="599.6" y="58" class="lg" textLength="45" lengthAdjust="spacingAndGlyphs">Group</text>
<circle cx="607.6" cy="73.3" r="4.6" fill="none" stroke="#e0043a" stroke-width="2.3"/>
<circle cx="607.6" cy="87.1" r="4.6" fill="none" stroke="#3a8ee2" stroke-width="2.3"/>
<line x1="597.5" y1="97.6" x2="618" y2="105.4" stroke="#e2063a" stroke-width="3.8"/>
<line x1="597.5" y1="111.8" x2="618" y2="119.4" stroke="#4096e6" stroke-width="3.8"/>
<text x="622.6" y="77.9" class="li">ASD</text>
<text x="622.6" y="92.2" class="li">TD</text>
<text x="622.6" y="106.7" class="li">ASD</text>
<text x="622.6" y="120.8" class="li">TD</text>
</g>
</svg>
</body></html>
